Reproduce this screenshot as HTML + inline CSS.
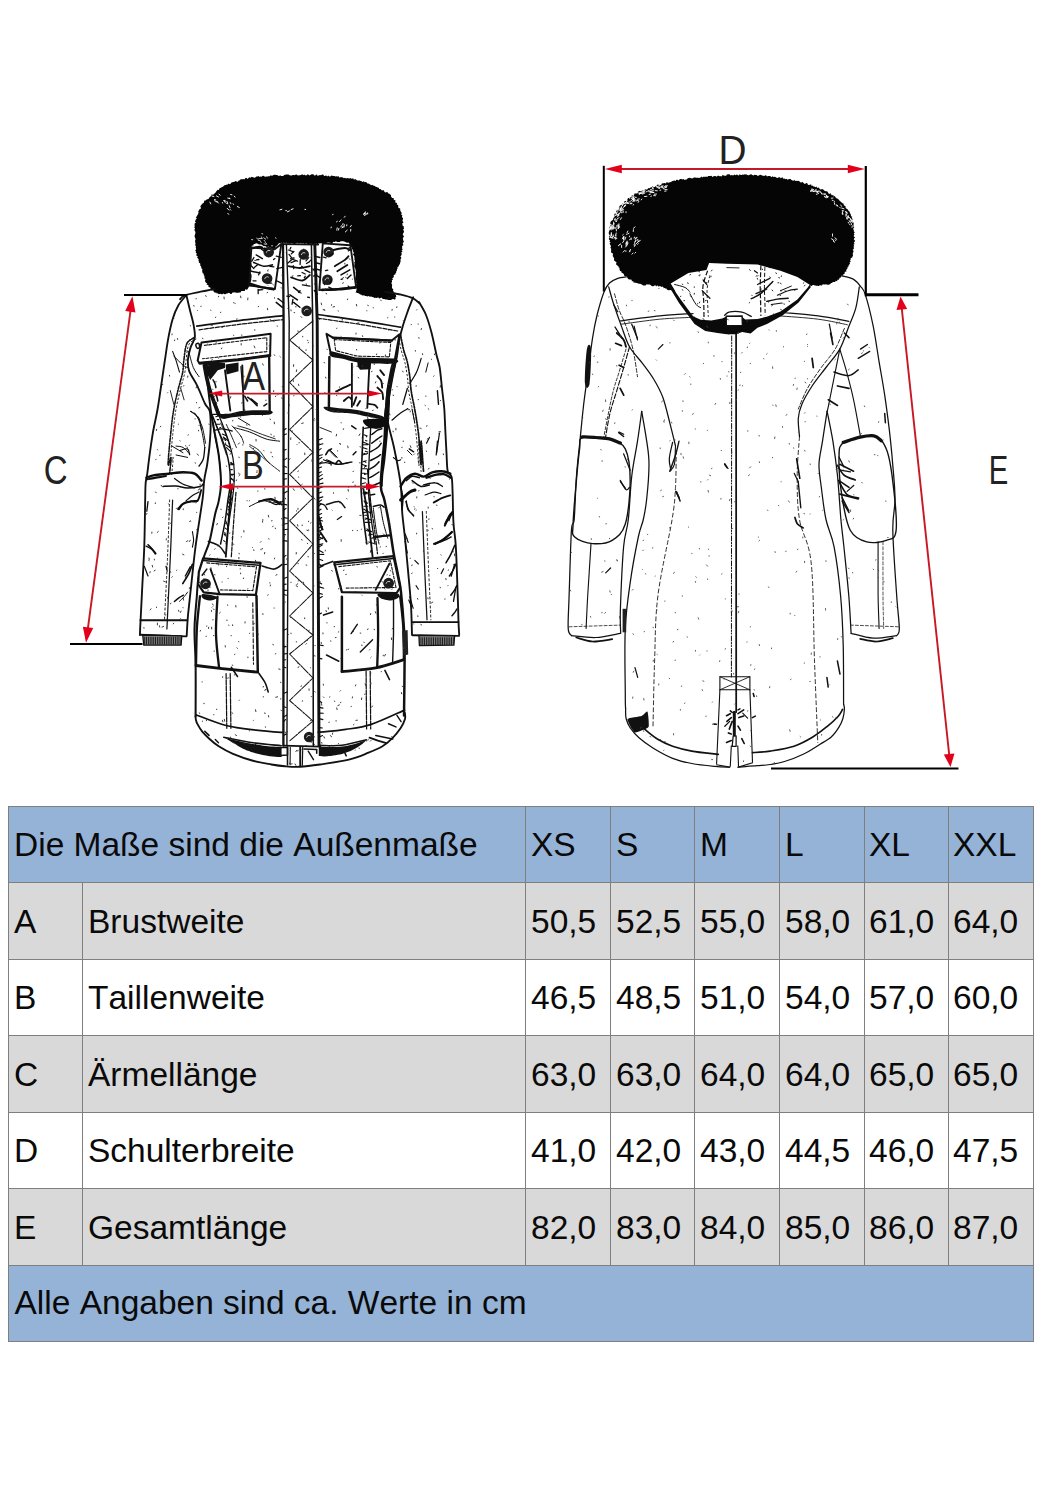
<!DOCTYPE html>
<html lang="de">
<head>
<meta charset="utf-8">
<title>Größentabelle</title>
<style>
html,body{margin:0;padding:0;background:#fff;}
body{width:1042px;height:1500px;position:relative;overflow:hidden;font-family:"Liberation Sans",Arial,sans-serif;color:#0a0a0a;}
#art{position:absolute;left:0;top:0;width:1042px;height:800px;display:block;}
#art text{font-family:"Liberation Sans",Arial,sans-serif;fill:#222;}
table{position:absolute;left:8px;top:806px;border-collapse:collapse;table-layout:fixed;width:1025px;font-size:33.5px;font-kerning:none;}
td{border:1px solid #7f7f7f;height:74px;padding:1px 0 0 5px;vertical-align:middle;white-space:nowrap;overflow:hidden;line-height:40px;}
tr.h td{background:#95b3d7;}
tr.g td{background:#d9d9d9;}
tr.w td{background:#fff;}
td.t{letter-spacing:0;}
td.l{padding-left:5px;}
td:nth-child(n+7),tr.h td:nth-child(n+6){padding-left:4px;}
tr.x td{height:75px;}
tr.f td{padding:0 0 1.4px 5.5px;height:73.6px;}
</style>
</head>
<body>
<svg id="art" viewBox="0 0 1042 800" width="1042" height="800">
<g id="front">
<path d="M226.1 293.9L224.6 294.3 223.2 293.6 222 294.6 220.9 293.8 219.8 293.9 218.7 294.2 218 293.2 216.8 293.6 216.2 292.6 215.1 292.8 214.3 292.3 213.6 291.4 213.1 290.3 211.6 290.6 210.9 289.8 210.6 288.7 210.3 287.6 209.2 287.2 208.3 286.4 208.4 285 206.5 284.7 207.3 283.3 206.1 282.9 205.5 282.1 205.1 281.2 205.1 280.1 205.6 278.9 204.3 278.2 204.6 276.9 204.4 275.9 203.7 274.9 203.7 273.8 202.6 272.9 202.3 271.8 202.1 270.7 202.5 269.6 201.8 268.8 201.3 268 201.3 267 200.7 266.1 200.1 265.3 200.4 264.1 199.9 263.2 198.8 262.6 198.9 261.4 198.5 260.5 198.6 259.3 198.1 258.4 197.1 257.7 197.8 256.3 196.2 255.6 196.5 254.5 196.8 253.4 195.7 252.6 196 251.5 195.2 250.6 196 249.4 196.1 248.3 195.6 247.3 196 246.2 195 245.1 195.6 244 195.3 242.9 195.2 241.8 195 240.8 195.5 239.7 195.6 238.7 194.8 237.7 195.1 236.8 194.1 235.9 195.1 235 195 234.2 195.5 232.8 195.2 231.5 194.4 230.3 194.6 229.2 195.1 228.2 194.1 227.2 194.9 226.3 194.5 225.3 194.6 224.4 194.6 223.5 195.9 222.7 195 221.4 195.4 220.4 195.8 219.4 196.8 218.5 195.8 217.2 196.7 216.4 197.1 215.5 197.9 214.6 198.2 213.6 198.6 212.7 198.2 211.4 198.8 210.5 199.2 209.5 200.4 208.9 201 208 200.3 206.5 200.9 205.6 201.5 204.8 202 204 203 203.3 203.8 202.7 204 201.6 204.5 200.6 205.6 200.5 206.3 199.7 207.3 199.3 208.6 199 209 198 209.6 197.2 210.4 196.6 211.3 195.9 211.4 194.5 213.2 194.8 213.9 193.9 214.8 193.3 215.6 192.6 216.1 191.4 216.9 190.8 217.5 189.8 218.9 189.9 219.3 188.5 220.2 187.9 221.2 187.6 222.1 186.9 223.2 186.6 224 185.7 225 185.1 226 184.9 226.8 184.4 227.9 184.4 228.5 183.5 230 184.3 230.7 183.6 231.4 182.5 232.4 182.3 233.5 182.1 234.5 181.7 235.5 181 237.1 181.7 238 181.7 238.6 180.6 239.5 180.4 240.3 179.5 241.2 179.2 242.3 179.3 243.2 179 244.4 179.6 245.2 178.3 246.2 177.8 247.6 179 248.5 178.1 249.5 177.3 250.7 177.7 251.7 176.7 253 177.3 254.3 177.8 255.1 177.5 256 177.1 256.8 176.3 257.7 176.4 258.6 176 259.7 176.9 260.6 176.4 261.6 176.7 262.5 175.9 263.5 175.7 264.5 176.6 265.6 176.8 266.6 176.5 267.6 176.4 268.6 176.3 269.7 176.2 270.7 175.3 271.8 175.7 272.8 175.4 273.9 174.8 275 174.8 276.1 175.1 277.2 175 278.2 175.7 279.2 176.1 280.1 175.2 281.1 176 282.2 176 283.2 175.9 284.2 174.9 285.3 174.7 286.3 174.6 287.4 174.6 288.5 174.5 289.6 175.2 290.7 175.6 291.7 175.5 292.8 174.9 293.9 175.1 295 175.3 296 174.2 297.1 175.1 298.1 175.4 299.2 175.2 300.2 175.2 301.2 174.7 302.2 174.2 303.2 175.2 304.1 174.5 305.1 175.2 306.2 175.5 307.3 174.6 308.4 174.6 309.4 175.5 310.4 175.1 311.4 174.3 312.4 174.2 313.4 174.3 314.3 175.5 315.3 175.4 316.3 174.3 317.2 175.5 318.1 175.8 319.1 175.3 320.1 174.9 321.1 175.2 322.1 174.6 323.2 174.5 324.1 176.1 325.2 175.7 326.3 175.6 327.3 176.4 328.4 175.6 329.2 176.4 330.2 176.5 331.3 175.6 332.3 175.8 333.4 175.9 334.4 176 335.4 176.6 336.5 176.3 337.6 176.6 338.7 176.3 339.6 177.7 340.8 176.9 341.9 177.3 342.9 177.6 343.9 178.3 345.1 177.7 346 178.6 347.2 178.1 348.2 178.3 349.3 178.5 350.4 177.9 351.3 178.7 352.3 178.5 353.4 178.4 354 179.8 355.2 179.1 356.2 179.8 357.2 180.5 358.4 180.5 359.6 180.4 360.6 181 361.6 181.3 362.5 182 363.8 181.2 364.6 182.2 365.8 182.1 366.7 182.5 367.4 183.5 368.5 183.5 369.4 183.9 370.2 184.6 371.1 185.2 372.3 184.8 373 185.5 374 185.7 374.9 186.1 375.6 186.8 376.8 186.9 377.7 187.5 378.7 187.8 379.3 189 380.4 189.1 381.2 189.8 382 190.4 383.4 190 384.1 190.9 384.6 192 385.5 192.4 387 192 387.8 192.5 388.3 193.6 389.5 193.7 390.1 194.5 391 195 391 196.4 391.6 197.2 392.1 198 393.7 198 393.6 199.3 394.3 200.1 395.6 200.4 395.2 201.9 395.7 202.8 397.2 203 396.7 204.5 398 204.9 398.4 205.9 398.1 207.2 398.8 208 400.2 208.6 400.2 209.8 400.4 210.9 401 211.8 401.6 212.8 401.6 213.8 401.2 214.8 402.5 215.5 401.9 216.6 402.3 217.5 403.1 218.3 402.8 219.4 402.5 220.4 402.8 221.4 403.6 222.3 402.2 223.5 402.6 224.5 402.4 225.5 403.9 226.5 403.7 227.5 404.1 228.6 403 229.7 403.8 230.7 404 231.8 403.6 232.8 402.8 233.9 402.9 234.9 403.8 236 403.9 237 402.7 237.9 403.2 239 402.9 240 403.8 241 403.8 242.1 402.7 243 403 244.1 403.5 245.2 402 246.1 402.3 247.2 401.9 248.2 402.9 249.4 401.5 250.3 402.6 251.5 401.2 252.4 401.7 253.5 401.7 254.6 401.2 255.5 400.4 256.4 401.2 257.6 401.2 258.6 400.4 259.5 400.6 260.5 400.6 261.5 400.2 262.5 400 263.6 399.5 264.6 398.9 265.6 398.5 266.6 397.4 267.3 397.6 268.6 396.9 269.4 396.9 270.6 396.2 271.4 396.2 272.6 395.4 273.4 395.3 274.5 393.8 274.9 393.7 275.9 393.9 277.1 393.1 277.8 392.1 278.4 393.1 279.7 391.7 280.3 392.1 281.3 391.9 282.1 391.3 283.2 392.1 284.4 392.1 285.6 392 286.9 391.9 288.2 393.3 289.1 393 290.5 393.6 291.5 394.1 292.6 394.9 293.4 395.3 294.4 396 295.2 396.1 296.1 396.3 297 395.2 297.5 395.7 298.4 395.3 299.2 394.7 299.8 393.5 299 392.7 299.1 391.9 299.5 390.8 300.1 389.6 300.1 388.4 299.9 387.1 299.4 385.6 299.6 384.2 299 382.6 299 382 297.8 381.1 297.7 380.1 298.2 379 298.5 378.2 297.2 376.9 298 375.8 297.8 374.5 298.1 373.5 297.3 372.3 296.9 371.1 296.6 369.8 296.8 368.7 296.1 367.3 296.6 366.3 296 365.1 296 364.1 295.2 362.9 295.5 361.8 295.3 361 294.6 360.1 294.5 359.4 293.7 358.6 293.5 358.1 293 357.4 292.9 355.7 292.3 355.5 293.4 355.7 292.5 356.1 291.3 357 287.8 355.6 287.3 356.4 286.5 356.2 285.8 355.2 285.1 356.4 284.2 356.4 283.3 356 282.4 356.1 281.4 356.2 280.4 355 279.4 355.6 278.3 355.5 277.2 356 276 355.9 274.9 355.9 273.7 355.5 272.5 355.9 271.2 355.5 270 355.4 268.8 354.6 267.6 354.2 266.4 354.3 265.1 354.6 263.8 354.1 262.6 355.1 261.3 354.5 260.1 354.5 258.9 354.4 257.8 354.3 256.6 353.8 255.5 352.8 254.6 353.9 253.3 353.6 252.2 353 251.3 352.8 250.4 352.7 249.4 351.5 248.9 352.2 247.7 351.2 247.3 350.6 246.7 350.5 246 350.7 245 349.4 244.8 349.3 243.5 348.6 242.6 347.3 242.7 346.3 242.5 345.3 242.1 344.3 241.5 343.2 241.2 342 241.3 340.8 241.2 339.6 242.1 338.4 242 337.2 241.9 335.9 241.3 334.7 242.1 333.5 241.8 332.4 242.9 331.2 243 330 242.8 328.8 242.4 327.8 242.5 326.8 242.7 325.9 243.5 325 243.2 324.2 243.4 323.4 243.4 322.8 244 320.7 242.8 321.5 243.4 321 243.2 318.2 243.4 317.6 244.8 316.9 244.1 316.2 243.5 315.4 243.3 314.5 244.1 313.6 244.3 312.6 244.4 311.6 243.2 310.5 244.3 309.5 243.7 308.3 244.3 307.2 243.7 306 242.9 304.8 244.2 303.6 243.1 302.4 243.5 301.2 242.9 299.9 243.1 298.7 243.8 297.5 242.7 296.2 243.3 295 244 293.8 244 292.6 243.2 291.4 243.3 290.3 243.5 289.2 243.7 288.1 243.4 287.1 243.4 286.1 242.6 285.2 244 284.3 242.8 283.4 242.7 282.7 243.9 281.9 242.6 281.3 243 278.9 243.2 277.8 244.8 276.9 245.4 276.5 246.2 275.3 246.8 275.7 247.7 275.4 248.6 274.5 248.8 273.5 249.1 272.5 249.3 271.5 248.9 270.8 247.5 269.4 247.9 268.7 246.5 267.2 247.1 266.1 246.7 265.1 246 263.9 246.3 262.9 245.9 262 244.8 260.9 244.6 259.7 244.4 258.4 244.2 257.3 243.5 256.1 243.2 254.9 243.9 253.7 243.9 253.4 245.4 251.8 245.8 251.5 247.6 250.8 248 250.9 248.7 251.3 249.5 251.6 250.3 250.1 251 251.3 251.9 250.7 252.8 250.9 253.8 251 254.8 250.3 255.9 249.9 257 251.1 258.1 250.5 259.2 251.1 260.4 250.7 261.6 251 262.8 251.4 264 251.5 265.3 251.4 266.5 250.4 267.8 251 269 251.5 270.2 250.4 271.5 250.3 272.7 251.1 273.9 251.6 275.1 251.5 276.2 251.6 277.4 251.1 278.4 251.4 279.5 251.1 280.6 250.9 281.5 250.3 282.4 249.6 283.1 249.6 284 249.8 284.9 249.5 285.6 249.1 286.2 248.7 287.2 248.1 288.1 247.6 289.2 246.5 289.7 245.1 289.3 244.8 291 243.5 290.9 242.5 291.1 241.3 291.1 240.5 292.4 239.4 292.6 238.2 292.8 237 292.8 235.9 292.8 234.7 292.2 233.6 292.4 232.5 292.5 231.5 293.9 230.5 293.9 229.5 292.9 228.5 292.7 227.7 293.4 226.8 293.3Z" fill="#050505"/>
<path d="M186.4 295C185.1 296.7 180.7 301.3 178.4 305.3C176.1 309.4 174.3 313.4 172.6 319.2C170.9 324.9 169.3 332.6 168 339.9C166.7 347.2 165.7 355.2 164.5 362.9C163.4 370.6 162.2 378.3 161.1 386C159.9 393.6 159 401.3 157.6 409C156.3 416.7 154.4 424.3 153 432C151.7 439.7 150.5 448.1 149.6 455C148.6 462 147.9 468.9 147.3 473.5C146.6 478.1 146 478.5 145.7 482.7C145.3 486.9 145.4 488.2 145.2 498.8C145 509.4 144.8 530.5 144.3 546.1C143.7 561.6 142.6 579.8 142 592.1C141.4 604.4 140.9 612.7 140.6 619.8C140.2 626.9 140 632.2 139.9 634.7" fill="none" stroke="#111" stroke-width="1.86" stroke-linecap="round" stroke-linejoin="round"/>
<path d="M186.4 295.3C187 297.8 188.7 305.1 189.9 310C191.1 314.9 192.8 320.3 193.6 324.9C194.4 329.5 195.3 333.6 194.8 337.4C194.3 341.1 191.8 343.6 190.6 347.4C189.4 351.1 188.1 355.9 187.9 359.9C187.7 363.8 187.6 366.7 189.2 371.1C190.8 375.5 194.8 380.7 197.4 386.1C200 391.5 202.9 399.4 204.9 403.5C206.9 407.6 208.7 407 209.7 411C210.7 415 210.7 421.6 210.6 427.4C210.6 433.2 210 439.7 209.5 445.8C208.9 452 208 458.5 207.2 464.3C206.3 470 204.9 474.6 204.2 480.4C203.4 486.1 204 487.9 202.6 498.8C201.1 509.8 197.4 532.4 195.6 546.1C193.8 559.7 193 569.1 191.7 580.6C190.5 592.1 188.9 606 188 615.2C187.2 624.4 186.9 632.4 186.7 635.9" fill="none" stroke="#111" stroke-width="1.86" stroke-linecap="round" stroke-linejoin="round"/>
<path d="M418.9 301.9C420.1 304 423.7 309.4 425.8 314.5C427.9 319.7 429.9 326.4 431.6 333C433.3 339.5 434.9 347.9 436.2 353.7C437.5 359.5 438.7 361.8 439.7 367.5C440.6 373.3 441.2 381.3 442 388.3C442.7 395.2 443.7 401.7 444.3 409C444.8 416.3 445 424.3 445.4 432C445.8 439.7 446.2 448.5 446.6 455C446.9 461.6 446.9 467.5 447.7 471.2C448.6 474.8 450.8 473.5 451.6 476.9C452.4 480.4 452.2 484.2 452.6 491.9C452.9 499.6 452.9 514 453.5 523C454 532.1 455.1 534.5 455.8 546.1C456.5 557.6 457.2 579.5 457.6 592.1C458.1 604.8 458.3 615 458.5 622.1C458.8 629.2 459.1 632.6 459.2 634.7" fill="none" stroke="#111" stroke-width="1.86" stroke-linecap="round" stroke-linejoin="round"/>
<path d="M413.2 297.3C412.2 299.8 409.1 307.4 407.4 312.2C405.7 317 404.1 321.5 402.8 326.1C401.5 330.7 400.3 334.9 399.3 339.9C398.4 344.9 398 350.6 397 356C396.1 361.4 394.9 365.6 393.6 372.1C392.3 378.7 390.5 387.9 389.4 395.2C388.4 402.5 387.2 410.5 387.1 415.9C387.1 421.3 387.9 422.4 389 427.4C390.1 432.4 392.1 438.9 393.6 445.8C395.1 452.7 397 462 398.2 468.9C399.4 475.8 400.3 479.8 401 487.3C401.7 494.8 401.7 505.9 402.3 513.8C403 521.7 403.7 525.3 404.6 534.5C405.6 543.8 406.8 557.6 407.9 569.1C408.9 580.6 410.2 592.7 410.9 603.6C411.6 614.6 411.8 629.6 412 634.7" fill="none" stroke="#111" stroke-width="1.86" stroke-linecap="round" stroke-linejoin="round"/>
<path d="M206 369.8C206.8 376.4 209.3 399 210.6 409C212 419 212.7 422 214.1 429.7C215.4 437.4 217.5 446.2 218.7 455C219.8 463.9 221 475 221 482.7C221 490.4 219.6 495.9 218.7 501.1C217.7 506.3 216.8 507.1 215.2 513.8C213.7 520.5 211.4 534.2 209.5 541.5C207.5 548.8 205.5 551.4 203.7 557.6C201.9 563.7 199.6 571.8 198.4 578.3C197.3 584.8 197.4 588.3 196.8 596.7C196.1 605.2 194.7 617.5 194.5 629C194.3 640.5 195.5 651.2 195.6 665.8C195.8 680.4 195.6 708.1 195.6 716.5" fill="none" stroke="#111" stroke-width="2.02" stroke-linecap="round" stroke-linejoin="round"/>
<path d="M393.6 367.5C392.6 371.4 389.2 382.1 387.8 390.6C386.5 399 386.1 409.8 385.5 418.2C385 426.6 385 433.6 384.4 441.2C383.8 448.9 382.6 456.6 382.1 464.3C381.5 471.9 380.5 481.3 380.9 487.3C381.3 493.3 383 494 384.4 500C385.7 506 387.4 514.2 389 523C390.5 531.9 392.1 544.1 393.6 553C395.1 561.8 397 569.5 398.2 576C399.4 582.5 400 583.3 401 592.1C401.9 601 403.3 617.9 404 629C404.6 640.1 404.6 644.5 404.6 658.9C404.6 673.3 404.1 706 404 715.4" fill="none" stroke="#111" stroke-width="2.48" stroke-linecap="round" stroke-linejoin="round"/>
<path d="M195.5 716.3C195.6 716.9 195.6 718.5 195.9 719.8C196.2 721.1 196.4 722.1 197.5 724.1C198.6 726.1 200.4 729.3 202.3 731.7C204.3 734.1 206.3 736.1 209 738.5C211.7 741 214.7 743.7 218.7 746.3C222.7 748.8 227.4 751.5 233 753.9C238.5 756.2 245.7 758.8 252.1 760.5C258.5 762.3 266 763.5 271.4 764.5C276.9 765.4 280.3 765.9 285 766.3C289.8 766.7 293.9 767.1 299.8 766.8C305.6 766.4 311.9 765.6 320 764.5C328.2 763.3 340.8 761.5 348.8 759.6C356.8 757.7 362.3 755.2 367.9 752.9C373.6 750.7 378.3 748.8 382.5 746.3C386.6 743.7 389.9 740.7 392.9 737.6C396 734.6 398.7 731.1 400.7 728.1C402.7 725 404.2 721.8 404.9 719.3C405.7 716.8 404.9 713.9 404.9 712.9" fill="none" stroke="#111" stroke-width="1.86" stroke-linecap="round" stroke-linejoin="round"/>
<path d="M195.7 714.7C200.7 716.5 216 723 226.1 725.5C236.1 728.1 246.6 729 256 730.1C265.4 731.3 278.1 732.1 282.5 732.4" fill="none" stroke="#111" stroke-width="1.71" stroke-linecap="round" stroke-linejoin="round"/>
<path d="M318.2 732.4C322.8 731.9 337 730.8 345.8 729.4C354.7 728.1 361.4 727.6 371.2 724.4C381 721.2 399 712.5 404.6 710.1" fill="none" stroke="#111" stroke-width="1.71" stroke-linecap="round" stroke-linejoin="round"/>
<path d="M224.8 737.7L226.1 738 227.7 738.4 229.7 738.9 231.9 739.5 234.2 740.1 236.4 740.6 238.6 741.1 240.6 741.5 242.7 742 244.8 742.4 247 742.9 249.1 743.3 251.2 743.7 253.3 744 255.5 744.4 257.6 744.8 259.7 745.1 261.9 745.4 264 745.7 266.1 745.9 268.1 746.2 270.6 746.4 273.2 746.6 275.8 746.7 278.2 746.8 280.2 746.9 281.6 747 281.6 757.1 280.1 757.1 278 756.9 275.4 756.8 272.8 756.6 270.2 756.3 268.2 756 266.1 755.6 264 755.2 261.8 754.8 259.7 754.3 257.6 753.8 255.4 753.2 253.3 752.5 251.1 751.9 249 751.1 246.9 750.4 244.9 749.5 243 748.7 241.2 747.7 239.4 746.7 237.7 745.7 236 744.6 234.3 743.6 232.2 742.4 230 741 227.9 739.7 226.1 738.5 224.8 737.7Z" fill="#111"/>
<path d="M318.8 746.6L320.1 746.6 321.8 746.7 323.9 746.8 326.2 746.9 328.6 747 331.1 747.1 333.5 747.1 335.8 747.1 337.8 747 340.1 746.8 342.3 746.6 344.4 746.2 346.5 745.9 348.5 745.4 350.5 745 352.6 744.5 354.8 743.9 357.1 743.2 359.5 742.4 361.8 741.6 363.9 740.9 365.6 740.3 366.9 739.8 366.9 739.8 365.8 740.8 364.2 742.2 362.3 743.9 360.1 745.5 357.9 747 356.2 748 354.4 749 352.5 750 350.5 750.9 348.4 751.8 346.3 752.6 344.1 753.3 342.1 753.9 339.9 754.4 337.7 754.8 335.4 755.2 333.1 755.6 330.9 755.9 329 756.1 327.2 756.3 324.3 756.4 322 756.3 320.1 756 318.8 755.9Z" fill="#111"/>
<path d="M287.5 747L287.5 765" fill="none" stroke="#111" stroke-width="1.55" stroke-linecap="round" stroke-linejoin="round"/>
<path d="M300.2 747L300.2 765.4" fill="none" stroke="#111" stroke-width="1.86" stroke-linecap="round" stroke-linejoin="round"/>
<path d="M302.7 747.4L302.3 765.4" fill="none" stroke="#111" stroke-width="1.24" stroke-linecap="round" stroke-linejoin="round"/>
<path d="M290.3 747.4L290.1 764.7" fill="none" stroke="#111" stroke-width="1.08" stroke-linecap="round" stroke-linejoin="round"/>
<path d="M279.7 747.4L287.5 747.4 287.5 755 280.4 755.5" fill="none" stroke="#111" stroke-width="1.55" stroke-linecap="round" stroke-linejoin="round"/>
<path d="M304 749.1L316.7 749.5 316.7 753.3" fill="none" stroke="#111" stroke-width="1.55" stroke-linecap="round" stroke-linejoin="round"/>
<path d="M308.2 751.2L313.5 759.7" fill="none" stroke="#111" stroke-width="1.4" stroke-linecap="round" stroke-linejoin="round"/>
<path d="M369.5 737.7L377.9 740.7 386.4 743.2" fill="none" stroke="#111" stroke-width="1.86" stroke-linecap="round" stroke-linejoin="round"/>
<path d="M375.8 735.6L384.2 737.3 392.7 739" fill="none" stroke="#111" stroke-width="1.55" stroke-linecap="round" stroke-linejoin="round"/>
<path d="M344.1 751.2L346.2 755.9" fill="none" stroke="#111" stroke-width="1.55" stroke-linecap="round" stroke-linejoin="round"/>
<path d="M204.8 731.2L209 735.4" fill="none" stroke="#111" stroke-width="1.55" stroke-linecap="round" stroke-linejoin="round"/>
<path d="M215.3 739.6L218.5 742.8" fill="none" stroke="#111" stroke-width="1.4" stroke-linecap="round" stroke-linejoin="round"/>
<path d="M388.5 723.8L395.9 726.9" fill="none" stroke="#111" stroke-width="1.55" stroke-linecap="round" stroke-linejoin="round"/>
<path d="M396.9 715.3L401.1 721.7" fill="none" stroke="#111" stroke-width="1.4" stroke-linecap="round" stroke-linejoin="round"/>
<path d="M255.5 744.5L257.1 747" fill="none" stroke="#111" stroke-width="1.24" stroke-linecap="round" stroke-linejoin="round"/>
<path d="M223.8 737.3C228.7 738.2 243.8 741.4 253.3 742.8C262.9 744.2 276.6 745.2 281.2 745.7" fill="none" stroke="#111" stroke-width="1.55" stroke-linecap="round" stroke-linejoin="round"/>
<path d="M319.2 745.3C323 745.3 334.2 746.2 342 745.3C349.9 744.4 362.2 740.7 366.3 739.8" fill="none" stroke="#111" stroke-width="1.55" stroke-linecap="round" stroke-linejoin="round"/>
<path d="M226.1 673.7L226.8 729" fill="none" stroke="#111" stroke-width="1.24" stroke-linecap="round" stroke-linejoin="round" stroke-dasharray="5 1.2"/>
<path d="M230.2 673.7L230.9 729" fill="none" stroke="#111" stroke-width="1.24" stroke-linecap="round" stroke-linejoin="round" stroke-dasharray="5 1.2"/>
<path d="M366.1 671.4L366.6 729" fill="none" stroke="#111" stroke-width="1.24" stroke-linecap="round" stroke-linejoin="round" stroke-dasharray="5 1.2"/>
<path d="M370.2 671.4L370.7 729" fill="none" stroke="#111" stroke-width="1.24" stroke-linecap="round" stroke-linejoin="round" stroke-dasharray="5 1.2"/>
<path d="M214.5 289C212.2 289.4 205.7 290.7 200.7 291.7C195.7 292.8 188.1 294.2 184.6 295.4C181.2 296.7 180.8 298.7 180 299.3" fill="none" stroke="#111" stroke-width="1.86" stroke-linecap="round" stroke-linejoin="round"/>
<path d="M385 291.7C387.7 292.2 396.5 293.7 401.1 294.7C405.7 295.8 409.6 296.8 412.6 298.2C415.7 299.6 418.4 302.4 419.5 303.3" fill="none" stroke="#111" stroke-width="1.86" stroke-linecap="round" stroke-linejoin="round"/>
<path d="M196.8 326.1C204.1 325.1 226.2 322 240.6 320.3C255 318.6 276.1 316.5 283.2 315.7" fill="none" stroke="#111" stroke-width="1.71" stroke-linecap="round" stroke-linejoin="round"/>
<path d="M199.1 329.8C206 328.8 226.5 325.9 240.6 324.2C254.6 322.5 276.1 320.4 283.2 319.6" fill="none" stroke="#111" stroke-width="1.24" stroke-linecap="round" stroke-linejoin="round" stroke-dasharray="4 1.5"/>
<path d="M317.6 314.5C324.5 315.5 345.2 318.2 359 320.3C372.9 322.4 393.6 326.1 400.5 327.2" fill="none" stroke="#111" stroke-width="1.71" stroke-linecap="round" stroke-linejoin="round"/>
<path d="M317.6 318.2C324.5 319.2 345.6 322.1 359 324.2C372.5 326.4 391.7 330 398.2 331.1" fill="none" stroke="#111" stroke-width="1.24" stroke-linecap="round" stroke-linejoin="round" stroke-dasharray="4 1.5"/>
<path d="M283 244.1L283.6 322 283.4 745.6" fill="none" stroke="#111" stroke-width="2.33" stroke-linecap="round" stroke-linejoin="round"/>
<path d="M286.4 244.1L289.2 322 286.9 745.6" fill="none" stroke="#111" stroke-width="1.4" stroke-linecap="round" stroke-linejoin="round"/>
<path d="M311.4 244.1L312.7 322 313.3 745.6" fill="none" stroke="#111" stroke-width="1.55" stroke-linecap="round" stroke-linejoin="round"/>
<path d="M314.8 244.1L317.2 322 319 745.6" fill="none" stroke="#111" stroke-width="2.94" stroke-linecap="round" stroke-linejoin="round"/>
<path d="M283.2 745.6L320.4 746.6" fill="none" stroke="#111" stroke-width="1.86" stroke-linecap="round" stroke-linejoin="round"/>
<path d="M281.3 244.1L318.2 244.5" fill="none" stroke="#111" stroke-width="1.86" stroke-linecap="round" stroke-linejoin="round"/>
<path d="M313 321L289.6 340 313 360 289.6 382.4 313 406.7 289.6 429.6 313 452.3 289.6 474.4 313 498 289.6 520.8 313 544 289.6 571 313 593 289.6 616 313 635 289.6 654 313 678 289.6 700.5 313 721 289.6 741" fill="none" stroke="#111" stroke-width="1.01" stroke-linecap="round" stroke-linejoin="round" stroke-dasharray="7 1.2 2 1"/>
<path d="M251.4 247.5L274.4 249.4 281.3 244.1 274.9 289 249.1 285.5Z" fill="none" stroke="#111" stroke-width="1.86" stroke-linecap="round" stroke-linejoin="round"/>
<path d="M322.8 243.4L350.4 245.2 356.2 287.8 319.3 290.1Z" fill="none" stroke="#111" stroke-width="1.86" stroke-linecap="round" stroke-linejoin="round"/>
<circle cx="268.7" cy="252.1" r="5.3" fill="#1c1c1c"/>
<path d="M266.3 252.7a2.6 2.6 0 0 1 4 -1.9" fill="none" stroke="#ddd" stroke-width="0.9"/>
<circle cx="267.1" cy="278.6" r="5.3" fill="#1c1c1c"/>
<path d="M264.7 279.1a2.6 2.6 0 0 1 4 -1.9" fill="none" stroke="#ddd" stroke-width="0.9"/>
<circle cx="303.7" cy="254.4" r="5.3" fill="#1c1c1c"/>
<path d="M301.3 255a2.6 2.6 0 0 1 4 -1.9" fill="none" stroke="#ddd" stroke-width="0.9"/>
<circle cx="328.6" cy="252.1" r="5.3" fill="#1c1c1c"/>
<path d="M326.2 252.7a2.6 2.6 0 0 1 4 -1.9" fill="none" stroke="#ddd" stroke-width="0.9"/>
<circle cx="327.4" cy="279.8" r="5.3" fill="#1c1c1c"/>
<path d="M325 280.3a2.6 2.6 0 0 1 4 -1.9" fill="none" stroke="#ddd" stroke-width="0.9"/>
<circle cx="306.7" cy="310.9" r="5.3" fill="#1c1c1c"/>
<path d="M304.3 311.4a2.6 2.6 0 0 1 4 -1.9" fill="none" stroke="#ddd" stroke-width="0.9"/>
<circle cx="309" cy="737" r="5.2" fill="#1c1c1c"/>
<path d="M306.6 737.6a2.6 2.6 0 0 1 3.9 -1.8" fill="none" stroke="#ddd" stroke-width="0.9"/>
<path d="M204.4 363.1L225 363.1 225 367.9 217.8 370.3 210.2 379.9 206.3 372.2Z" fill="#111"/>
<path d="M225.5 364.5L238.5 362.6 238.5 371.3 226.5 374.6Z" fill="#111"/>
<path d="M218.8 414.5C220.1 413.6 226.1 414.1 230.3 413.5C234.5 412.9 237.2 411.3 243.7 410.8C250.3 410.3 265.3 409.8 269.7 410.4C274 411 273.5 413.6 269.8 414.5C266.2 415.3 253.9 414.9 247.6 415.4C241.3 415.9 236.4 416.8 232.2 417.3C228.1 417.9 224.9 419.3 222.6 418.8C220.4 418.3 217.5 415.3 218.8 414.5Z" fill="#111"/>
<path d="M204.4 365.5C204.8 367.6 205.8 373.7 206.8 378C207.8 382.3 208.2 385.3 210.2 391.4C212.2 397.6 217.4 411 218.8 414.9" fill="none" stroke="#111" stroke-width="3.72" stroke-linecap="round" stroke-linejoin="round"/>
<path d="M207.8 379.9C208.6 382.8 210.4 391.1 212.6 397.2C214.7 403.3 219.4 413.2 220.7 416.4" fill="none" stroke="#111" stroke-width="1.55" stroke-linecap="round" stroke-linejoin="round"/>
<path d="M269.2 357.8L269.7 411.6" fill="none" stroke="#111" stroke-width="2.33" stroke-linecap="round" stroke-linejoin="round"/>
<path d="M225 370.3L230.3 410.6" fill="none" stroke="#111" stroke-width="1.86" stroke-linecap="round" stroke-linejoin="round"/>
<path d="M242.3 365.5L243.7 410.1" fill="none" stroke="#111" stroke-width="1.86" stroke-linecap="round" stroke-linejoin="round"/>
<path d="M240.9 366.5L242.6 387.6" fill="none" stroke="#111" stroke-width="1.24" stroke-linecap="round" stroke-linejoin="round"/>
<path d="M201.5 342.5L270.6 333.8 270.1 355.1 238 359.3 199.1 362.8 197.7 360.5Z" fill="#fff" stroke="#111" stroke-width="2" stroke-linejoin="round"/>
<path d="M270.1 355.7L238 359.9 199.6 363.4" fill="none" stroke="#111" stroke-width="2.48" stroke-linecap="round" stroke-linejoin="round"/>
<path d="M204.4 345.4L266.8 337.7 266.8 351.6 202.5 358.8" fill="none" stroke="#111" stroke-width="1.08" stroke-linecap="round" stroke-linejoin="round" stroke-dasharray="3 1.5"/>
<path d="M195.8 344.4C195.5 345.2 196.6 347.8 197.2 348.2C197.8 348.7 199.4 348.1 199.6 347.3C199.8 346.5 199.3 343.9 198.6 343.4C198 343 196 343.6 195.8 344.4Z" fill="none" stroke="#111" stroke-width="1.55" stroke-linecap="round" stroke-linejoin="round"/>
<path d="M213 379.9C213.4 380.5 214.5 382.5 215 383.7C215.4 385 215.8 386.9 215.9 387.6" fill="none" stroke="#111" stroke-width="1.55" stroke-linecap="round" stroke-linejoin="round"/>
<path d="M247.6 397.2C248.4 397.8 250.8 399.6 252.4 401C254 402.5 256.4 405 257.2 405.8" fill="none" stroke="#111" stroke-width="1.55" stroke-linecap="round" stroke-linejoin="round"/>
<path d="M251.4 399.1L257.2 403.9" fill="none" stroke="#111" stroke-width="1.55" stroke-linecap="round" stroke-linejoin="round"/>
<path d="M244.7 396.2L247.6 401" fill="none" stroke="#111" stroke-width="1.55" stroke-linecap="round" stroke-linejoin="round"/>
<path d="M263.9 405.8L266.8 403.9" fill="none" stroke="#111" stroke-width="1.55" stroke-linecap="round" stroke-linejoin="round"/>
<path d="M215.9 392.4L217.8 401" fill="none" stroke="#111" stroke-width="1.55" stroke-linecap="round" stroke-linejoin="round"/>
<path d="M330.4 351.9C332.4 351.7 339.5 354 343.8 355.1C348.1 356.3 347.8 358.1 356.3 358.8C364.7 359.5 388.3 358.8 394.7 359.6C401 360.4 397.9 362.9 394.2 363.6C390.5 364.3 379.1 363.8 372.6 363.6C366.1 363.3 360.3 362.9 355.3 362.1C350.3 361.3 346.8 359.8 342.8 358.8C338.8 357.8 333.4 357.5 331.3 356.4C329.2 355.2 328.3 352.1 330.4 351.9Z" fill="#111"/>
<path d="M357.2 360.7L371.1 361.7 370.7 369.3 360.1 369.8 357.7 366.5Z" fill="#111"/>
<path d="M324.6 406.8C326.8 406.5 334.2 407.8 339 408.2C343.8 408.7 348.4 408.7 353.4 409.5C358.3 410.2 363.8 411.4 368.7 412.5C373.7 413.7 380.9 415.3 383.1 416.4C385.4 417.4 384.9 418.8 382.2 418.8C379.5 418.8 371.9 417.3 366.8 416.4C361.7 415.5 356.9 414.1 351.5 413.5C346 412.9 338.5 413.2 334.2 412.5C329.9 411.9 327.2 410.6 325.6 409.7C324 408.7 322.4 407 324.6 406.8Z" fill="#111"/>
<path d="M391.8 363.6C390.7 365.5 389.8 371.7 388.9 376.1C388 380.4 387.1 385 386.5 389.5C385.9 394 385.9 398.4 385.5 402.9C385.1 407.5 383.7 414.5 384.1 416.9C384.5 419.3 387.1 419.7 387.9 417.3C388.8 415 388.9 407.6 389.4 402.9C389.9 398.3 390.2 394 390.8 389.5C391.5 385 392.4 380.2 393.2 376.1C394 371.9 395.9 366.6 395.6 364.5C395.4 362.5 392.9 361.7 391.8 363.6Z" fill="#111"/>
<path d="M329.4 356.9L328.9 406.8" fill="none" stroke="#111" stroke-width="2.48" stroke-linecap="round" stroke-linejoin="round"/>
<path d="M351.9 363.6L351.9 406.8" fill="none" stroke="#111" stroke-width="1.86" stroke-linecap="round" stroke-linejoin="round"/>
<path d="M369.2 368.4L367.3 407.7" fill="none" stroke="#111" stroke-width="1.86" stroke-linecap="round" stroke-linejoin="round"/>
<path d="M326.5 333.8L332.8 337.7 391.8 340.6 399.5 334.3 394.8 359.6 356.3 358.6 330.4 351.9Z" fill="#fff" stroke="#111" stroke-width="2" stroke-linejoin="round"/>
<path d="M334.2 339.6L390.8 342.5 389.4 356.9 357.2 356.1 335.6 350.6Z" fill="none" stroke="#111" stroke-width="1.08" stroke-linecap="round" stroke-linejoin="round" stroke-dasharray="3 1.5"/>
<path d="M332.8 337.7L391.8 340.6" fill="none" stroke="#111" stroke-width="2.17" stroke-linecap="round" stroke-linejoin="round"/>
<path d="M336.1 391.4C337.4 390.8 341.4 388.7 343.8 387.6C346.2 386.5 349.4 385.2 350.5 384.7" fill="none" stroke="#111" stroke-width="1.86" stroke-linecap="round" stroke-linejoin="round"/>
<path d="M343.8 401C344.6 400.4 347.3 397.5 348.6 397.2C349.9 396.9 351 398.8 351.5 399.1" fill="none" stroke="#111" stroke-width="1.86" stroke-linecap="round" stroke-linejoin="round"/>
<path d="M368.7 403.9C369.7 404.1 373.1 404.2 374.5 404.9C375.9 405.5 376.9 407.3 377.4 407.7" fill="none" stroke="#111" stroke-width="1.86" stroke-linecap="round" stroke-linejoin="round"/>
<path d="M377.4 376.1C378 376.9 380.4 378.9 381.2 380.9C382 382.8 382 386.5 382.2 387.6" fill="none" stroke="#111" stroke-width="1.86" stroke-linecap="round" stroke-linejoin="round"/>
<path d="M380.3 370.3L384.1 375.1" fill="none" stroke="#111" stroke-width="1.86" stroke-linecap="round" stroke-linejoin="round"/>
<path d="M377.4 387.6C378.2 388.4 381.2 390.5 382.2 392.4C383.1 394.3 383 398 383.1 399.1" fill="none" stroke="#111" stroke-width="1.86" stroke-linecap="round" stroke-linejoin="round"/>
<path d="M353.4 404.9L356.3 397.2" fill="none" stroke="#111" stroke-width="1.86" stroke-linecap="round" stroke-linejoin="round"/>
<path d="M357.2 405.8L360.1 401" fill="none" stroke="#111" stroke-width="1.86" stroke-linecap="round" stroke-linejoin="round"/>
<path d="M200 596.1C199.5 601.3 197.6 615.9 196.9 627.4C196.3 638.9 196.2 658.6 196 664.9" fill="none" stroke="#111" stroke-width="2.33" stroke-linecap="round" stroke-linejoin="round"/>
<path d="M196 665.5L222.1 668.6 257.8 672.2" fill="none" stroke="#111" stroke-width="2.79" stroke-linecap="round" stroke-linejoin="round"/>
<path d="M256.5 596.1L257.8 671.6" fill="none" stroke="#111" stroke-width="2.48" stroke-linecap="round" stroke-linejoin="round"/>
<path d="M217.5 596.7C217.3 602.8 215.7 621.7 216 633.6C216.2 645.4 218.5 662.2 219.1 667.9" fill="none" stroke="#111" stroke-width="2.33" stroke-linecap="round" stroke-linejoin="round"/>
<path d="M252.8 602.8L253.5 664.3" fill="none" stroke="#111" stroke-width="1.08" stroke-linecap="round" stroke-linejoin="round" stroke-dasharray="4 2"/>
<path d="M203.1 558.3L260.5 562.9 255.9 594.9 219.7 594.2 203.7 592.4 198.2 584.4 198.8 572.1Z" fill="#fff" stroke="#111" stroke-width="2.2" stroke-linejoin="round"/>
<path d="M206.8 562.9L256.5 566.9 252.8 590.6 220.6 589.9" fill="none" stroke="#111" stroke-width="1.08" stroke-linecap="round" stroke-linejoin="round" stroke-dasharray="3 1.5"/>
<path d="M210.5 569.1L219.7 594.2" fill="none" stroke="#111" stroke-width="1.86" stroke-linecap="round" stroke-linejoin="round"/>
<path d="M203.1 560.5L260.5 565.4" fill="none" stroke="#111" stroke-width="1.55" stroke-linecap="round" stroke-linejoin="round"/>
<path d="M202.2 594.2C203.8 593.7 210.4 594.9 212.9 595.5C215.5 596.1 218 597.1 217.5 597.9C217 598.7 212.3 600.3 209.8 600.4C207.4 600.5 204.4 599.6 203.1 598.5C201.8 597.5 200.5 594.8 202.2 594.2Z" fill="#111"/>
<circle cx="205.5" cy="583.8" r="5.4" fill="#1c1c1c"/>
<path d="M203.1 584.3a2.7 2.7 0 0 1 4.1 -1.9" fill="none" stroke="#ddd" stroke-width="0.9"/>
<path d="M341.9 596.7L341.9 671" fill="none" stroke="#111" stroke-width="2.48" stroke-linecap="round" stroke-linejoin="round"/>
<path d="M341.9 671.6C347.5 671 365.3 669.9 375.7 667.9C386 666 399.2 661 403.9 659.7" fill="none" stroke="#111" stroke-width="2.79" stroke-linecap="round" stroke-linejoin="round"/>
<path d="M400.2 596.7C400.8 601.8 402.7 616.9 403.3 627.4C403.9 637.9 403.8 654.3 403.9 659.7" fill="none" stroke="#111" stroke-width="2.33" stroke-linecap="round" stroke-linejoin="round"/>
<path d="M377.5 598.2C377.6 604.1 378.2 622.1 378.1 633.6C378.1 645 377.4 661.2 377.2 666.7" fill="none" stroke="#111" stroke-width="2.33" stroke-linecap="round" stroke-linejoin="round"/>
<path d="M393.5 598.2C393.5 604.1 393.6 622.8 393.5 633.6C393.3 644.3 392.7 657.9 392.6 662.7" fill="none" stroke="#111" stroke-width="1.4" stroke-linecap="round" stroke-linejoin="round"/>
<path d="M334.2 562.3L393.5 556.2 400.2 587.5 396.6 593 341.9 592.1Z" fill="#fff" stroke="#111" stroke-width="2.2" stroke-linejoin="round"/>
<path d="M338.8 566.6L390.4 560.8 396 587.5 345 588.1" fill="none" stroke="#111" stroke-width="1.08" stroke-linecap="round" stroke-linejoin="round" stroke-dasharray="3 1.5"/>
<path d="M389.5 563.5L375.7 589.9" fill="none" stroke="#111" stroke-width="1.86" stroke-linecap="round" stroke-linejoin="round"/>
<path d="M334.2 564.8L393.5 558.6" fill="none" stroke="#111" stroke-width="1.55" stroke-linecap="round" stroke-linejoin="round"/>
<path d="M378.8 593.6C381.6 592.9 393.9 593 397.2 593.6C400.5 594.2 399.7 596.2 398.7 597.3C397.7 598.4 394.1 600.3 391 600.4C388 600.5 382.3 599.1 380.3 597.9C378.2 596.8 375.9 594.3 378.8 593.6Z" fill="#111"/>
<circle cx="388.6" cy="583.2" r="5.4" fill="#1c1c1c"/>
<path d="M386.1 583.7a2.7 2.7 0 0 1 4.1 -1.9" fill="none" stroke="#ddd" stroke-width="0.9"/>
<path d="M402.1 631.1L407.6 629.9 408.2 654.4 403.3 655.7Z" fill="#222"/>
<path d="M231.3 489.2C230.9 493.8 229.8 505.6 228.9 516.9C228 528.1 226.3 550.1 225.8 556.8" fill="none" stroke="#111" stroke-width="1.86" stroke-linecap="round" stroke-linejoin="round"/>
<path d="M236 492.3C235.6 496.9 234.6 509.2 233.8 519.9C233 530.7 231.8 550.6 231.3 556.8" fill="none" stroke="#111" stroke-width="1.24" stroke-linecap="round" stroke-linejoin="round" stroke-dasharray="4 1.5"/>
<path d="M363.4 489.2C364.2 493.8 366.5 505.6 368 516.9C369.5 528.1 371.8 550.1 372.6 556.8" fill="none" stroke="#111" stroke-width="1.86" stroke-linecap="round" stroke-linejoin="round"/>
<path d="M368 492.3C368.9 496.9 371.6 509.7 373.2 519.9C374.8 530.2 376.8 548.1 377.5 553.7" fill="none" stroke="#111" stroke-width="1.24" stroke-linecap="round" stroke-linejoin="round" stroke-dasharray="4 1.5"/>
<path d="M374.1 536.8L391 535.3" fill="none" stroke="#111" stroke-width="2.02" stroke-linecap="round" stroke-linejoin="round"/>
<path d="M208.3 541.4C210.1 542.2 216.2 544 219.1 546C221.9 548.1 224.2 552.4 225.2 553.7" fill="none" stroke="#111" stroke-width="1.55" stroke-linecap="round" stroke-linejoin="round"/>
<path d="M259 501.5C261 501.1 267.4 498.5 271.3 499C275.1 499.6 280.2 503.6 282 504.6" fill="none" stroke="#111" stroke-width="1.86" stroke-linecap="round" stroke-linejoin="round"/>
<path d="M262.1 566C264.1 566.5 271 569.3 274.3 569.1C277.7 568.8 280.7 565.2 282 564.5" fill="none" stroke="#111" stroke-width="1.55" stroke-linecap="round" stroke-linejoin="round"/>
<path d="M259 673.5C260 675 263.6 679.6 265.1 682.7C266.7 685.8 267.7 690.4 268.2 691.9" fill="none" stroke="#111" stroke-width="1.55" stroke-linecap="round" stroke-linejoin="round"/>
<path d="M326.5 504.6C328.6 504.1 335.8 501 338.8 501.5C341.9 502 343.9 506.6 345 507.6" fill="none" stroke="#111" stroke-width="1.55" stroke-linecap="round" stroke-linejoin="round"/>
<path d="M320.4 566L332.7 561.4" fill="none" stroke="#111" stroke-width="1.55" stroke-linecap="round" stroke-linejoin="round"/>
<path d="M323.5 615.1L332.7 612.1" fill="none" stroke="#111" stroke-width="1.55" stroke-linecap="round" stroke-linejoin="round"/>
<path d="M326.5 655L338.8 661.2" fill="none" stroke="#111" stroke-width="1.55" stroke-linecap="round" stroke-linejoin="round"/>
<path d="M231.3 667.3L237.5 676.5" fill="none" stroke="#111" stroke-width="1.55" stroke-linecap="round" stroke-linejoin="round"/>
<path d="M384.9 670.4L389.5 679.6" fill="none" stroke="#111" stroke-width="1.55" stroke-linecap="round" stroke-linejoin="round"/>
<path d="M320.4 532.2L326.5 541.4" fill="none" stroke="#111" stroke-width="1.86" stroke-linecap="round" stroke-linejoin="round"/>
<path d="M318.9 516.9L321.9 529.1" fill="none" stroke="#111" stroke-width="1.86" stroke-linecap="round" stroke-linejoin="round"/>
<path d="M206.8 569.1L202.2 575.2" fill="none" stroke="#111" stroke-width="1.55" stroke-linecap="round" stroke-linejoin="round"/>
<path d="M351.1 633.6L357.3 624.3" fill="none" stroke="#111" stroke-width="1.4" stroke-linecap="round" stroke-linejoin="round"/>
<path d="M360.3 652L372.6 639.7" fill="none" stroke="#111" stroke-width="1.4" stroke-linecap="round" stroke-linejoin="round"/>
<path d="M140.4 620.2L186.7 620.2" fill="none" stroke="#111" stroke-width="1.86" stroke-linecap="round" stroke-linejoin="round"/>
<path d="M139.9 634.7L186.2 636.4" fill="none" stroke="#111" stroke-width="1.86" stroke-linecap="round" stroke-linejoin="round"/>
<path d="M412 622.1L458.5 622.1" fill="none" stroke="#111" stroke-width="1.86" stroke-linecap="round" stroke-linejoin="round"/>
<path d="M412.5 635.2L459 635.9" fill="none" stroke="#111" stroke-width="1.86" stroke-linecap="round" stroke-linejoin="round"/>
<path d="M142.7 635L181.8 635.9 181.1 645.1 143.8 645.1Z" fill="#8a8a8a" stroke="#111" stroke-width="1.3" stroke-linejoin="round"/>
<path d="M144.3 640.6H180.8" stroke="#111" stroke-width="7.6" stroke-dasharray="0.9 0.9" fill="none"/>
<path d="M418.9 635.4L454.6 635.9 453.9 645.1 419.4 645.6Z" fill="#8a8a8a" stroke="#111" stroke-width="1.3" stroke-linejoin="round"/>
<path d="M420.5 641.1H453.6" stroke="#111" stroke-width="7.6" stroke-dasharray="0.9 0.9" fill="none"/>
<path d="M194.6 337.4C193.3 338.4 188.6 339.9 186.8 343.6C185 347.4 184.6 355.1 183.9 359.9C183.2 364.6 183.5 367.8 182.7 372.3C181.8 376.9 180.2 381.1 178.7 387.3C177.2 393.5 175 401.9 173.7 409.8C172.3 417.7 171.5 425.6 170.6 434.7C169.6 443.9 168 460.8 168.1 464.7C168.1 468.5 170.7 455.9 171 457.6C171.2 459.3 169.8 472 169.5 474.9" fill="none" stroke="#111" stroke-width="1.55" stroke-linecap="round" stroke-linejoin="round" stroke-dasharray="3.5 1.3 1.5 1.3"/>
<path d="M196 339.1C194.8 340 190.4 341.1 188.8 344.6C187.1 348.1 186.7 355.5 186.1 360.2C185.4 364.9 185.7 368.1 184.8 372.7C183.9 377.4 182.3 381.6 180.8 387.8C179.3 394 177.2 402.3 175.8 410.1C174.5 418 173.7 425.9 172.7 434.9C171.8 444 170.2 460.9 170.3 464.6C170.3 468.3 172.9 455.5 173.1 457.3C173.4 459 171.9 472.1 171.7 475" fill="none" stroke="#111" stroke-width="0.93" stroke-linecap="round" stroke-linejoin="round" stroke-dasharray="1.5 2.5"/>
<path d="M172.6 500C172.2 509.6 171.3 536.1 170.3 557.6C169.3 579.1 167.4 617.1 166.9 629" fill="none" stroke="#111" stroke-width="1.24" stroke-linecap="round" stroke-linejoin="round"/>
<path d="M169.6 500C169.3 509.6 168.4 537.6 167.5 557.6C166.7 577.5 165 609.4 164.5 619.8" fill="none" stroke="#111" stroke-width="0.93" stroke-linecap="round" stroke-linejoin="round" stroke-dasharray="2 2.5"/>
<path d="M400.5 334.9C401 337.4 402.5 345.3 403.6 349.9C404.8 354.4 406.3 357.8 407.4 362.4C408.4 366.9 409.2 372.3 409.9 377.3C410.5 382.3 410.5 386.9 411.4 392.3C412.2 397.7 413.6 402.7 414.8 409.8C416.1 416.8 417.5 425.6 418.6 434.7C419.6 443.9 420.6 463.6 421.1 464.7C421.5 465.7 420.8 440.1 421.2 441.2C421.6 442.3 423.1 466.2 423.5 471.2" fill="none" stroke="#111" stroke-width="1.71" stroke-linecap="round" stroke-linejoin="round" stroke-dasharray="3.5 1.3 1.5 1.3"/>
<path d="M398.1 335.4C398.7 337.9 400.1 345.9 401.3 350.5C402.4 355 404 358.4 405 362.9C406.1 367.4 406.8 372.7 407.5 377.6C408.1 382.6 408.1 387.2 409 392.7C409.8 398.1 411.3 403.1 412.5 410.2C413.7 417.2 415.1 425.8 416.2 435C417.3 444.2 418.4 464.4 418.9 465.6C419.3 466.7 418.6 441.1 419 442.1C419.4 443 420.8 466.5 421.1 471.4" fill="none" stroke="#111" stroke-width="0.93" stroke-linecap="round" stroke-linejoin="round" stroke-dasharray="1.5 2.5"/>
<path d="M422.4 511.5C422.8 521.1 423.9 551.1 424.7 569.1C425.5 587.1 426.6 611.3 427 619.8" fill="none" stroke="#111" stroke-width="1.24" stroke-linecap="round" stroke-linejoin="round"/>
<path d="M426.3 511.5C426.7 521.1 427.8 551.1 428.6 569.1C429.4 587.1 430.5 611.3 430.9 619.8" fill="none" stroke="#111" stroke-width="0.93" stroke-linecap="round" stroke-linejoin="round" stroke-dasharray="2 2.5"/>
<path d="M250 248.7C251.6 248.4 257.2 246.6 260 246.8C262.7 247 265.2 249.4 266.2 250" fill="none" stroke="#0d0d0d" stroke-width="2.2" stroke-linecap="round" stroke-linejoin="round"/>
<path d="M253.7 262.4C255.4 263.1 260.6 265.8 263.7 266.2C266.8 266.6 271 265.1 272.4 264.9" fill="none" stroke="#0d0d0d" stroke-width="1.6" stroke-linecap="round" stroke-linejoin="round"/>
<path d="M251.2 271.2L260 273" fill="none" stroke="#0d0d0d" stroke-width="1.4" stroke-linecap="round" stroke-linejoin="round"/>
<path d="M256.2 254.9L262.4 258.7" fill="none" stroke="#0d0d0d" stroke-width="1.4" stroke-linecap="round" stroke-linejoin="round"/>
<path d="M250 283.6C252.1 284.3 258.5 286.4 262.4 287.4C266.4 288.3 271.8 288.9 273.7 289.3" fill="none" stroke="#0d0d0d" stroke-width="2.4" stroke-linecap="round" stroke-linejoin="round"/>
<path d="M288.6 266.2C290.5 266.5 296.3 268 299.9 268C303.4 268 308.2 266.5 309.9 266.2" fill="none" stroke="#0d0d0d" stroke-width="1.8" stroke-linecap="round" stroke-linejoin="round"/>
<path d="M291.1 277.4C293 277.9 299.3 280.9 302.4 280.5C305.5 280.1 308.6 275.8 309.9 274.9" fill="none" stroke="#0d0d0d" stroke-width="1.8" stroke-linecap="round" stroke-linejoin="round"/>
<path d="M293.6 287.4L299.9 292.4" fill="none" stroke="#0d0d0d" stroke-width="1.6" stroke-linecap="round" stroke-linejoin="round"/>
<path d="M289.9 294.9L297.4 299.9" fill="none" stroke="#0d0d0d" stroke-width="1.6" stroke-linecap="round" stroke-linejoin="round"/>
<path d="M293.6 302.4L299.9 307.3" fill="none" stroke="#0d0d0d" stroke-width="1.4" stroke-linecap="round" stroke-linejoin="round"/>
<path d="M276.2 302.4L282.4 307.3" fill="none" stroke="#0d0d0d" stroke-width="1.5" stroke-linecap="round" stroke-linejoin="round"/>
<path d="M278 298.6L283.7 303" fill="none" stroke="#0d0d0d" stroke-width="1.3" stroke-linecap="round" stroke-linejoin="round"/>
<path d="M304.9 269.9L309.9 272.4" fill="none" stroke="#0d0d0d" stroke-width="1.4" stroke-linecap="round" stroke-linejoin="round"/>
<path d="M302.4 284.9L309.9 286.1" fill="none" stroke="#0d0d0d" stroke-width="1.4" stroke-linecap="round" stroke-linejoin="round"/>
<path d="M333.6 250C335.4 249.6 342.1 248.1 344.8 248.1C347.5 248.1 348.9 249.6 349.8 250" fill="none" stroke="#0d0d0d" stroke-width="2.0" stroke-linecap="round" stroke-linejoin="round"/>
<path d="M334.8 266.2C336.5 265.1 342.5 261.6 344.8 259.9C347.1 258.3 347.9 256.8 348.5 256.2" fill="none" stroke="#0d0d0d" stroke-width="1.8" stroke-linecap="round" stroke-linejoin="round"/>
<path d="M337.3 271.2L347.3 264.9" fill="none" stroke="#0d0d0d" stroke-width="1.8" stroke-linecap="round" stroke-linejoin="round"/>
<path d="M341 274.9L349.8 269.9" fill="none" stroke="#0d0d0d" stroke-width="1.6" stroke-linecap="round" stroke-linejoin="round"/>
<path d="M322.3 289.9C325 289.8 333.1 289.7 338.6 289.3C344 288.8 352.1 287.7 354.8 287.4" fill="none" stroke="#0d0d0d" stroke-width="2.6" stroke-linecap="round" stroke-linejoin="round"/>
<path d="M347.3 278.6L351 274.9" fill="none" stroke="#0d0d0d" stroke-width="1.4" stroke-linecap="round" stroke-linejoin="round"/>
<path d="M314.8 256.2L319.8 257.4" fill="none" stroke="#0d0d0d" stroke-width="1.5" stroke-linecap="round" stroke-linejoin="round"/>
<path d="M314.8 262.4L319.8 263.7" fill="none" stroke="#0d0d0d" stroke-width="1.5" stroke-linecap="round" stroke-linejoin="round"/>
<path d="M314.8 268.7L319.8 269.9" fill="none" stroke="#0d0d0d" stroke-width="1.5" stroke-linecap="round" stroke-linejoin="round"/>
<path d="M315.5 274.9L319.8 277.4" fill="none" stroke="#0d0d0d" stroke-width="1.5" stroke-linecap="round" stroke-linejoin="round"/>
<path d="M276.2 256.2L281.2 257.4" fill="none" stroke="#0d0d0d" stroke-width="1.3" stroke-linecap="round" stroke-linejoin="round"/>
<path d="M276.8 268.7L282.4 267.4" fill="none" stroke="#0d0d0d" stroke-width="1.3" stroke-linecap="round" stroke-linejoin="round"/>
<path d="M277.4 281.1L282.4 283.6" fill="none" stroke="#0d0d0d" stroke-width="1.3" stroke-linecap="round" stroke-linejoin="round"/>
<path d="M288.6 250L293.6 251.8" fill="none" stroke="#0d0d0d" stroke-width="1.3" stroke-linecap="round" stroke-linejoin="round"/>
<path d="M290.5 258.7L297.4 261.2" fill="none" stroke="#0d0d0d" stroke-width="1.3" stroke-linecap="round" stroke-linejoin="round"/>
<path d="M268 283.2l3.7 -0.1M332.6 289.6l3.3 0M251.3 266l2.5 2.5M274.9 258.6l-1.3 1M341.1 279.3l1.5 -0.5M289 254.4l2.7 3.4M297.7 275.8l2.7 -0.1M275.2 288.1l-1.7 1.5M328.7 287.2l3.2 1.4M300.1 290.7l-1.5 1.6M293.2 265.7l0.6 3M290.8 247.4l-0.7 1.7M302.1 272.5l3.1 1.5M313.7 276.1l3.1 -2M286.9 296.1l2.7 0.5M261.6 249.5l3.8 2.1M292.9 299.4l-0.8 4.8M301.6 266.3l1.8 1.5M258.1 289.5l0.1 4.2M256.4 259.9l2.5 -0.4M258.2 264.3l-3.6 3M300.3 259.6l-0.2 4.9M253.9 257.5l-2.2 3.8M312.9 269l2.9 2.1M306 260.9l2.7 -3.2M349.3 247.3l-0.9 3.5M311.2 259.9l-2.1 2M264.8 251.1l1.2 -1.4M306.5 263.5l2.8 -1.6M269.9 266.4l4 0.4M330.7 288.7l1.5 -0.1M329.7 255.5l3.6 -1.7M291.1 262.7l4.3 -1.7M307.6 297.2l1.8 0.3M305.2 276.3l-0.9 1.5M287.6 263.2l3.8 -3.2M258.6 290l4.1 -0.4M253 280.8l3 0.1M292.4 258.2l1.7 -0.2M325.5 270.6l2.3 -0.5M259.8 271.9l-1.2 3M331.3 279.8l-1.2 4M323 282.9l1.7 1.6M314.3 290.5l3.1 3.8M291.3 253.9l2.5 -2.4M348.2 286.1l2 2.4M323.5 257.1l2.6 0.7" fill="none" stroke="#0d0d0d" stroke-width="1.3" stroke-linecap="round" stroke-linejoin="round"/>
<path d="M318.5 440l3.7 -1.4M318.5 445.1l4.4 -1.4M318.5 450.4l2.6 -1.8M318.5 455.8l3.8 -1.1M318.5 459.5l3.4 -2.1M318.5 464.1l3.6 -2.5M318.5 468.1l3.1 -1.1M318.5 473.1l2.8 -1.3M318.5 476.9l3.7 -2.3M318.5 480.4l4.2 -2.2M318.5 484.3l4.5 -1.2M318.5 488.4l4.4 -1.7M318.5 493.2l2.9 -1.1M318.5 498.1l4.4 -1.2M318.5 502.2l3.2 -2.3M318.5 506l2.6 -2M318.5 510.7l2.5 -1.5M318.5 514.9l3.1 -1.3M318.5 519.4l3.1 -1.8M318.5 524.3l2.6 -1M318.5 527.8l4 -1.2M318.5 531.4l4.1 -2M318.5 536l2.5 -2.4M318.5 539.9l4.4 -2.2M318.5 544.9l4.4 -1.1M319.3 520l3.3 1M319.3 537.1l3.5 1.6M319.3 546.8l2.8 -1.7M319.3 550.5l3.7 2M319.3 554.5l4.5 -0.1M319.3 559.2l3.5 1.2M319.3 564.1l2.1 1.6M319.3 567.7l4.1 -1.9M319.3 582.6l2.4 1.3M319.3 586.9l4.5 1.3M319.3 593.4l3.2 0.8M319.3 598.3l3 -1.8M319.3 614.3l2.2 -1.3M319.3 645l3.9 0.6M319.3 658.4l2.6 0.5M319.3 701.1l2.4 1.3M319.3 707.4l3.7 0.7M319.3 713.1l4 0.1M319.3 718.6l3.6 1M319.3 727.6l3.1 0.4M319.3 737.1l3.2 -1.5M284 430l2.1 -1.5M284 434.8l2.4 -0.9M284 450.2l2.1 -0.8M284 460.1l2.7 -1.7M284 466.3l2.7 0.9M284 473.6l3.1 -0.1M284 479.1l2.7 -0.3M284 493.3l3.3 -2M284 504.2l2.8 0.7M284 509.7l2 -1.1M284 517.6l3.4 0.7M284 524l3.5 -0.5M284 529.7l3.5 -0.5M284 534.8l1.7 -0.1M284 540.6l3.1 0.5M284 556.9l2 -1.5M284 564.8l2.7 -0.6M284 578.4l3 -1.1M284 584.5l2.1 -0.4M284 590.4l3 -0.2M284 594.5l2.4 0.7M284 630.1l3.2 -1.4M284 646.3l2.1 0.3M284 654l2.5 -0.4M284 660l1.8 -0.2M284 667.2l2 0.5M284 693.2l3.2 -1.3M284 706.7l2.1 0.8M284 716.9l2.7 -1.9M284 721.3l1.6 -1.8M284 735.2l2.4 -1.1" fill="none" stroke="#0d0d0d" stroke-width="1.1" stroke-linecap="round" stroke-linejoin="round"/>
<path d="M146.5 477.7C147.8 477.3 150.7 475.8 154.4 475.1C158.1 474.5 164 474.2 168.8 473.7C173.6 473.2 178.9 472.3 183.2 472.3C187.5 472.3 191.6 472.3 194.7 473.7C197.8 475.1 200.5 479.5 201.6 480.6" fill="none" stroke="#0d0d0d" stroke-width="2.4" stroke-linecap="round" stroke-linejoin="round"/>
<path d="M147.2 479.2C148.6 478.9 152.7 478.3 155.8 477.7C159 477.2 164.2 476.3 165.9 476" fill="none" stroke="#0d0d0d" stroke-width="2.2" stroke-linecap="round" stroke-linejoin="round"/>
<path d="M163 486.4C165.2 486.3 171.9 485.8 176 486.1C180.1 486.4 183.4 488.1 187.5 488.1C191.6 488.1 197.9 487 200.5 486.4C203 485.7 202.3 484.6 202.6 484.2" fill="none" stroke="#0d0d0d" stroke-width="1.5" stroke-linecap="round" stroke-linejoin="round"/>
<path d="M174.5 478.5C176 479.4 179.8 482.7 183.2 484.2C186.5 485.8 192.8 487.2 194.7 487.8" fill="none" stroke="#0d0d0d" stroke-width="1.2" stroke-linecap="round" stroke-linejoin="round"/>
<path d="M178.9 509.4C179.6 508.5 181.3 505.3 183.2 503.9C185.1 502.6 188 502 190.4 501.5C192.8 501 195.8 502.7 197.6 500.8C199.4 498.8 200.6 491.8 201.2 490" fill="none" stroke="#0d0d0d" stroke-width="1.8" stroke-linecap="round" stroke-linejoin="round"/>
<path d="M186.1 500.8C187.3 499.8 191.1 496.4 193.3 495C195.4 493.6 198.1 492.6 199 492.1" fill="none" stroke="#0d0d0d" stroke-width="1.2" stroke-linecap="round" stroke-linejoin="round"/>
<path d="M180.3 450.4C181.5 450.1 185.9 448.2 187.5 448.9C189.1 449.7 189.3 453.7 189.7 454.7" fill="none" stroke="#0d0d0d" stroke-width="1.2" stroke-linecap="round" stroke-linejoin="round"/>
<path d="M190.4 411.5C191.6 412.5 195.7 413.9 197.6 417.3C199.5 420.6 200.7 426.6 201.9 431.7C203.1 436.7 204.3 444.9 204.8 447.5" fill="none" stroke="#0d0d0d" stroke-width="1.0" stroke-linecap="round" stroke-linejoin="round"/>
<path d="M194.7 413C195.9 415.1 200.1 420.9 201.9 425.9C203.7 431 204.9 440.3 205.5 443.2" fill="none" stroke="#0d0d0d" stroke-width="1.0" stroke-linecap="round" stroke-linejoin="round"/>
<path d="M199 466.2C199.7 465 202.4 462.1 203.3 459C204.3 455.9 204.5 449.4 204.8 447.5" fill="none" stroke="#0d0d0d" stroke-width="1.3" stroke-linecap="round" stroke-linejoin="round"/>
<path d="M176 446.1C177.2 446.3 181 446.3 183.2 447.5C185.3 448.7 188 452.3 188.9 453.3" fill="none" stroke="#0d0d0d" stroke-width="1.0" stroke-linecap="round" stroke-linejoin="round"/>
<path d="M400.6 486.4C401.6 485 404 480.1 406.4 478C408.8 475.9 412.1 473.9 415 473.7C417.9 473.5 420.8 476.8 423.6 476.6C426.5 476.3 429.2 473.2 432.3 472.3C435.4 471.4 439.4 471 442.4 471.3C445.4 471.5 449 473.3 450.3 473.7" fill="none" stroke="#0d0d0d" stroke-width="2.4" stroke-linecap="round" stroke-linejoin="round"/>
<path d="M426.5 477.7C428 477.3 432.3 475.5 435.2 474.9C438 474.3 441.2 473.7 443.8 474.1C446.4 474.6 449.8 477.1 451 477.7" fill="none" stroke="#0d0d0d" stroke-width="2.4" stroke-linecap="round" stroke-linejoin="round"/>
<path d="M400.6 500C402.1 498.8 406.9 494.1 409.3 492.4C411.7 490.7 414 490.4 415 490" fill="none" stroke="#0d0d0d" stroke-width="3.0" stroke-linecap="round" stroke-linejoin="round"/>
<path d="M423.6 484.9C425.6 484.6 432 482.5 435.2 482.8C438.3 483 441.2 485.8 442.4 486.4" fill="none" stroke="#0d0d0d" stroke-width="1.4" stroke-linecap="round" stroke-linejoin="round"/>
<path d="M433.7 502.5C435.2 501.7 439.6 499.1 442.4 497.9C445.1 496.7 449 495.7 450.3 495.3" fill="none" stroke="#0d0d0d" stroke-width="1.8" stroke-linecap="round" stroke-linejoin="round"/>
<path d="M425.1 495C426.5 494.5 431.1 492.4 433.7 492.1C436.4 491.9 439.7 493.3 440.9 493.6" fill="none" stroke="#0d0d0d" stroke-width="1.2" stroke-linecap="round" stroke-linejoin="round"/>
<path d="M406.4 500.8C406.6 502.2 406.6 507 407.8 509.4C409 511.8 412.6 514.2 413.6 515.2" fill="none" stroke="#0d0d0d" stroke-width="1.2" stroke-linecap="round" stroke-linejoin="round"/>
<path d="M445.2 523.8C446 522.4 448.4 517.1 449.6 515.2C450.8 513.2 452 512.8 452.4 512.3" fill="none" stroke="#0d0d0d" stroke-width="2.0" stroke-linecap="round" stroke-linejoin="round"/>
<path d="M435.2 544C436.8 543 442.5 540.1 445.2 538.2C448 536.3 450.6 533.4 451.7 532.4" fill="none" stroke="#0d0d0d" stroke-width="1.8" stroke-linecap="round" stroke-linejoin="round"/>
<path d="M436.6 453.3C436.8 451.6 437.6 446.5 438 443.2C438.5 439.8 439.2 434.8 439.5 433.1" fill="none" stroke="#0d0d0d" stroke-width="1.2" stroke-linecap="round" stroke-linejoin="round"/>
<path d="M426.5 443.2L429.4 437.4" fill="none" stroke="#0d0d0d" stroke-width="1.2" stroke-linecap="round" stroke-linejoin="round"/>
<path d="M409.3 448.9L413.6 451.8" fill="none" stroke="#0d0d0d" stroke-width="1.4" stroke-linecap="round" stroke-linejoin="round"/>
<path d="M393.4 457.6C394.1 458.1 396.5 460.1 397.7 460.5C398.9 460.8 400.1 459.9 400.6 459.7" fill="none" stroke="#0d0d0d" stroke-width="1.2" stroke-linecap="round" stroke-linejoin="round"/>
<path d="M392 420.2C393.4 419 398 414.9 400.6 413C403.3 411 406.6 409.4 407.8 408.6" fill="none" stroke="#0d0d0d" stroke-width="1.2" stroke-linecap="round" stroke-linejoin="round"/>
<path d="M212 414.4C212.9 416.8 215.8 424 217.7 428.8C219.7 433.6 221.8 438.4 223.5 443.2C225.2 448 226.7 452.8 227.8 457.6C228.9 462.4 229.6 467.2 230 472C230.3 476.8 230.3 481.6 230 486.4C229.6 491.2 228.7 494.8 227.8 500.8C227 506.8 226.1 515.2 224.9 522.4C223.7 529.6 221.3 540.4 220.6 544" fill="none" stroke="#0d0d0d" stroke-width="1.5" stroke-linecap="round" stroke-linejoin="round"/>
<path d="M218.5 414.4C219.4 416.8 222.4 424 224.2 428.8C226 433.6 227.8 438.4 229.3 443.2C230.7 448 232 452.8 232.9 457.6C233.7 462.4 234.1 467.2 234.3 472C234.5 476.8 234.2 481.6 233.9 486.4C233.5 491.2 232.9 494.8 232.1 500.8C231.3 506.8 230 515.2 229 522.4C228 529.6 226.6 540.4 226.1 544" fill="none" stroke="#0d0d0d" stroke-width="1.2" stroke-linecap="round" stroke-linejoin="round"/>
<path d="M213.2 414.4L217.2 414.4M215.8 416.7L217.4 416.2M217.3 419.6L218.8 419.6M216.7 424.3L219.7 424.3M219.6 428.1L220.7 427.6M222.3 434.1L226.2 435.7M223.2 437L228.2 440.6M225 440L225.7 440.5M222.3 439L225.5 438.7M225 444.2L230 447.6M226.5 447.7L231.5 452.4M231 462.3L233.6 464.6M230.4 463.1L233.8 464.8M229.3 464.8L233.5 464.8M230.7 469.6L232.3 469.6M231.8 475.1L232.2 475.7M230.9 474.4L233.5 474.4M231.2 478L234.2 481.6M230.5 479.2L233.3 479.2M230.2 486.7L231.8 488.7M231.1 491.9L232 492.4M230.1 495.6L231.5 499.2M229.4 496.6L231.6 500M229 499L230.5 501M227.8 500.8L230.4 503.8M228.3 502.9L231 502.9M228.1 506.2L230.2 509.1M228.2 509.3L228.7 510M228.7 509.9L229.3 509.9M226.6 512.8L228.3 515.4M225.5 520.3L228 526.9M225.3 528.1L226.5 529.1M224.7 532.4L225.4 534.4M224.4 534.2L225.4 535.9M223.7 540.6L225 541.6" fill="none" stroke="#0d0d0d" stroke-width="1.1" stroke-linecap="round" stroke-linejoin="round"/>
<path d="M212 417.3C212.5 420.4 213.7 429.3 214.9 436C216.1 442.7 218.2 451.1 219.2 457.6C220.1 464.1 220.4 472 220.6 474.9" fill="none" stroke="#0d0d0d" stroke-width="1.1" stroke-linecap="round" stroke-linejoin="round"/>
<path d="M214.9 421.6C215.8 424.2 218.7 431.9 220.6 437.4C222.5 442.9 225.4 451.8 226.4 454.7" fill="none" stroke="#0d0d0d" stroke-width="0.9" stroke-linecap="round" stroke-linejoin="round"/>
<path d="M220.6 423C221.6 425.2 224.8 431.9 226.4 436C227.9 440.1 229.4 445.6 230 447.5" fill="none" stroke="#0d0d0d" stroke-width="0.9" stroke-linecap="round" stroke-linejoin="round"/>
<path d="M226.4 424.5C227.3 426.6 230.5 433.6 232.1 437.4C233.8 441.3 235.7 445.8 236.4 447.5" fill="none" stroke="#0d0d0d" stroke-width="0.9" stroke-linecap="round" stroke-linejoin="round"/>
<path d="M232.1 425.9C233.6 427.6 238.8 433.1 240.8 436C242.7 438.9 243.2 442 243.6 443.2" fill="none" stroke="#0d0d0d" stroke-width="0.9" stroke-linecap="round" stroke-linejoin="round"/>
<path d="M214.9 430.2C216.1 430 219.2 428.7 222.1 428.8C224.9 428.9 230.5 430.6 232.1 431" fill="none" stroke="#0d0d0d" stroke-width="1.3" stroke-linecap="round" stroke-linejoin="round"/>
<path d="M386.5 400L386.4 402.4 386.3 405.8 386.2 410 385.9 414.4 385.8 417.1 385.6 420 385.3 423.1 385.1 426.4 384.9 429.6 384.6 432.8 384.3 436 384.1 439.1 383.8 442.3 383.5 445.5 383.3 448.6 383 451.7 382.7 454.7 382.5 457.6 382.1 461.4 381.8 465.1 381.5 468.6 381.2 471.8 381 474.9 380.9 479.5 381 483.6 381 486.4 382.8 486.4 382.8 483.6 383 479.5 383.3 474.9 383.7 471.8 384.2 468.6 384.7 465.1 385.2 461.4 385.6 457.6 385.9 454.7 386.2 451.7 386.5 448.6 386.8 445.5 387.1 442.3 387.4 439.1 387.7 436 387.9 432.8 388.2 429.6 388.5 426.4 388.7 423.1 389 420 389.2 417.1 389.4 414.4 389.6 410 389.8 405.8 389.9 402.4 390 400Z" fill="#0d0d0d"/>
<path d="M400.6 486.4C401 488.3 402.5 494 402.8 497.9C403 501.7 402.2 507.5 402.1 509.4" fill="none" stroke="#0d0d0d" stroke-width="1.6" stroke-linecap="round" stroke-linejoin="round"/>
<path d="M412.1 480.6C413.6 481.6 417.9 485.7 420.8 486.4C423.6 487.1 428 485.2 429.4 484.9" fill="none" stroke="#0d0d0d" stroke-width="1.5" stroke-linecap="round" stroke-linejoin="round"/>
<path d="M406.4 480.6C407.3 479.9 410 476.8 412.1 476.3C414.3 475.8 418.1 477.5 419.3 477.7" fill="none" stroke="#0d0d0d" stroke-width="1.6" stroke-linecap="round" stroke-linejoin="round"/>
<path d="M363.2 427.4C363 432.4 362.4 447.7 362 457.6C361.7 467.4 360.8 476.8 361 486.4C361.2 496 362.2 505.6 363.2 515.2C364.1 524.8 366.2 539.2 366.8 544" fill="none" stroke="#0d0d0d" stroke-width="1.6" stroke-linecap="round" stroke-linejoin="round"/>
<path d="M370.7 427.4C370.4 432.4 369.6 447.7 369.2 457.6C368.8 467.4 368.1 476.8 368.4 486.4C368.6 496 369.6 505.6 370.7 515.2C371.8 524.8 374.3 539.2 375 544" fill="none" stroke="#0d0d0d" stroke-width="1.3" stroke-linecap="round" stroke-linejoin="round"/>
<path d="M367.4 469.4L371.9 513.6M364.6 428.4L370.4 427.4M363.9 434.8L367.2 435.9M366.3 436.8L366.6 436.8M365.6 440.4L367 440.9M362.9 442.1L368.4 444.2M363.2 444.7L367.9 444.7M362.4 447.4L367 449.1M365.3 451.2L367.7 452.1M363.7 453.2L366.3 454.2M362.4 455.1L367.5 453.4M364.4 461.4L365.9 462.4M363.3 461.6L366.2 460.7M362.4 464.5L366.8 465.9M364.9 466.5L365.6 466.5M362.5 468.8L367.2 468.8M362.3 473.2L365 473.2M364.5 474.4L368.4 473.2M361.2 477.6L365.8 479M362.1 483.8L365.4 482.8M361.9 486.4L366.9 486.4M362.4 488.2L366.4 487M364.9 491.9L367 492.5M362.8 493L365.7 493M364.1 494.4L367.2 493.5M364 501L366.9 502.6M364.8 502.7L367.3 503.4M363.9 506.3L367.8 506.3M363.5 509.1L370 512.7M363.1 512.9L367.5 511.6M364.7 515.2L367.9 515.2M365.6 518.1L371.2 519.9M365.5 519.3L367.7 518.6M365.3 522.4L370.3 522.4M366.9 528.9L371.7 531.7M366.3 530.5L370.7 531.8M369.3 533.7L372.2 534.6M368.6 535L370.6 535M368.9 541.9L373.9 543.6" fill="none" stroke="#0d0d0d" stroke-width="1.1" stroke-linecap="round" stroke-linejoin="round"/>
<path d="M363.2 420.2C364.4 418.8 370.9 419.1 374.7 418.7C378.5 418.4 384.2 417 386.2 418C388.3 419 388.4 422.7 386.9 424.5C385.5 426.3 380.8 428.4 377.6 428.8C374.3 429.2 369.9 428.1 367.5 426.6C365.1 425.2 362 421.5 363.2 420.2Z" fill="#0d0d0d"/>
<path d="M371.8 434.5C372.8 433.8 375.9 431.2 377.6 430.2C379.3 429.3 381.2 429 381.9 428.8" fill="none" stroke="#0d0d0d" stroke-width="1.5" stroke-linecap="round" stroke-linejoin="round"/>
<path d="M371.8 443.2C372.8 442.5 375.9 440.1 377.6 438.9C379.3 437.7 381.2 436.5 381.9 436" fill="none" stroke="#0d0d0d" stroke-width="1.5" stroke-linecap="round" stroke-linejoin="round"/>
<path d="M370.4 451.8C371.6 451.1 375.8 448.9 377.6 447.5C379.4 446.1 380.6 443.9 381.2 443.2" fill="none" stroke="#0d0d0d" stroke-width="1.5" stroke-linecap="round" stroke-linejoin="round"/>
<path d="M370.4 460.5C371.3 460 374.5 458.5 376.1 457.6C377.8 456.6 379.7 455.2 380.5 454.7" fill="none" stroke="#0d0d0d" stroke-width="1.5" stroke-linecap="round" stroke-linejoin="round"/>
<path d="M369.7 469.1C370.5 468.6 373.1 467.4 374.7 466.2C376.3 465 378.3 462.6 379 461.9" fill="none" stroke="#0d0d0d" stroke-width="1.5" stroke-linecap="round" stroke-linejoin="round"/>
<path d="M369.7 477.7C370.5 477.3 373.1 475.8 374.7 474.9C376.3 473.9 378.3 472.5 379 472" fill="none" stroke="#0d0d0d" stroke-width="1.5" stroke-linecap="round" stroke-linejoin="round"/>
<path d="M370.4 486.4C371.1 486.1 373.1 485.5 374.7 484.9C376.3 484.3 378.9 483.1 379.7 482.8" fill="none" stroke="#0d0d0d" stroke-width="1.5" stroke-linecap="round" stroke-linejoin="round"/>
<path d="M370.4 495L374.7 494.3" fill="none" stroke="#0d0d0d" stroke-width="1.5" stroke-linecap="round" stroke-linejoin="round"/>
<path d="M373.3 506.5C374.5 506.3 378.7 505 380.5 505.1C382.3 505.2 383.5 506.9 384.1 507.2" fill="none" stroke="#0d0d0d" stroke-width="1.5" stroke-linecap="round" stroke-linejoin="round"/>
<path d="M373.3 508C373.7 511.6 375.2 523.6 376.1 529.6C377.1 535.6 378.5 541.6 379 544" fill="none" stroke="#0d0d0d" stroke-width="1.0" stroke-linecap="round" stroke-linejoin="round"/>
<path d="M380.5 506.5C380.9 509.2 382.1 517.1 383.3 522.4C384.5 527.6 386.9 535.6 387.7 538.2" fill="none" stroke="#0d0d0d" stroke-width="1.0" stroke-linecap="round" stroke-linejoin="round"/>
<path d="M371.8 538.2L389.1 535.3" fill="none" stroke="#0d0d0d" stroke-width="1.2" stroke-linecap="round" stroke-linejoin="round"/>
<path d="M233.6 427.4C236.3 428.2 244.4 430.1 249.8 432C255.1 433.9 260.9 437.4 265.9 438.9C270.9 440.5 277.4 440.8 279.7 441.2" fill="none" stroke="#0d0d0d" stroke-width="1.0" stroke-linecap="round" stroke-linejoin="round"/>
<path d="M249.8 444.7C251.3 445.6 255.9 447.6 259 450.4C262.1 453.3 264.7 458.5 268.2 462C271.7 465.4 277.8 469.6 279.7 471.2" fill="none" stroke="#0d0d0d" stroke-width="0.9" stroke-linecap="round" stroke-linejoin="round"/>
<path d="M259 501.1C260.9 500.9 267 499.4 270.5 500C274 500.5 278.2 503.8 279.7 504.6" fill="none" stroke="#0d0d0d" stroke-width="1.1" stroke-linecap="round" stroke-linejoin="round"/>
<path d="M238.3 418.2L249.8 425.1" fill="none" stroke="#0d0d0d" stroke-width="1.0" stroke-linecap="round" stroke-linejoin="round"/>
<path d="M323.5 459.7C325.8 460.4 332.7 463.9 337.3 464.3C341.9 464.6 348.8 462.3 351.1 462" fill="none" stroke="#0d0d0d" stroke-width="1.2" stroke-linecap="round" stroke-linejoin="round"/>
<path d="M330.4 450.4L337.3 457.4" fill="none" stroke="#0d0d0d" stroke-width="1.0" stroke-linecap="round" stroke-linejoin="round"/>
<path d="M326.8 459.7C328.7 460.4 334.1 463.9 338.3 464.3C342.5 464.6 349.8 462.3 352.1 462" fill="none" stroke="#0d0d0d" stroke-width="1.2" stroke-linecap="round" stroke-linejoin="round"/>
<path d="M329.1 450.4L336 457.4" fill="none" stroke="#0d0d0d" stroke-width="1.0" stroke-linecap="round" stroke-linejoin="round"/>
<path d="M319.9 427.4L331.4 432" fill="none" stroke="#0d0d0d" stroke-width="0.9" stroke-linecap="round" stroke-linejoin="round"/>
<path d="M269.2 501.1C270.4 501.7 273.8 504.6 276.1 504.6C278.4 504.6 281.9 501.7 283 501.1" fill="none" stroke="#0d0d0d" stroke-width="1.1" stroke-linecap="round" stroke-linejoin="round"/>
<path d="M249.4 506.5C251.6 505.6 258.5 501.4 262.4 500.8C266.2 500.2 269.3 502.8 272.4 502.9C275.6 503 279.6 501.7 281.1 501.5" fill="none" stroke="#0d0d0d" stroke-width="1.0" stroke-linecap="round" stroke-linejoin="round"/>
<path d="M237.9 425.9C239.6 426.4 243.9 427.4 248 428.8C252 430.2 257.8 432.9 262.4 434.5C266.9 436.2 273.2 438.1 275.3 438.9" fill="none" stroke="#0d0d0d" stroke-width="0.9" stroke-linecap="round" stroke-linejoin="round"/>
<path d="M249.4 446.1C251.1 447.5 256.1 451.8 259.5 454.7C262.8 457.6 267.9 461.9 269.6 463.3" fill="none" stroke="#0d0d0d" stroke-width="0.8" stroke-linecap="round" stroke-linejoin="round"/>
<path d="M325.8 454.7C326.2 454 327.7 451.3 328.6 450.4C329.6 449.4 331 449.2 331.5 448.9" fill="none" stroke="#0d0d0d" stroke-width="1.6" stroke-linecap="round" stroke-linejoin="round"/>
<path d="M335.8 463.3C336.3 462.9 337.8 460.5 338.7 460.5C339.7 460.5 341.1 462.9 341.6 463.3" fill="none" stroke="#0d0d0d" stroke-width="1.6" stroke-linecap="round" stroke-linejoin="round"/>
<path d="M320 463.3C321 463.2 323.8 462.5 325.8 462.6C327.7 462.7 330.6 463.8 331.5 464.1" fill="none" stroke="#0d0d0d" stroke-width="1.4" stroke-linecap="round" stroke-linejoin="round"/>
<path d="M351.7 425.9L356 428.8" fill="none" stroke="#0d0d0d" stroke-width="1.5" stroke-linecap="round" stroke-linejoin="round"/>
<path d="M353.1 454.7L356 451.8" fill="none" stroke="#0d0d0d" stroke-width="1.5" stroke-linecap="round" stroke-linejoin="round"/>
<path d="M320 503.6C320.7 503.9 323.1 504.1 324.3 505.1C325.5 506 326.7 508.7 327.2 509.4" fill="none" stroke="#0d0d0d" stroke-width="1.3" stroke-linecap="round" stroke-linejoin="round"/>
<path d="M320 523.8L322.9 529.6" fill="none" stroke="#0d0d0d" stroke-width="1.4" stroke-linecap="round" stroke-linejoin="round"/>
<path d="M337.3 519.5L341.6 516.6" fill="none" stroke="#0d0d0d" stroke-width="1.2" stroke-linecap="round" stroke-linejoin="round"/>
<path d="M172.6 351.4C173.2 352.9 174.9 357.2 176.1 360.6C177.2 364.1 178.9 370.2 179.5 372.1" fill="none" stroke="#0d0d0d" stroke-width="1.1" stroke-linecap="round" stroke-linejoin="round"/>
<path d="M173.8 356C175.3 357.5 180.7 363.3 183 365.2C185.3 367.1 186.8 367.1 187.6 367.5" fill="none" stroke="#0d0d0d" stroke-width="1.0" stroke-linecap="round" stroke-linejoin="round"/>
<path d="M188.7 351.4C189.5 354.1 191.6 363.3 193.3 367.5C195.1 371.7 198.1 375.2 199.1 376.7" fill="none" stroke="#0d0d0d" stroke-width="1.0" stroke-linecap="round" stroke-linejoin="round"/>
<path d="M191 411.3C192.4 412.4 197.4 415.1 199.1 418.2C200.8 421.3 201 427.8 201.4 429.7" fill="none" stroke="#0d0d0d" stroke-width="1.0" stroke-linecap="round" stroke-linejoin="round"/>
<path d="M171.5 445.8L183 452.7" fill="none" stroke="#0d0d0d" stroke-width="1.0" stroke-linecap="round" stroke-linejoin="round"/>
<path d="M176.1 455L187.6 457.4" fill="none" stroke="#0d0d0d" stroke-width="1.0" stroke-linecap="round" stroke-linejoin="round"/>
<path d="M180.7 388.3L184.1 399.8" fill="none" stroke="#0d0d0d" stroke-width="0.9" stroke-linecap="round" stroke-linejoin="round"/>
<path d="M170.3 390.6L173.8 404.4" fill="none" stroke="#0d0d0d" stroke-width="0.9" stroke-linecap="round" stroke-linejoin="round"/>
<path d="M421.2 358.3C420.5 360.6 418.5 367.9 416.6 372.1C414.7 376.4 410.9 381.7 409.7 383.6" fill="none" stroke="#0d0d0d" stroke-width="1.2" stroke-linecap="round" stroke-linejoin="round"/>
<path d="M428.1 362.9L425.8 372.1" fill="none" stroke="#0d0d0d" stroke-width="1.0" stroke-linecap="round" stroke-linejoin="round"/>
<path d="M407.4 388.3L402.8 404.4" fill="none" stroke="#0d0d0d" stroke-width="1.3" stroke-linecap="round" stroke-linejoin="round"/>
<path d="M437.4 390.6L438.5 404.4" fill="none" stroke="#0d0d0d" stroke-width="1.4" stroke-linecap="round" stroke-linejoin="round"/>
<path d="M412 409L414.8 422.8" fill="none" stroke="#0d0d0d" stroke-width="1.0" stroke-linecap="round" stroke-linejoin="round"/>
<path d="M437.4 441.2L436.2 455" fill="none" stroke="#0d0d0d" stroke-width="1.2" stroke-linecap="round" stroke-linejoin="round"/>
<path d="M407.4 450.4L412 455" fill="none" stroke="#0d0d0d" stroke-width="1.0" stroke-linecap="round" stroke-linejoin="round"/>
<path d="M146.1 546.1C147.1 546.6 150.3 548.2 151.9 549.5C153.4 550.9 154.8 553.4 155.3 554.1" fill="none" stroke="#0d0d0d" stroke-width="1.2" stroke-linecap="round" stroke-linejoin="round"/>
<path d="M179.5 601.3C180.3 600.6 182.8 598.3 184.1 596.7C185.5 595.2 187 592.9 187.6 592.1" fill="none" stroke="#0d0d0d" stroke-width="1.0" stroke-linecap="round" stroke-linejoin="round"/>
<path d="M185.3 576L190.3 566.8" fill="none" stroke="#0d0d0d" stroke-width="1.4" stroke-linecap="round" stroke-linejoin="round"/>
<path d="M435 543.8C436.6 543.2 441.6 541.5 444.3 540.3C446.9 539.2 450 537.4 451.2 536.9" fill="none" stroke="#0d0d0d" stroke-width="1.4" stroke-linecap="round" stroke-linejoin="round"/>
<path d="M448.9 520.7L452.3 511.5" fill="none" stroke="#0d0d0d" stroke-width="1.4" stroke-linecap="round" stroke-linejoin="round"/>
<path d="M451.2 576L454.6 564.5" fill="none" stroke="#0d0d0d" stroke-width="1.4" stroke-linecap="round" stroke-linejoin="round"/>
<path d="M453.5 601.3L455.8 587.5" fill="none" stroke="#0d0d0d" stroke-width="1.3" stroke-linecap="round" stroke-linejoin="round"/>
<path d="M405.1 541.5L407.4 553" fill="none" stroke="#0d0d0d" stroke-width="1.1" stroke-linecap="round" stroke-linejoin="round"/>
<path d="M409.7 596.7L413.2 608.3" fill="none" stroke="#0d0d0d" stroke-width="1.1" stroke-linecap="round" stroke-linejoin="round"/>
<path d="M444.8 525.6C445.4 524.4 447.1 520.5 448.4 518.4C449.7 516.3 451.9 513.9 452.6 513" fill="none" stroke="#0d0d0d" stroke-width="2.0" stroke-linecap="round" stroke-linejoin="round"/>
<path d="M434 543.9C435.4 543.2 439.4 542 442.4 540C445.4 538 450.4 533.2 452 531.9" fill="none" stroke="#0d0d0d" stroke-width="2.0" stroke-linecap="round" stroke-linejoin="round"/>
<path d="M446 562.8C446.8 561.4 449.4 557.3 450.8 554.4C452.3 551.5 454 546.9 454.7 545.4" fill="none" stroke="#0d0d0d" stroke-width="1.5" stroke-linecap="round" stroke-linejoin="round"/>
<path d="M449.4 576C450 575 452.1 572 453.2 570C454.3 568 455.4 565 455.9 564" fill="none" stroke="#0d0d0d" stroke-width="1.5" stroke-linecap="round" stroke-linejoin="round"/>
<path d="M450.8 595.2C451.4 594.4 453.4 592 454.4 590.4C455.4 588.8 456.4 586.4 456.8 585.6" fill="none" stroke="#0d0d0d" stroke-width="1.5" stroke-linecap="round" stroke-linejoin="round"/>
<path d="M452 615.7C452.5 615.1 454.2 613.2 455 612.1C455.8 611 456.5 609.6 456.8 609.1" fill="none" stroke="#0d0d0d" stroke-width="1.4" stroke-linecap="round" stroke-linejoin="round"/>
<path d="M441.2 573.6L443.6 568.8" fill="none" stroke="#0d0d0d" stroke-width="1.2" stroke-linecap="round" stroke-linejoin="round"/>
<path d="M414.8 560.4L418.4 564" fill="none" stroke="#0d0d0d" stroke-width="1.1" stroke-linecap="round" stroke-linejoin="round"/>
<path d="M416 585.6L418.4 589.2" fill="none" stroke="#0d0d0d" stroke-width="1.1" stroke-linecap="round" stroke-linejoin="round"/>
<path d="M405.2 534L408.2 542.4" fill="none" stroke="#0d0d0d" stroke-width="1.2" stroke-linecap="round" stroke-linejoin="round"/>
<path d="M405.8 501.6C406.3 503 407.5 507.6 408.8 510C410.1 512.4 412.8 515 413.6 516" fill="none" stroke="#0d0d0d" stroke-width="1.3" stroke-linecap="round" stroke-linejoin="round"/>
<path d="M408.8 600L411.2 606.1" fill="none" stroke="#0d0d0d" stroke-width="1.2" stroke-linecap="round" stroke-linejoin="round"/>
<path d="M148 544.8C148.7 545.5 150.9 547.6 152.2 549C153.5 550.5 155.2 552.7 155.8 553.5" fill="none" stroke="#0d0d0d" stroke-width="1.6" stroke-linecap="round" stroke-linejoin="round"/>
<path d="M178 509.1C179 508.1 180.8 504.4 184 503C187.2 501.6 195 501 197.2 500.6" fill="none" stroke="#0d0d0d" stroke-width="1.8" stroke-linecap="round" stroke-linejoin="round"/>
<path d="M182.8 583.5C183.8 581.8 187.2 576.8 188.8 573.6C190.4 570.4 191.8 565.8 192.4 564.3" fill="none" stroke="#0d0d0d" stroke-width="1.7" stroke-linecap="round" stroke-linejoin="round"/>
<path d="M174.4 601.5C175.2 600.8 177.7 598.7 179.2 597.6C180.7 596.6 182.7 595.6 183.4 595.2" fill="none" stroke="#0d0d0d" stroke-width="1.5" stroke-linecap="round" stroke-linejoin="round"/>
<path d="M144.4 566.4C144.7 567.2 145.6 569.6 146.2 571.2C146.8 572.8 147.7 575.2 148 576" fill="none" stroke="#0d0d0d" stroke-width="1.2" stroke-linecap="round" stroke-linejoin="round"/>
<path d="M192.4 531.6C192.6 533 193.6 537.4 193.6 540C193.6 542.6 192.6 546 192.4 547.2" fill="none" stroke="#0d0d0d" stroke-width="1.1" stroke-linecap="round" stroke-linejoin="round"/>
<path d="M148 501.6L146.8 511.2" fill="none" stroke="#0d0d0d" stroke-width="1.3" stroke-linecap="round" stroke-linejoin="round"/>
<path d="M166 566.4L167.2 571.2" fill="none" stroke="#0d0d0d" stroke-width="1.2" stroke-linecap="round" stroke-linejoin="round"/>
<path d="M284.4 536.4l-0.1 0.5M341 658.4l-0.2 0.2M448 585.6l-0.1 0.2M288.1 473.9l0.2 0.6M365.9 408.4l0.1 0.2M410.2 445.7l0.8 1.8M206.9 719.8l-0.6 1M388.5 384.6l0.8 0.3M218.6 296.3l-0.1 0.5M318.5 477.6l0.1 0.7M274.3 354.8l0.5 0.7M422.5 353.7l0.2 1M208 378.6l-0.2 0.4M217.5 558.1l-0.3 0.8M323.4 696.9l0.6 0.6M200.5 630.4l-0.3 0.8M274.5 297.7l0 0.5M233.6 335.2l0.1 0.3M412.1 564.9l-0.3 0.8M282.2 275l0 0.6M255.5 709.7l0.4 1.9M430.6 610.3l0.1 0.6M373.2 410.3l-0.6 0.2M375.3 611.7l0.6 1.5M418.1 461.7l1.3 1.1M339.5 443.5l1.1 0.8M420.8 624.5l0.9 0.5M280.6 682.2l0.2 0.5M213.4 608.9l0.8 0.9M356.5 349.4l0.2 0.6M281 710.1l0.6 0.7M262.7 548.6l-0.5 0.3M367 740.6l-0.2 0.5M339.7 501.9l0.1 0.9M366.2 542l-0.3 0.8M215.7 317.1l-0.2 0.4M341.1 586.2l-0.3 1.7M290.7 617.2l-0.2 0.4M306.1 565l0.7 0.2M437.7 621.5l0.2 0.6M321.5 703.6l0.3 1.6M370.4 671.7l0.4 1.4M452 524.4l0.4 0.7M166.3 474.1l-0.9 0.9M195.1 418.7l0 0.3M371 683l-0.3 1.5M232.6 624.8l0 0.8M239.4 442.9l-1.1 1.3M307.3 543.3l0.5 0.3M304.7 453l0.1 1.7M311.9 459.9l0.3 1.9M291 309.8l0.1 1.1M241.2 343.6l0 1.4M359.3 411.9l0.1 1M373.3 307.6l0.1 0.3M271.9 520.4l-0.1 0.6M309 688.9l0.1 1.4M428.2 408.7l0.7 0.6M182.7 368.6l0.1 0.3M392.2 309.3l-0.2 1M176.8 508l-0.4 0.5M151.9 532.1l-0.1 1.2M287.5 643.6l-0.2 0.5M331.8 250.3l1 1.2M269.3 345.5l-0.2 0.1M364.9 693.9l-0.1 0.6M222.4 720.3l0.5 1.5M361.8 645l0.2 0.7M343.9 570l-0.3 0.7M247.8 588.7l-0.2 0.4M363.8 642.1l0.4 0.5M268.1 269.8l-0.1 0.2M302.1 749.6l0.4 1.2M330.7 640.8l0.1 0.5M298.1 563.3l0 0.5M308.1 556.3l0.1 0.7M264.4 713.1l0.9 0.2M429.1 468.2l-0.7 0.9M307 733.9l-0.3 0.8M176.7 570.1l-0.1 0.2M353.2 481.8l-0.3 0.8M388.3 521.2l1.5 1.4M390.4 570.5l0.3 0.6M380.5 342.7l-0.7 0.3M226.4 465.9l0.2 0.5M167.5 597.3l0.4 1.2M249.7 633.2l-0.1 0.3M385.4 354.9l0 0.8M243.8 530.5l0.2 1.6M166.4 538.7l-0.2 1.2M208 589.9l0 0.7M254.2 623.3l-0.2 0.7M431.6 472.6l-0.3 0.3M219.2 432.7l0.2 0.4M407 537.9l0.4 0.5M147 513.3l-0.6 1.1M314.5 655.8l0.7 0.2M342.4 318.7l-0.2 1.6M306.5 643.6l-0.6 0.6M297.5 524.6l0.4 1.5M445.8 578.5l0.3 1.2M274.2 319.9l-0.2 1.6M275.6 396.2l-0.1 0.4M346.8 649.5l-0.1 0.5M174.6 340l0 0.7M211.4 340.2l0.5 0.5M293 379.7l0.4 1.8M314.7 744.3l-0.2 0.1M262.8 519.5l0 0.9M290.8 437.8l-0.1 1.7M190.1 325.5l0.6 0.5M225 523.2l0.6 0.3M402.2 686.3l0.4 0.1M293.2 488.7l1.1 1.6M403.8 352.5l0.2 0.3M237.5 487.9l0.3 0.6M348.7 249.8l-0.3 1M320 483.1l0.3 0.3M336.6 395.4l0.2 0.4M221.8 348l-0.3 0.8M371 417l0.1 0.3M197.3 453.9l1 1.4M212.3 325.6l0.1 0.2M303.3 582.1l0.4 1.6M392.1 588.9l-0.2 0.4M347.7 299l-0.3 0.7M428.3 530.3l-0.3 0M304.7 617.8l-0.1 0.9M218 545.1l-0.2 0.8M287.8 308.3l0.4 0.7M224.3 719.3l0.4 1.9M232.1 712.9l0.7 0.4M314.9 283.3l-0.4 0.8M238.1 594.7l0.6 0M185.6 445.6l0.2 0.5M344.8 263.2l0.1 0.9M290 458.7l-1 1M295 763.9l0.9 1.5M429 518.7l-0.2 0.8M157.4 623.1l0 1.8M329.4 279.9l0.2 0.5M156.5 607.1l0 0.4M352.5 696.9l-0.2 1.1M378.3 540l0.7 0.4M235.5 413.4l0.2 0.5M253.7 549.8l0.2 0.8M299.1 732.2l-0.3 0.2M202.3 681.9l-0.3 0M204.4 574.4l0.3 0.6M173.8 623.2l-0.6 0.7M183 607.6l0.1 0.2M202.6 338.1l0.3 0.7M351.3 706.3l-0.2 0.4M228.3 578.3l-0.3 0.4M308.6 521.2l0 0.5M167.7 392.6l-0.3 0.3M199.4 712.9l0.2 0.5M436.6 505l0.3 0.6M301.4 685.8l-0.4 0.8M388.9 329.8l-0.4 0.3M392.5 366.9l-0.3 0.5M368.1 543.1l0 0.3M298.3 470.9l-0.4 0.7M313.4 657.7l0.1 0.4M240.3 568.5l-0.1 0.6M221.3 327l1.5 0.3M271 434.1l0.2 0.7M296.2 641.8l0.5 0.1M216.7 709.2l0 0.4M374.3 363.7l0 0.8M287.3 731.4l-0.4 0.8M347.4 274l-0.3 0.9M422.9 485.5l-0.1 1M389.4 356.1l-0.1 0.6M289.3 404.9l-0.3 1.1M415.4 350.5l0 0.7M265.4 726.8l0 0.5M439 431.7l1.6 0.1M242.8 444.6l0 0.5M157.4 449.6l0.2 0.3M275.3 528.1l0.1 0.6M186.9 350.6l0.5 0.7M263.3 696.6l0 0.4M341.2 539.6l0 1.7M354 724.4l-0.6 0.5M214.8 574.4l0.1 0.5M262.3 415.1l0.1 0.3M352.3 368.9l0 0.5M326 610.5l0.4 1.2M160 455l-0.2 0.6M243.9 376l0 0.8M199.3 489l-0.9 1.1M323.9 736.6l0.6 1.5M228.1 677.6l-0.2 0.8M183.3 508.8l-0.1 0.9M357.1 366.1l-0.1 0.5M297.5 583.7l-0.7 1.1M246.4 424.8l0.6 0.4M359.1 747.9l0.2 0.6M231.1 635.4l0.1 0.4M196.7 512.3l0 0.2M284.1 647.5l0.8 0.1M221 509l0.1 0.7M368.5 414.5l-0.8 0.5M321.1 463.5l-1.2 0.9M179.9 440.7l0.3 0.2M359.5 462.8l0.8 0.1M367.7 305.3l0.7 0.3M313.2 496.2l0.5 0.6M265 566.7l0.8 1.4M361.5 529.1l-0.1 0.3M295.8 306.4l0.1 0.6M339.6 386.8l-0.1 0.5M425 405.3l0.4 0.3M416.8 496.8l-0.1 1.1M158.3 531.5l-1.1 1M193.8 305.5l0.2 0.7M304.1 248.9l0.5 0.5M392.9 628.3l-0.8 0.7M443.4 453.9l0.1 0.8M324.1 362.3l0.3 0.6M343.6 428.7l-0.3 0.8M376.7 354l-0.2 0.7M173.7 318.2l0.1 0.2M311.4 741.8l-0.2 0.7M380.7 300.1l0.5 0.7M196.7 386.5l-0.6 1.4M198.5 430.3l0.1 0.6M336.7 707.9l0.4 1.7M321.2 303.1l0.4 1.7M262.7 363.8l0.5 1.3M150.2 571.7l-0.3 1.1M289.6 763l0.2 0.7M416.9 309.7l-0.2 0.3M417.8 615.8l0.1 0.8M311.2 696.4l0.4 0.5M296.6 369.9l-0.3 1.7M188.4 434.9l-0.4 0.2M177.4 338.5l0.3 1M340.8 702.2l-0.3 0.6M240.6 573l0 0.8M197.6 310.4l-0.2 0.2M254.1 346l0.8 1.8M239 457.1l0.1 0.6M401.8 457.4l0.1 0.9M324.9 392.5l0.2 0.8M285.2 732l0.2 1M273.7 390.6l-0.1 1.1M361.8 595.1l0.2 0.2M274.2 422.1l0.3 1.7M256 439.4l0.1 1.6M147.3 574.7l0.2 0.5M161.2 485.3l0.5 0.9M258 318.2l-0.3 1M338.8 631.7l-0.6 0.5M178.1 488.7l-0.4 0.1M311 522.7l-0.3 0.5M301.9 308.6l0.1 0.3M284.1 535.5l-0.8 0.8M411.4 324.4l-0.3 0.4M271.9 249l-0.4 0.5M189.9 521.3l-0.2 0.4M272.8 284.4l0.6 0.5M296.1 585.7l1.5 1M265.9 400.1l0 0.5M292.2 431l0.2 0M308.5 529.9l0.1 0.3M213.5 635.6l0.5 0M329.4 746.2l-0.5 0.9M236.1 562.2l0 0.5M169.5 375.3l0.1 0.8M414.5 453.9l-0.6 0.6M244.7 409.5l0.1 1.7M155.2 570.3l-1.1 0.6M380.3 546.8l-0.1 0.4M379.9 441.1l0 0.3M352.7 530.3l-0.1 0.4M434.4 353.9l0.1 0.8M418.9 490.6l-0.2 0.4M360.1 446.4l0.2 0.7M327 349.2l0.2 0.4M323.3 684.2l0.1 1M362.6 365.6l0 0.8M403.3 441l-0.1 0.6M285.4 498.2l0.2 0.7M151.1 608.9l-1 0.9M384.1 665.1l-0.1 0.5M334.6 306.6l-1.6 0.4M360 433.9l-1 1.7M413.8 623.8l0 0.2M220.7 312.2l-0.1 0.4M302.5 700.7l-0.2 0.6M313.6 627.5l-1 0.8M439 433.2l0.1 0.5M301.4 539.6l0.8 0.4M440.2 587.3l0.1 0.5M352.7 278.9l-0.2 0.4M306.3 283.8l0.1 0.6M299.2 346.8l0.3 0.5M450.5 537.2l-0.4 0.1M296.3 552.5l-0.1 1.5M305.7 745.5l0.8 0.1M359.8 515.4l1.3 0M270.1 419l0.3 0.7M247 596.6l0.2 0.8M187.8 376l-0.1 1.2M223 517l-0.5 0.6M214.1 401.2l-0.1 0.9M218 357.4l0.5 0.9M253.7 720.2l-0.2 0.2M247.9 657.1l0 0.6M299.2 442.5l-0.1 0.5M249.1 730.5l0.5 0.4M183.2 598.3l0.3 1.8M258.8 306.3l-0.6 0.5M198.9 425.3l0.2 0.3M321.2 642.3l0.1 1.2M238.7 641.5l0.1 0.3M286.7 559l-0.3 0M267.8 270.5l0.1 0.7M348.4 486.8l0 0.4M257.9 490.9l-0.1 0.4M273.1 526.1l-0.5 0.7M421.5 328.5l-0.4 1.1M215 548.8l-0.4 0.5M170.9 603.1l-0.4 0.8M298.5 384.2l0.3 1.3M168.6 503.8l0.7 0.9M281.3 287.7l0.5 0.6M428.2 507.1l0 1.1M293.9 395.5l-0.1 0.4M432.8 602l-1.4 1M196.2 669.8l-0.6 0.6M303.3 423l-1.6 0.4M345.6 277.1l0.5 0.7M199.3 606.7l-0.8 1.4M385.4 654.4l-0.8 1.6M297 444.6l0.2 0.2M348.6 649.1l-0.2 0.4M199.7 582.4l-1.2 0.9M232.7 741.7l0.7 1.2M229.1 516.9l0.3 0.7M291 633.1l0 0.6M156.6 429.3l-0.2 1.2M272.2 456.3l0.5 0.7M383.4 533.9l1 1M308.4 342.5l-0.1 0.3M226.9 620l0.1 0.7M278 299.2l1.1 0.2M162.6 384.4l0.1 0.3M322.9 632.9l0.1 1M366.8 310.7l0 0.2M264.8 488.6l0 0.6M327.6 408.6l-0.1 0.4M271 452.1l0.1 0.7M256.7 472l0.2 0.6M236.9 647.8l0.5 0.6M268.1 594.7l-0.3 0.6M353.5 471.1l-0.5 0.6M272.8 644.5l0.7 0.3M202.7 721.1l-0.4 0.2M264.8 552.4l-0.4 1.5M220.2 612.5l-0.7 0.6M389.2 413.4l0.8 1.4M298 330.8l0.3 1.4M232.2 665.2l0.6 0.1M321.7 742.4l0.2 0.9M235.8 605.5l0.1 1.5M311.5 256l-0.4 0.9M239.3 700.1l-0.2 0.3M375.9 381.8l-0.5 1.1M401.4 693.2l0.3 0.7M240.1 474.6l-1.2 1.2M211 567.7l0.3 0.6M356.1 333.1l-0.2 1M213 619.5l-0.1 0.5M326.1 293.2l0.4 0.8M362.5 335.7l0.2 0.8M232.2 537.2l-0.2 0.3M239 553.2l0.3 0.7M338.7 588.5l0 0.5M300.9 488.6l0.6 0.5M338 392.8l-0.4 0.6M360.8 633.1l-0.6 0M163.7 372.6l-0.2 0.5M187.2 447.2l0.1 0.6M383.3 553.2l-0.3 0.4M313.5 419.6l0.5 1.2M210.2 587.1l-0.4 0.6M172.3 576.7l-0.6 0.6M394.7 316.9l0 0.3M222.7 676.7l-0.1 0.7M319.7 443.8l0 0.7M298 750.2l-0.2 0.8M215.6 395.1l-0.9 1.5M340.4 443.9l0 0.2M262.5 521.3l0.1 0.9M329.1 722.1l-0.1 0.5M216.2 342.6l-0.2 0.8M200.4 488.2l-1.3 1.2M403.4 320.7l0.1 0.2M410.2 558.2l0 0.3M203.9 578.5l-0.1 0.6M187.7 540.7l0.1 0.5M423.4 550.9l0.2 0.8M262.3 614l1 0.1M230.8 396.6l-0.4 1.5M265.5 689.8l-0.8 0.4M255.5 560.3l0.3 1.9M268.8 538.6l0.2 0.6M243 561l0.5 0.6M256.7 606.5l0.2 0.7M317.7 421l0 0.2M343.5 277.5l-0.5 0.2M438.6 463.7l0 0.4M358.8 322.9l-1.6 0.3M336.8 328.2l-0.1 0.3M355.3 750l-0.1 0.2M314.8 691.5l0.4 0.5M309.6 310.4l-0.6 1.2M372.5 706l-0.7 1.1M387.2 574.6l-0.2 0.5M332 510l0.2 0.2M393 395.2l0.7 0.2M433.9 496.7l0.4 0.1M267.5 285l0.2 0.2M281.8 397.8l0.4 0.9M294.1 312.6l0.6 0.1M355.5 355.3l-0.4 1M348.1 489.4l0.3 1.8M154.3 559.2l0.1 0.8M337.3 411l1.5 0.2M300.9 316.6l0.9 0.9M316.1 409.5l0.3 0.6M274.1 607.9l0 0.3M298.4 580.7l-0.1 0.3M181 611.1l-0.5 1.3M269.8 582.7l0.1 0.4M355.8 684.9l-0.3 1M240.6 296.1l0.3 1.7M185.3 577.4l0.3 0.2M420.2 428l-0.1 0.4M228.7 625l0.2 0.4M201.1 306.1l-0.2 0.5M331.1 410.5l0.2 0.4M323.3 309.3l0 0.6M169.5 458.3l-0.5 0.4M381.9 581.4l0.7 0.9M190.4 520.8l0.5 0.5M238.8 473.1l0.4 1.1M388.6 417l0.3 1.7M225.2 645.7l0.1 1.3M306.1 349.8l-0.1 0.7M310.1 547.8l0.1 0.4M381.3 671.5l-0.1 0.3M213.8 714.5l0 0.3M369.8 649.6l-0.3 0.4M285.2 602l-0.2 0.5M254.6 260.4l0.9 0.1M241 436.3l0.2 0.6M196.2 298.5l-0.1 0.4M371.1 657.2l-0.3 0.3M236.6 479.9l-0.3 0.7M331.8 745.4l0.7 0.5M396.9 306.8l-0.2 0.8M416.3 510.2l-0.3 0.2M440.9 554.8l0.2 0.3M156.1 459.2l-0.4 0.5M247.1 500.6l0 0.2M235.1 303.5l0.1 0.2M281.6 518.5l0.3 0.7M379.8 506.7l-1.1 1.3M355.1 485l0 1.3M401.5 692.5l0.3 0.3M155.7 492l0.5 0.8M319.7 318.9l0 0.7M211.6 627.2l0.1 1.8M165.8 614.6l-0.4 0.7M247.9 298l-0.2 1.8M282.2 386.5l0.2 0.4M330.2 735.5l1.4 1.2M345.3 560.7l-0.1 1M206.8 625.9l-0.1 0.4M224 297l0.2 1.9M378.4 645l0.5 0.3M243.5 578l-0.1 0.6M163.6 626.4l-1.6 0.7M159.5 625.8l0.2 1.2M355.6 591.5l-0.4 0.5M357.2 530.3l0.2 0.4M212.3 359.3l-0.6 0.9M334.3 626.4l0 0.4M357.4 720.2l-1.5 0.2M286.7 251l-0.5 1.3M454.5 554l0.2 1.8M426.4 451l0.1 0.4M227.6 604.9l0.1 0.5M330.9 464.7l0.3 0.8M425.9 396l0 0.4M160.8 426.2l-0.5 0.7M329.9 696.9l-0.3 0.1M190.3 540.2l-0.7 1.2M262.8 280l0 0.4M333.8 410.8l-1.4 0.5M434.1 375.9l-0.5 0.4M180.4 618.7l-0.5 0.6M298.4 477l0.4 0.2M356.4 304.4l0.3 1.5M386.3 546.3l-0.1 0.4M453.4 551.7l0.1 0.2M338.5 743.5l-0.2 0.3M274 436l-0.1 0.8M334.5 701l0.2 0.5M372.1 371.4l-0.6 0.2M312.7 270.2l0.7 0.7M421 428.5l0.2 0.3M170.7 523.1l0.3 0.7M402.6 371.1l0.5 0.9M368.2 739.5l0.1 0.3M229.8 532.9l-0.1 0.5M421.3 447.4l0.6 0.4M333.5 492.7l0 0.6M182.6 554.2l1.3 0.6M237 318.7l-0.2 0.8M208.9 424.1l0.2 0.4M277.6 696.8l-1.9 0.5M226.6 566.2l0 0.5M186.5 541.3l-0.1 0.2M412.5 482.8l0.5 0.6M270.2 319.4l0.1 0.3M416.7 533.1l-0.1 0.8M346.3 574.4l-0.5 0.1M328.7 379.2l-0.1 0.5M418.1 323.9l0.1 0.4M336.1 720.6l0 0.6M417.5 598.4l0.3 0.8M222.1 581.9l0 0.2M387.9 317.7l-0.4 0.2M332.7 732.9l-0.3 1.4M261 541.6l-0.5 0.6M257.1 470.6l0.3 0.5M318 532.6l-0.5 0.1M233.5 544.2l0.3 0.1M212.7 389.2l0.1 0.2M331.6 570.3l0.7 0.9M208.7 627.2l-0.2 1.3M315.2 645.4l-0.3 0.4M262.7 288.9l-0.2 0.4M376.9 559.5l-0.4 0.6M364.6 467.3l-0.1 0.3M254.3 330l0.7 0M430 478.1l0.1 0.3M280.8 698.6l-0.1 0.5M243.2 743l0.6 0.1M346.8 498.6l0.2 0.3M274.6 558.1l-0.2 0.8M314.4 418.7l0.6 0.6M358.2 377.3l0.4 0.7M306.9 530.2l1.2 0.4M196.1 502.6l-0.1 0.3M296.7 750.4l-0.8 1.2M216.5 438.2l0.3 0.8M397 386.5l0.2 0.3M212.5 603.9l0.7 1.2M302.7 336.3l0 0.5M313.1 345.9l-0.3 0.8M282 525.1l1.1 1.1M389 297.6l-0.2 0.3M230.6 737.1l0.2 1.1M267.4 308.4l0.3 1.4M253.7 448.2l-0.3 0.5M186.9 626.6l0.2 0.3M275.7 653.5l-0.2 0.5M235 739.6l0.2 1.2M210.7 310.1l0.2 0.4M143.9 627.5l0.1 0.7M214.3 650.9l-0.2 0.5M307.6 340.2l0.3 0.5M320 581.3l-0.2 1M404.2 647.5l-0.8 1.3M219.2 563.9l-0.5 1.2M216.4 402.3l0.3 1.5M277 574.3l-1 1.2M450.2 478.2l-0.5 1M404.7 462.1l0 0.5M392.5 389.7l-0.2 0.4M235.2 734.7l1.3 0.8M301 292.8l0.1 0.8M325.4 550.2l-0.2 0.8M418.8 337.5l0.2 0.8M445 598.8l-0.1 0.5M340.5 690.7l-0.4 0.4M252.3 547.3l0.2 0.2M268.5 715.6l0.2 1.4M427 425.5l-0.3 0.8M189.6 445.1l-0.3 0.4M267.7 292.3l-0.6 0.4M365.2 683.5l0.3 1.8M329.2 279.5l0 0.6M274.9 497.2l0.3 1.7M352.7 366.4l0 0.9M217.4 523.4l-0.6 1.4M245.1 621.8l-0.1 1.2M196.5 402.5l0 0.3M307.4 640l-0.2 0.7M234.8 654.2l-0.2 0.4M402 447.2l-0.1 0.5M373.9 558.1l-0.1 0.6M233.8 302.4l0 0.4M232.7 448.8l-0.2 0.1M313.7 735.9l0.7 1.1M270.5 585l-0.2 0.9M296.2 467.4l0.3 0.2M292.1 763.9l-1.4 0.1M263.7 450.5l0.3 0.4M414.9 508.7l-0.2 0.6M296.5 510.8l0 0.3M152.2 565.3l0.4 1.7M302.2 484.1l-0.2 0.3M352.7 375.1l-0.2 0.5M288.7 634.3l-0.2 0.2M331.6 304.6l-0.1 0.7M343.2 282.6l-0.4 0.9M412.2 573l-0.5 0.6M206 636.3l0.4 0M383.3 383.6l-0.5 0.1M320.7 287.9l-1.2 1.1M300.4 754.5l-0.2 0.6M440.4 385.5l-0.2 1.8M149 558.1l0.2 1.4M279.9 356.5l0.5 0.5M391.4 637.9l0.2 1.7M234.7 674.6l-0.2 0.5M149 560.6l0.1 0.2M211.2 324.9l0 0.6M228.1 561.2l0.5 0.7M393 431.1l0.3 0.8M347.7 446l0.4 1.8M418.3 399.4l-0.1 0.4M291 582.2l0 0.4M391.8 736.5l0 0.3M389.8 575.3l0 0.3M277.9 394.6l-0.5 0.5M210 554.8l-0.3 0.4M362.1 438l0.5 1.3M437.6 568.4l0 0.2M302.2 525l0 0.7M408.6 478.3l0.1 0.6M431.2 359.1l0.4 0.3M196.8 529.6l0 0.4M361.7 697.9l-0.2 1.7M238.9 557.4l0 1.4M325.5 288.6l-0.6 1.7M448.4 569.9l-0.1 0.4M293.7 364.6l-0.3 1.9M395.9 428.3l0 1.6M195.2 462.7l0.2 0.5M298.8 666.6l-0.8 1.1M376.5 604.8l0.9 1.6M440.5 400.4l-0.2 0.4M337.6 450.7l0 0.3M336.6 564.4l-0.5 0.2M278.7 669l1.4 0.3M207.7 364.9l1.4 1M370.6 550.5l-0.2 1.8M336.1 637.5l-0.8 0.1M169.8 571.2l1 1.2M172.1 334l-0.1 0.8M358.8 669.8l-0.1 0.9M310.6 667.7l-0.3 0.3M249.4 500.7l-0.1 0.2M200.1 484.1l0.1 1.7M326.9 622.6l0.1 0.4M163.6 581.1l1.8 0.7M336.6 434.3l-0.4 1.7M183.7 472.4l0.1 0.5M180.3 383.9l0.7 0.3M338.1 310.7l0.2 0.4M313.8 585.6l0 0.4M207.6 344l0.4 1M325.6 377.1l0.3 1M232.8 420.3l-0.1 0.7M216 381.4l-0.1 0.7M199.9 407.4l-1.1 0.5M247.4 467.7l0.2 0.2M241.7 334.9l0.1 0.5M368 628.8l-0.4 0.9M313.8 498l1.3 1.2M454.3 564l-0.6 0.6M351.3 255.5l0.4 0.6M265.9 689.5l0 0.4M292.9 275.6l-0.3 0.8M324.5 309.6l0.3 1M432.1 528.6l0.6 0.3M253.5 657.1l-0.4 1.5M239.8 670.4l1 1.3M367.6 417.5l0.3 1.1M370.7 613.5l-0.2 1.1M270.2 396.3l-1.2 0.3M374.2 629.2l0.1 0.5M427.8 438.5l-0.3 0.5M277.2 325.8l0.1 0.5M298 508.3l-0.1 1.1M240.6 417l-0.5 0.5M317.3 617.3l0.1 0.9M241.3 536.8l0 0.2M416.2 385.6l-0.1 0.7M339.4 704.9l-1.5 0.7M225.6 442.8l-0.2 1.9M341.1 422.6l0.1 0.3M205.7 295.6l0.5 0.9M395.1 339.2l0.1 1M349.2 258.6l0.6 0.8M328.3 607.8l0.1 1.2M212.5 606.8l-0.4 0.4M353.5 631.5l-0.1 0.2M178.5 424.2l-0.2 0.1M204.3 703.4l-0.6 0.2M409.6 409.6l-1.6 0.1M383.3 655.2l-0.1 0.6M148 477.5l0.7 1.7M211.5 610.5l0 0.9M242.1 402.4l-0.3 0.7M231.5 453.4l-1.5 0.7M309.2 630.4l-0.6 0.3M365.7 670.4l0.6 0.3M189.4 587.7l0 0.8M178.5 610.2l0.4 1.2M410.3 411l-0.1 0.8M370.9 740.5l-0.6 0.6M297.5 663l0.4 0M263.4 686.4l-0.2 0.7M384.6 588.6l0.3 0.4M268.3 515.3l0.4 1.7M183.9 385.5l-0.5 0.7M257.7 633.3l0.5 1.1M341 336.6l0.5 0.4M258 377.5l-0.4 0.3M414.2 506.7l0.1 0.2M283.9 494.4l0.1 0.3M270.7 501.7l0.5 0.9M155.4 502.8l-0.1 0.8M376.8 566.7l0.7 0.3M261.1 549l-0.1 0.8M288.2 412.3l0 1.3M440 474.1l0.1 1M311.7 719.9l-1.5 0.9M303.1 395.5l-0.6 0.5M313.5 552.8l0.9 0.6M427.9 597.8l0.1 1" fill="none" stroke="#333" stroke-width="0.95" stroke-linecap="round"/>
</g>
<g id="back">
<path d="M651.7 286L650.8 285.3 649.8 284.4 648.8 284.5 647.7 284.4 646.6 284.2 645.5 285.4 644.4 285.5 643.2 285.4 642.2 284.7 641.1 284.3 640.1 283.7 639 283.8 637.9 283.6 637.1 283.1 635.9 283.1 635.1 282.5 633.7 282.7 633.3 281.2 631.9 281.3 631.6 279.8 630.5 279.6 629.2 279.4 628.2 278.9 627.5 278.1 627 276.9 626.3 276.2 624.9 276.2 624.1 275.6 623.9 274.3 623.2 273.6 622.3 273 621.5 272.5 621.3 271.3 620 271.1 619.8 270.1 619.4 269.1 619.5 267.8 618.5 267.2 618.3 266.1 617.2 265.5 616.4 264.8 616 263.9 616.6 262.5 615.8 261.8 614.7 261.1 613.9 260.3 614.2 259 614 257.9 613.3 257 612.7 256 612.9 254.8 613 253.6 611.6 252.9 611 252 611.2 250.8 611.1 249.8 611.2 248.7 610.3 247.8 611 246.6 610.7 245.6 610.1 244.6 609.5 243.7 610.6 242.4 609.4 241.5 610.1 240.4 609 239.5 608.9 238.5 609.7 237.4 608.9 236.5 609.9 235.5 609.2 234.6 608.7 233.4 608.8 232.2 609.2 231.1 609.7 230.1 610.3 229.1 609.3 227.8 609.9 226.8 609.8 225.7 611.2 225 610.2 223.6 610.4 222.6 610.8 221.6 611.6 220.7 612.8 220 613.1 219 613.4 218 614.2 217.2 614.6 216.2 614.3 214.8 614.6 213.7 616.2 213.4 616.5 212.3 616.1 210.8 617.5 210.5 617.7 209.4 618.3 208.6 618.8 207.7 619.3 206.8 619.7 205.8 620.7 205.3 621.5 204.7 622.9 204.6 622.6 202.9 624.3 203.2 624.2 201.6 625.2 201 626.4 200.9 627.2 200.3 627.6 199.1 628 198 629.3 197.9 630.1 197.1 631.4 197.2 631.7 195.6 632.8 195.2 634.1 195.3 634.4 193.6 635.7 193.5 637 193.6 637.8 193.1 638.1 191.6 639 191.2 639.9 190.8 641.4 191.7 641.9 190.4 643.1 190.7 644.1 190.6 644.8 189.4 645.7 189 647 189.7 647.8 188.8 648.7 187.9 649.9 188.3 650.7 187.3 651.7 186.9 652.4 186.2 653.7 187 654.7 187 655.4 186.2 656.5 186.4 656.9 184.7 657.9 184.7 659 184.8 660.1 185.2 661.1 184.9 661.7 183.7 662.7 183.2 663.7 183.2 664.8 183 666 183.4 666.7 182 668 182.7 669.1 182.4 670 182.3 670.9 182 671.8 181.6 672.6 180.9 673.5 180.7 674.5 180.6 675.6 181.1 676.3 179.8 677.3 179.8 678.5 180.5 679.4 179.5 680.3 179.1 681.3 178.9 682.5 179.5 683.5 179 684.7 179.9 685.7 179.6 686.8 179.6 687.7 178.3 688.8 177.9 689.9 177.7 691 178.2 692.2 178.4 693.1 177.9 694 177.4 695.1 177.6 696.2 177.8 697.2 177.8 698.3 177.8 699.4 177.9 700.5 177.5 701.5 176.5 702.7 177.6 703.8 176.6 704.9 177 706 176.6 707.2 177.1 708.2 176.1 709.3 176.1 710.4 176 711.4 175.8 712.6 176.9 713.6 176.3 714.6 175.9 715.5 175.9 716.6 176.8 717.4 176 718.3 175.5 719.2 176.3 720 176 721.5 176.4 722.5 174.9 723.7 175.4 724.7 175.8 725.5 175.7 726.3 175.8 726.9 174.3 727.8 174.6 728.6 174.3 729.5 174.3 730.6 175.5 731.8 174.9 733.1 175.4 734.7 174.5 735.5 175.3 736.3 174.7 737.1 174.4 737.9 175.2 738.8 175.5 739.7 174.2 740.7 175 741.6 175 742.6 174.4 743.7 174.7 744.7 174.3 745.7 174.5 746.8 174.6 747.9 175.2 748.9 175.3 750.1 174.6 751.2 174.3 752.3 174.9 753.4 175.5 754.5 174.7 755.6 175 756.7 174.9 757.8 175.9 758.9 175.5 760 174.8 761.1 174.9 762.1 175.5 763.2 175.8 764.2 176 765.3 175.2 766.3 175.4 767.1 176.4 768.1 176 769.2 175.9 770.3 176.1 771.3 177.2 772.5 176.3 773.5 176.9 774.6 176.7 775.6 176.9 776.6 177.8 777.6 178.1 778.7 177.3 779.8 177.2 780.7 178.2 781.8 177.5 782.9 177.4 783.6 179 784.7 178.4 785.6 179.2 786.7 178.7 787.5 179.7 788.6 179.2 789.6 178.9 790.6 178.9 791.4 179.9 792.3 180.3 793.1 180.9 794.3 179.8 795 180.9 796 180.7 797 181.1 798.2 180.8 799.2 181.3 800.2 181.9 801 182.8 802.4 181.8 803.2 182.7 804.1 183.4 805 184 806.3 183.1 807.3 183.2 807.9 184.8 808.8 185.1 810 184.7 811.1 184.3 811.6 186 812.8 185.5 813.4 186.6 814.5 186.5 815.3 187.2 816.6 186.6 817.1 187.9 818.4 187.4 819.2 188.1 819.9 189.2 820.8 189.6 822.2 189.1 823.2 189.6 824 190.3 824.8 190.9 825.9 191.2 827 191.3 827.8 192 828.4 193.2 829.2 193.9 830.7 193.3 831.2 194.5 831.9 195.3 833.4 194.9 833.5 196.5 835 196.1 835.3 197.3 836.1 197.8 836.8 198.5 837.9 198.7 838.6 199.6 839.3 200.5 840.2 201 840.8 202 841.8 202.6 842.5 203.3 843.7 203.7 843.7 205.1 844.6 205.8 845.6 206.3 845.6 207.7 846.2 208.5 847.2 209.1 848.1 209.7 848.3 210.8 849.3 211.3 849.8 212.2 849.9 213.3 850.8 214 850.8 215.2 851.1 216.2 852.2 216.8 851.6 218.1 852.8 218.9 852.1 220.1 852.3 221.2 852.9 222 853.9 222.9 853.4 224.1 853.8 225.1 853 226.2 854.4 227.1 853.4 228.3 853.3 229.3 853.9 230.3 853.8 231.4 854.9 232.3 853.7 233.4 854.5 234.4 853.8 235.4 853.9 236.4 855.1 237.5 854 238.5 853.8 239.5 855.1 240.7 854.6 241.7 853.8 242.7 854.7 243.9 853.4 244.8 854.3 245.9 853.3 246.9 854.2 248 853.5 248.9 852.7 249.8 853.6 251 853.4 251.9 852.8 253 852.8 254.1 853 255.4 852.5 256.4 852.2 257.6 850.7 258.3 850.7 259.5 850 260.4 850.8 261.8 849.5 262.5 850.1 263.9 849.1 264.6 848.6 265.4 848.6 266.5 847.5 267 847.6 267.9 847 269.2 846 270.1 846.6 271.6 844.8 271.8 844.7 272.9 844.4 273.9 843.3 274.2 843.2 275.5 841.6 275.5 841.4 276.6 840.9 277.6 839.7 277.8 839.3 278.8 838.8 279.8 837.4 279.7 837.2 281.3 835.6 280.8 835.2 282.1 833.9 282.1 832.7 282 832.1 282.9 831.1 283.1 830.3 283.9 829.4 284.6 828.3 284.8 827.2 284.8 826 284.2 824.9 284.6 823.9 284.6 822.7 284.2 821.9 285.5 820.9 285.5 819.9 284.9 819.1 286 818 286.1 817 285.6 816.2 285.9 815.5 285.5 814.8 285.6 813.9 285 812.9 285.1 811.6 285.9 809.8 285.6 809.2 286 808.7 286.7 807.6 285.7 807.3 287 806.7 287.4 806 287.8 805 287.3 804.1 287.3 803.4 287.7 802.8 288.6 802.1 289.2 801.4 289.9 800.2 289.3 799.3 289.8 798.5 290.5 797.3 290.4 796.4 291.1 795.1 290.7 794.1 291.3 793.1 292.4 791.6 291.7 790.7 293.3 789.2 292.8 787.8 293.3 786.4 293.8 784.9 294.3 784 293.2 783.4 294.6 782.5 293.8 781.6 293.3 781 294.6 780.1 294.6 779.2 294.1 778.3 294.3 777.4 294.2 776.5 294 775.7 295.1 774.7 295 773.8 295.1 772.9 295.6 771.8 294.3 770.8 294.6 769.8 294.8 768.9 296 767.8 294.7 766.8 294.9 765.8 295.4 764.7 295.1 763.7 295.6 762.7 296 761.6 296.3 760.5 296.2 759.5 296.5 758.4 296.1 757.3 295.5 756.2 295.6 755.1 295.5 754 295.7 752.9 296.5 751.8 296.1 750.7 296.3 749.6 295.8 748.5 296.2 747.4 296.7 746.3 296.1 745.1 295.6 744.1 296.8 743 295.8 741.9 297.2 740.8 296.8 739.7 296.9 738.6 296.1 737.5 295.7 736.5 296.1 735.4 296.7 734.3 295.8 733.3 296.7 732.2 296.8 731.2 295.8 730.2 296.2 729.2 296.1 728.1 296.1 727.1 295.5 726.1 296.3 725 295.7 723.9 295.9 722.9 295.5 721.8 296.2 720.7 295.6 719.6 295.8 718.4 296.2 717.3 296.2 716.2 295.5 715 296.3 714 294.9 712.7 296 711.6 296.1 710.4 295.8 709.4 294.4 708.2 295.2 707 295.5 705.8 295.5 704.7 295.4 703.6 294.2 702.5 294.2 701.4 294 700.3 293.8 699 294.8 698 293.8 696.9 294 695.8 293.2 694.8 293.1 693.7 292.8 692.5 294 691.6 292.6 690.5 292.4 689.5 292.2 688.3 293.4 687.4 293.1 686.4 293.2 685.4 293.2 684.6 291.8 683.6 291.7 682.7 291.9 681.8 291.4 680.9 291.6 680 292.1 679.1 292.2 678.3 292.1 677.7 291 676.8 291.7 676.1 291.5 675.4 291.2 674.7 291.7 674.1 291.3 673.4 291.1 670.9 290 668.7 290.2 667.1 289.8 666.4 288.5 665.4 288.8 665.2 288 664.6 288 663.7 288.3 663.7 287.6 663.1 287.3 662.5 286.5 661.2 286.9 660.3 286.1 659.3 286.2 658.2 286.5 657.3 285.3 656.1 286.4 655.2 285.1 654 286 652.9 286.2Z" fill="#050505"/>
<path d="M670.7 283.5L688.4 273 706.5 270.1 709.1 263 726.8 263.8 757.5 264.6 780.5 270.7 797.4 276.9 809.7 284.8 797.4 300.7 780.5 312.9 757.5 323.7 745.2 328.3 732.9 332.1 719.1 329.8 700.7 322.1 693 317.1 680.7 300.2Z" fill="#fff"/>
<path d="M669.7 283.5L680.7 299.6 693 316.2 700.7 319.8 711.4 320.5 722.2 318.6 726 316.8 742.1 316.8 745.2 319.5 757.5 318.9 766.7 316.8 780.5 311.6 797.4 299.6 809.7 285.3 810.9 287.1 798.6 302.6 782.4 315.5 767 324.1 757.5 327.8 750.6 333.4 742.1 332.1 736 334.3 726.8 334.3 717.6 333.1 705.3 330.9 694.5 324.1 679.2 303.3 668.1 285.1Z" fill="#0a0a0a"/>
<path d="M726.2 316.3L742.1 316 742.4 325.4 726.3 325.7Z" fill="#fff" stroke="#111" stroke-width="1.4"/>
<path d="M724.5 315.2C725.4 314.7 726.9 312.4 729.8 311.9C732.8 311.3 738.5 311.4 742.1 312.2C745.7 312.9 749.8 315.8 751.3 316.5" fill="none" stroke="#111" stroke-width="1.3" stroke-linecap="round"/>
<path d="M707.6 270.7C706.8 273.3 703.6 280.9 703 286.1C702.3 291.2 703.6 295.8 703.7 301.4C703.9 307.1 704 316.8 704 319.8" fill="none" stroke="#111" stroke-width="1.2" stroke-dasharray="5 2"/>
<path d="M709.9 275.3C709.4 277.6 707.5 284.3 707.1 289.1C706.8 294 707.5 299.9 707.7 304.5C707.9 309.1 708.2 314.7 708.3 316.8" fill="none" stroke="#111" stroke-width="0.9" stroke-dasharray="3 2"/>
<path d="M760.9 265.3C760.8 268.8 760.3 280.1 760.2 286.1C760.2 292.1 760.5 296.4 760.6 301.4C760.7 306.4 760.8 313.6 760.9 316" fill="none" stroke="#111" stroke-width="1.2" stroke-dasharray="5 2"/>
<path d="M764.9 266.9C764.8 270.1 764.4 280.3 764.4 286.1C764.4 291.8 764.7 296.6 764.9 301.4C765 306.3 765.1 312.9 765.2 315.2" fill="none" stroke="#111" stroke-width="1.0" stroke-dasharray="4 2"/>
<path d="M751.3 298.7C752.9 297.8 757 296.6 760.6 293.7C764.1 290.9 770.8 283.5 772.8 281.5" fill="none" stroke="#111" stroke-width="1.5" stroke-linecap="round"/>
<path d="M756 293.7L766.7 289.1" fill="none" stroke="#111" stroke-width="1.3" stroke-linecap="round"/>
<path d="M766.7 301.4C768.5 301 773.9 299.6 777.4 299.1C781 298.6 786.4 298.5 788.2 298.3" fill="none" stroke="#111" stroke-width="1.4" stroke-linecap="round"/>
<path d="M771.3 304.5L782.1 303" fill="none" stroke="#111" stroke-width="1.2" stroke-linecap="round"/>
<path d="M757.5 284.5L769.8 278.4" fill="none" stroke="#111" stroke-width="1.2" stroke-linecap="round"/>
<path d="M777.4 295.3C779.2 294.5 784.9 291.7 788.2 290.7C791.5 289.6 795.9 289.4 797.4 289.1" fill="none" stroke="#111" stroke-width="1.1" stroke-linecap="round"/>
<path d="M780.5 290.7L791.3 286.1" fill="none" stroke="#111" stroke-width="1.0" stroke-linecap="round"/>
<path d="M674.6 284.5C676.4 285 682.8 286.3 685.3 287.6C687.9 288.9 689.2 291.4 689.9 292.2" fill="none" stroke="#111" stroke-width="1.0" stroke-linecap="round"/>
<path d="M689.9 293.7C690.9 295.5 694.3 302.2 696.1 304.5C697.9 306.8 699.9 307.1 700.7 307.6" fill="none" stroke="#111" stroke-width="1.0" stroke-linecap="round"/>
<path d="M702.2 290.7L709.9 298.3" fill="none" stroke="#111" stroke-width="1.2" stroke-linecap="round"/>
<path d="M703 279.9L706.8 284.5" fill="none" stroke="#111" stroke-width="1.2" stroke-linecap="round"/>
<path d="M754.4 270.7L757.5 273" fill="none" stroke="#111" stroke-width="1.2" stroke-linecap="round"/>
<path d="M726.8 267.6L739.1 267.9" fill="none" stroke="#111" stroke-width="0.9" stroke-linecap="round"/>
<path d="M749.6 302.6l-0.4 0.3M697.4 303.8l0.2 0M772.1 290l0.7 0.9M710.7 277l0.5 -0.8M688.3 283.3l-0.9 -0.4M699.6 275.8l0.3 -0.1M778.8 282.8l-0.9 0M694.2 294.2l0.2 -0.9M683.9 300.7l0.5 -0.1M781.2 283.8l-0.8 -0.6M768.8 301.9l-0.4 0.2M785.1 290.5l0.6 0.9M751.8 295.2l0.3 0.4M699 275.5l0.9 -0.9M728.2 319.9l-0.7 -0.9M779.6 277.9l-0.8 -0.3M780.7 309.2l0.7 0.9M774.6 315l-1 -1M789.3 301.7l-0.3 -0.7M699.6 271.8l-0.8 -0.2M682.7 284.6l-0.3 -0.5M770.6 277.7l-0.9 -0.7M805.1 285.1l-0.8 0.9M759.7 322.3l-0.3 0.6M780.1 295.5l0.6 -0.2M756.8 275.5l-0.6 0.8M757.3 278.3l0.3 0.9M781 291.1l-0.2 -0.8M776.5 273.7l-0.6 -0.9M694.3 287.4l0 -0.6M690.4 295.9l0.8 0.8M749.4 269.6l1 0.8M706.5 282.6l-0.4 0.7M781.4 275.9l-0.1 0.6M705.4 300.7l0.9 -0.3M784 303.7l0.2 0.7M711.3 271l0.8 -0.9M769.5 267.8l-0.2 -0.4M794.8 290.4l0 -0.3M772.4 304.9l-0.5 1M682.7 290.3l-0.3 -0.6M689.9 274.8l0.6 -0.3M680.6 296.6l0.2 -0.4M761.4 289.1l-0.7 0.3M699.2 303l0.5 -1M758 275.7l-0.3 0.4M803.3 283.2l0.5 -0.3M762.4 269.1l0.1 0.5M760.2 301.3l0.4 0.5" fill="none" stroke="#111" stroke-width="0.9" stroke-linecap="round"/>
<path d="M626.2 276.9C624.8 277.1 620.6 277.3 617.8 278.3C615 279.3 611.8 280.7 609.5 283C607.2 285.3 606 286.9 603.9 292.2C601.9 297.5 599.1 307 597.2 314.5C595.3 322.1 594.1 328 592.6 337.6C591.1 347.2 589.5 360.6 588 372.1C586.5 383.6 584.7 395.2 583.4 406.7C582.1 418.2 581.1 429.7 579.9 441.2C578.8 452.7 577.4 462.7 576.5 475.8C575.5 488.8 575 510.4 574.2 519.5C573.3 528.7 572.3 517.8 571.4 530.5C570.6 543.2 569.7 579.5 569.1 595.8C568.6 612.1 567.8 621.8 568.2 628.4C568.5 635 570.9 634.4 571.4 635.6" fill="none" stroke="#111" stroke-width="1.25" stroke-linecap="round" stroke-linejoin="round"/>
<path d="M841.9 275.8C843.8 276.4 850.5 277.6 853.6 279.4C856.7 281.2 858.6 283.8 860.5 286.4C862.5 288.9 863.1 287.8 865.2 294.4C867.4 301 870.9 315 873.2 326.1C875.4 337.1 877 349.1 878.9 360.6C880.8 372.1 883 383.6 884.7 395.2C886.4 406.7 887.9 418.2 889.3 429.7C890.6 441.2 891.8 452.7 892.7 464.3C893.7 475.8 895 487.8 895 498.8C895.1 509.9 892.5 514.4 892.8 530.5C893.1 546.7 895.6 579.5 896.7 595.8C897.8 612.1 899.3 621.8 899.3 628.4C899.3 635 897.2 634.4 896.7 635.6" fill="none" stroke="#111" stroke-width="1.25" stroke-linecap="round" stroke-linejoin="round"/>
<path d="M571.4 635.6C575.5 635.9 587.7 637.9 595.9 637.5C604 637.2 616.3 634 620.4 633.3" fill="none" stroke="#111" stroke-width="1.25" stroke-linecap="round" stroke-linejoin="round"/>
<path d="M576.3 637.5C579 638.2 586.6 641.2 592.6 641.5C598.6 641.7 608.9 639.6 612.2 639.2" fill="none" stroke="#111" stroke-width="1.75" stroke-linecap="round" stroke-linejoin="round"/>
<path d="M569.1 626.8L620.7 625.1" fill="none" stroke="#111" stroke-width="0.75" stroke-linecap="round" stroke-linejoin="round" stroke-dasharray="3 2"/>
<path d="M851.1 633.3C854.8 634.1 865.6 637.8 873.2 638.2C880.9 638.6 892.8 636 896.7 635.6" fill="none" stroke="#111" stroke-width="1.25" stroke-linecap="round" stroke-linejoin="round"/>
<path d="M860.2 638.8C862.9 639.3 871.1 641.6 876.5 641.5C881.9 641.3 890.1 638.7 892.8 638.2" fill="none" stroke="#111" stroke-width="1.75" stroke-linecap="round" stroke-linejoin="round"/>
<path d="M850.4 625.1L899.3 626.8" fill="none" stroke="#111" stroke-width="0.75" stroke-linecap="round" stroke-linejoin="round" stroke-dasharray="3 2"/>
<path d="M641.7 411.3C641 416.3 639.2 430.5 637.5 441.2C635.9 452 633.3 462.7 631.8 475.8C630.2 488.8 629.7 507.7 628.3 519.5C627 531.4 625 532 623.6 546.8C622.3 561.7 620.9 594.4 620.4 608.8C619.9 623.2 620.6 629.2 620.7 633.3" fill="none" stroke="#111" stroke-width="1.25" stroke-linecap="round" stroke-linejoin="round"/>
<path d="M641.7 411.3C642.5 416.3 645.5 432.4 646.7 441.2C648 450.1 649 454.7 649 464.3C649 473.9 647.7 489.6 646.7 498.8C645.8 508 644.7 513.2 643.3 519.5C641.9 525.9 640.5 526.5 638.3 537C636.1 547.6 632.3 567.5 630.2 582.7C628 598 626.1 609.9 625.3 628.4C624.4 646.9 625.2 680.3 625.3 693.7C625.3 707 625.5 706.2 625.6 708.7" fill="none" stroke="#111" stroke-width="1.25" stroke-linecap="round" stroke-linejoin="round"/>
<path d="M827.1 411.3C828.1 416.3 831.1 430.5 832.9 441.2C834.6 452 836.1 462.7 837.5 475.8C838.8 488.8 839.9 507.7 840.9 519.5C842 531.4 842.6 534.1 843.9 546.8C845.2 559.5 847.6 581.4 848.8 595.8C850 610.2 850.7 627 851.1 633.3" fill="none" stroke="#111" stroke-width="1.25" stroke-linecap="round" stroke-linejoin="round"/>
<path d="M827.1 411.3C826.3 416.3 823.8 432.4 822.5 441.2C821.2 450.1 819.2 456.6 819 464.3C818.8 471.9 820.2 478.1 821.3 487.3C822.5 496.5 823.8 509.6 826 519.5C828.1 529.5 831.6 534.1 834.1 546.8C836.5 559.5 839.1 579.5 840.6 595.8C842.1 612.1 842.7 626.7 843.2 644.7C843.7 662.8 843.5 694.2 843.6 704.1" fill="none" stroke="#111" stroke-width="1.25" stroke-linecap="round" stroke-linejoin="round"/>
<path d="M625.6 708.7C625.7 710.3 625.3 715.3 626.1 718.5C626.9 721.7 628.2 724.7 630.3 727.9C632.5 731.1 635.1 734.3 639 737.7C642.8 741.1 647.7 744.7 653.3 748.2C658.9 751.6 666.2 755.7 672.6 758.3C679 760.8 684.8 762.1 691.8 763.5C698.9 764.9 708.7 765.8 715 766.4C721.3 767 727.2 767 729.7 767.1" fill="none" stroke="#111" stroke-width="1.25" stroke-linecap="round" stroke-linejoin="round"/>
<path d="M737.8 767.1C741 766.8 751.7 766.1 757.1 765.6C762.5 765.2 765.6 765.2 770.1 764.5C774.7 763.8 778.9 763.3 784.5 761.5C790.1 759.8 797.8 756.9 803.7 754C809.7 751.1 815.4 747.1 820.1 744.2C824.7 741.4 828.3 739.6 831.5 736.7C834.7 733.9 837.2 730 839.1 726.9C841 723.9 842 721.5 842.9 718.5C843.8 715.4 844.3 711.1 844.4 708.7C844.5 706.3 843.7 704.9 843.6 704.1" fill="none" stroke="#111" stroke-width="1.25" stroke-linecap="round" stroke-linejoin="round"/>
<path d="M638.3 723C639.7 724.3 643.3 728.1 646.7 730.9C650 733.6 653.9 737 658.2 739.5C662.5 742.1 667 744.3 672.6 746.2C678.2 748.1 684.2 749.7 691.8 751.1C699.4 752.5 713.8 753.8 718.3 754.4" fill="none" stroke="#111" stroke-width="1.62" stroke-linecap="round" stroke-linejoin="round"/>
<path d="M752.5 752.6C755.5 752.4 763.2 752.2 770.1 751.1C777 750 786.8 748.6 794 746.2C801.1 743.8 807.6 740.1 813.2 736.7C818.8 733.4 823.4 729.5 827.6 726.1C831.7 722.8 835.5 719.3 838 716.5C840.5 713.7 841.8 710.5 842.6 709.3" fill="none" stroke="#111" stroke-width="1.62" stroke-linecap="round" stroke-linejoin="round"/>
<path d="M627.5 719.1C628.3 717.5 639.6 716.6 641.6 715.9C643.6 715.1 646.7 710.6 647.4 711.6C648.2 712.7 649.1 724.5 648.8 726.3C648.4 728.1 645.6 729 644.2 729.6C642.7 730.1 636.1 733.2 634.4 732.2C632.7 731.1 626.8 720.7 627.5 719.1Z" fill="#111"/>
<path d="M719.9 676.7L749.9 676.7 749.9 689.8 719.9 689.8Z" fill="none" stroke="#111" stroke-width="1.12" stroke-linecap="round" stroke-linejoin="round"/>
<path d="M719.9 676.7L749.9 689.8" fill="none" stroke="#111" stroke-width="0.88" stroke-linecap="round" stroke-linejoin="round"/>
<path d="M749.9 676.7L719.9 689.8" fill="none" stroke="#111" stroke-width="0.88" stroke-linecap="round" stroke-linejoin="round"/>
<path d="M719.9 689.8L716.6 763.8" fill="none" stroke="#111" stroke-width="1.12" stroke-linecap="round" stroke-linejoin="round"/>
<path d="M749.9 689.8L752.5 762.2" fill="none" stroke="#111" stroke-width="1.12" stroke-linecap="round" stroke-linejoin="round"/>
<path d="M731.3 745.9L730.3 766.1" fill="none" stroke="#111" stroke-width="1.12" stroke-linecap="round" stroke-linejoin="round"/>
<path d="M737.8 745.9L738.5 766.1" fill="none" stroke="#111" stroke-width="1.12" stroke-linecap="round" stroke-linejoin="round"/>
<path d="M729.7 767.1L716.6 764.8" fill="none" stroke="#111" stroke-width="1.12" stroke-linecap="round" stroke-linejoin="round"/>
<path d="M738.5 767.1L752.5 762.8" fill="none" stroke="#111" stroke-width="1.12" stroke-linecap="round" stroke-linejoin="round"/>
<path d="M734.3 712.3L734.3 734.9" fill="none" stroke="#111" stroke-width="3.0" stroke-linecap="round" stroke-linejoin="round"/>
<path d="M733.2 735.8L736.1 735.8 736.1 746.4 732.2 746.4Z" fill="none" stroke="#111" stroke-width="1.25" stroke-linecap="round" stroke-linejoin="round"/>
<path d="M726.5 715.7L730.3 713.7" fill="none" stroke="#111" stroke-width="1.62" stroke-linecap="round" stroke-linejoin="round"/>
<path d="M726.9 721.4L731.3 717.6" fill="none" stroke="#111" stroke-width="1.62" stroke-linecap="round" stroke-linejoin="round"/>
<path d="M729.3 729.1L732.2 721.4" fill="none" stroke="#111" stroke-width="1.62" stroke-linecap="round" stroke-linejoin="round"/>
<path d="M738 713.7L743.7 709.9" fill="none" stroke="#111" stroke-width="1.62" stroke-linecap="round" stroke-linejoin="round"/>
<path d="M738.9 717.6L743.7 716.1" fill="none" stroke="#111" stroke-width="1.62" stroke-linecap="round" stroke-linejoin="round"/>
<path d="M738 726.2L740.4 730.1" fill="none" stroke="#111" stroke-width="1.62" stroke-linecap="round" stroke-linejoin="round"/>
<path d="M726.5 742.5L731.3 740.6" fill="none" stroke="#111" stroke-width="1.62" stroke-linecap="round" stroke-linejoin="round"/>
<path d="M741.8 738.7L744.2 743.5" fill="none" stroke="#111" stroke-width="1.62" stroke-linecap="round" stroke-linejoin="round"/>
<path d="M728.4 732.9L731.3 733.9" fill="none" stroke="#111" stroke-width="1.62" stroke-linecap="round" stroke-linejoin="round"/>
<path d="M739.9 708.9L738 709.9" fill="none" stroke="#111" stroke-width="1.62" stroke-linecap="round" stroke-linejoin="round"/>
<path d="M730.3 710.9L732.2 712.3" fill="none" stroke="#111" stroke-width="1.62" stroke-linecap="round" stroke-linejoin="round"/>
<path d="M714 724.1L716.4 724.3" fill="none" stroke="#111" stroke-width="1.62" stroke-linecap="round" stroke-linejoin="round"/>
<path d="M753.3 693.6L754.1 696.5" fill="none" stroke="#111" stroke-width="1.62" stroke-linecap="round" stroke-linejoin="round"/>
<path d="M752.4 717.6L755.3 716.1" fill="none" stroke="#111" stroke-width="1.62" stroke-linecap="round" stroke-linejoin="round"/>
<path d="M736.1 333.5L736.2 712" fill="none" stroke="#111" stroke-width="1.75" stroke-linecap="round" stroke-linejoin="round"/>
<path d="M731.7 336L731.4 677" fill="none" stroke="#111" stroke-width="1.0" stroke-linecap="round" stroke-linejoin="round" stroke-dasharray="5 1.5 1.5 1.5 1 2"/>
<path d="M620.6 320.9C627.1 320 647.5 317.1 659.6 315.9C671.6 314.6 687.4 314 693 313.6" fill="none" stroke="#111" stroke-width="1.25" stroke-linecap="round" stroke-linejoin="round"/>
<path d="M621.2 324.2C627.6 323.4 647.4 320.4 659.6 319.2C671.8 318 688.6 317.6 694.4 317.2" fill="none" stroke="#111" stroke-width="0.88" stroke-linecap="round" stroke-linejoin="round"/>
<path d="M782 312.5C788.1 313.1 807.1 314.4 818.2 315.9C829.3 317.3 843.7 320.5 848.8 321.4" fill="none" stroke="#111" stroke-width="1.25" stroke-linecap="round" stroke-linejoin="round"/>
<path d="M779.3 315.9C785.7 316.4 806.9 317.7 818.2 319.2C829.6 320.7 842.6 323.8 847.4 324.8" fill="none" stroke="#111" stroke-width="0.88" stroke-linecap="round" stroke-linejoin="round"/>
<path d="M608.7 286.9C609.5 289.6 611.2 296.5 613.3 303C615.5 309.6 618.7 318.8 621.4 326.1C624.1 333.4 626 340.7 629.5 346.8C632.9 352.9 638.1 357.5 642.1 362.9C646.2 368.3 650.2 373.3 653.6 379C657.1 384.8 660.2 390.2 662.9 397.5C665.5 404.8 667.7 414.7 669.8 422.8C671.9 430.9 674.6 442 675.5 445.8" fill="none" stroke="#111" stroke-width="1.25" stroke-linecap="round" stroke-linejoin="round"/>
<path d="M675.5 445.8C675.3 448.9 675.3 460 674.4 464.3C673.4 468.5 670.5 470 669.8 471.2" fill="none" stroke="#111" stroke-width="1.12" stroke-linecap="round" stroke-linejoin="round"/>
<path d="M676.2 450.4C676.1 456.6 676.2 475.8 675.5 487.3C674.8 498.8 675 501.5 672.1 519.5C669.1 537.6 660.8 572.2 657.9 595.8C655 619.4 655.4 639.3 654.6 661C653.8 682.8 653.3 715.4 653 726.3" fill="none" stroke="#111" stroke-width="0.88" stroke-linecap="round" stroke-linejoin="round" stroke-dasharray="4 3"/>
<path d="M629.5 346.8C628.5 350.2 625.8 360.2 623.7 367.5C621.6 374.8 619.1 382.9 616.8 390.6C614.5 398.2 611.8 405.5 609.9 413.6C608 421.7 606 434.7 605.3 438.9" fill="none" stroke="#111" stroke-width="1.12" stroke-linecap="round" stroke-linejoin="round" stroke-dasharray="5 2"/>
<path d="M626 349.1C624.9 352.9 621.4 364.5 619.1 372.1C616.8 379.8 614.8 384 612.2 395.2C609.6 406.3 604.9 431.6 603.4 438.9" fill="none" stroke="#111" stroke-width="0.88" stroke-linecap="round" stroke-linejoin="round" stroke-dasharray="3 2"/>
<path d="M614.5 293.8C615.3 296.5 617.2 304.6 619.1 309.9C621 315.3 623.7 319.5 626 326.1C628.3 332.6 631 340.7 632.9 349.1C634.8 357.5 636.8 372.1 637.5 376.7" fill="none" stroke="#111" stroke-width="0.88" stroke-linecap="round" stroke-linejoin="round" stroke-dasharray="4 2"/>
<path d="M859.3 286.9C858.8 290.4 857.6 301.1 855.9 307.6C854.2 314.2 851.7 319.2 849 326.1C846.3 333 843.6 342.2 839.8 349.1C835.9 356 830.6 361.4 826 367.5C821.3 373.7 816.2 379.8 812.1 386C808.1 392.1 804.1 399 801.8 404.4C799.5 409.8 798.7 412.8 798.3 418.2C797.9 423.6 799.3 433.6 799.5 436.6" fill="none" stroke="#111" stroke-width="1.25" stroke-linecap="round" stroke-linejoin="round"/>
<path d="M799.5 436.6C799.1 443.1 797.2 462 797.2 475.8C797.2 489.6 797.1 505 799.5 519.5C801.8 534.1 808.7 539.6 811.2 563.1C813.8 586.7 813.4 631.1 814.5 661C815.6 690.9 817.2 729 817.8 742.6" fill="none" stroke="#111" stroke-width="0.88" stroke-linecap="round" stroke-linejoin="round" stroke-dasharray="4 3"/>
<path d="M839.8 349.1C839 352.9 837.1 362.5 835.2 372.1C833.2 381.7 829.6 400.2 828.3 406.7C826.9 413.2 827.3 410.5 827.1 411.3" fill="none" stroke="#111" stroke-width="1.12" stroke-linecap="round" stroke-linejoin="round"/>
<path d="M839.8 349.1C840.9 352.9 844.4 363.7 846.7 372.1C849 380.6 851.3 389 853.6 399.8C855.9 410.5 859.3 430.5 860.5 436.6" fill="none" stroke="#111" stroke-width="1.12" stroke-linecap="round" stroke-linejoin="round"/>
<path d="M844.4 328.4C842.8 331.8 839 342.6 835.2 349.1C831.3 355.6 826 361 821.3 367.5C816.7 374 811.4 381.3 807.5 388.3C803.7 395.2 799.8 405.5 798.3 409" fill="none" stroke="#111" stroke-width="0.88" stroke-linecap="round" stroke-linejoin="round" stroke-dasharray="4 2"/>
<path d="M586.9 349.1C587.9 343.3 590.5 343.3 591 349.1C591.5 354.9 590.6 377.9 589.6 383.6C588.6 389.4 585.5 389.4 585 383.6C584.5 377.9 585.9 354.9 586.9 349.1Z" fill="#111"/>
<path d="M622.6 608.8L626.2 608.8 626.2 632.3 622.6 632.3Z" fill="#222"/>
<path d="M582.8 437.5C587.7 435.9 601.9 437.3 608.9 439.2C616 441.1 621.7 441.9 625.3 448.9C628.8 456 630.2 469.1 630.2 481.6C630.2 494.1 628.3 514.2 625.3 524C622.3 533.8 617.6 537 612.2 540.3C606.8 543.6 598.9 544.1 592.6 543.6C586.4 543 577.9 540.3 574.7 537C571.4 533.8 572.8 533.2 573.1 524C573.3 514.7 575.2 494.1 576.3 481.6C577.4 469.1 578.5 456.3 579.6 448.9C580.7 441.6 577.9 439.2 582.8 437.5Z" fill="none" stroke="#111" stroke-width="1.38" stroke-linecap="round" stroke-linejoin="round"/>
<path d="M582.2 436.9C584.5 437 591.3 437.2 595.9 437.5C600.5 437.9 605.5 437.9 609.6 438.8C613.7 439.8 618.6 442.4 620.4 443.1" fill="none" stroke="#111" stroke-width="3.25" stroke-linecap="round" stroke-linejoin="round"/>
<path d="M843.9 442.4C849.6 438.6 866.2 434.8 873.2 435.9C880.3 437 883 441.3 886.3 448.9C889.6 456.6 891.2 468 892.8 481.6C894.5 495.2 897.2 520.7 896.1 530.5C895 540.3 891.2 538.4 886.3 540.3C881.4 542.2 872.7 543.6 866.7 541.9C860.7 540.3 854.5 537.9 850.4 530.5C846.3 523.2 844.1 509.9 842.2 497.9C840.3 485.9 838.7 468 839 458.7C839.3 449.5 838.2 446.2 843.9 442.4Z" fill="none" stroke="#111" stroke-width="1.38" stroke-linecap="round" stroke-linejoin="round"/>
<path d="M843.2 442.4C846.1 441.5 855.1 438.3 860.2 437.2C865.3 436.1 870.4 435.3 873.9 435.9C877.4 436.5 880.2 440 881.4 440.8" fill="none" stroke="#111" stroke-width="3.25" stroke-linecap="round" stroke-linejoin="round"/>
<path d="M591 543.6C590.5 552.3 588.6 581.6 587.7 595.8C586.9 609.9 586.4 623 586.1 628.4" fill="none" stroke="#111" stroke-width="1.12" stroke-linecap="round" stroke-linejoin="round"/>
<path d="M878.1 541.9C878.1 550.9 878 581.4 878.1 595.8C878.3 610.2 879 623 879.1 628.4" fill="none" stroke="#111" stroke-width="1.12" stroke-linecap="round" stroke-linejoin="round"/>
<path d="M883 541.9C883 550.9 882.9 581.4 883 595.8C883.1 610.2 883.6 623 883.7 628.4" fill="none" stroke="#111" stroke-width="0.75" stroke-linecap="round" stroke-linejoin="round" stroke-dasharray="3 2"/>
<path d="M837.4 465.3C838.4 466.9 840.9 472.6 843.9 475C846.9 477.5 853.4 479.1 855.3 479.9" fill="none" stroke="#111" stroke-width="1.62" stroke-linecap="round" stroke-linejoin="round"/>
<path d="M839 481.6C840.3 483.7 843.9 491.9 847.1 494.6C850.4 497.3 856.7 497.3 858.6 497.9" fill="none" stroke="#111" stroke-width="1.62" stroke-linecap="round" stroke-linejoin="round"/>
<path d="M840.6 470.2L850.4 471.8" fill="none" stroke="#111" stroke-width="1.25" stroke-linecap="round" stroke-linejoin="round"/>
<path d="M842.2 497.9L848.8 510.9" fill="none" stroke="#111" stroke-width="1.5" stroke-linecap="round" stroke-linejoin="round"/>
<path d="M847.1 491.4L853.7 485.5" fill="none" stroke="#111" stroke-width="1.25" stroke-linecap="round" stroke-linejoin="round"/>
<path d="M839 457.1L843.9 466.9" fill="none" stroke="#111" stroke-width="1.25" stroke-linecap="round" stroke-linejoin="round"/>
<path d="M794.9 517.5C795.4 518.6 796.2 522.3 797.5 524C798.9 525.7 802.2 527.3 803.1 527.9" fill="none" stroke="#111" stroke-width="1.75" stroke-linecap="round" stroke-linejoin="round"/>
<path d="M796.6 458.7L799.8 478.3" fill="none" stroke="#111" stroke-width="1.62" stroke-linecap="round" stroke-linejoin="round"/>
<path d="M798.2 481.6L800.8 507.7" fill="none" stroke="#111" stroke-width="1.38" stroke-linecap="round" stroke-linejoin="round"/>
<path d="M794.3 473.4L798.2 481.6" fill="none" stroke="#111" stroke-width="1.25" stroke-linecap="round" stroke-linejoin="round"/>
<path d="M672.6 442.4C672 445.1 669.6 454.1 669.3 458.7C669 463.4 670.7 468.3 670.9 470.2" fill="none" stroke="#111" stroke-width="1.25" stroke-linecap="round" stroke-linejoin="round"/>
<path d="M675.8 491.4L679.1 497.9" fill="none" stroke="#111" stroke-width="1.62" stroke-linecap="round" stroke-linejoin="round"/>
<path d="M618.7 432.6L623.6 436.5" fill="none" stroke="#111" stroke-width="1.5" stroke-linecap="round" stroke-linejoin="round"/>
<path d="M623.6 453.8L630.2 470.2" fill="none" stroke="#111" stroke-width="1.25" stroke-linecap="round" stroke-linejoin="round"/>
<path d="M620.4 481.6L625.3 488.1" fill="none" stroke="#111" stroke-width="1.25" stroke-linecap="round" stroke-linejoin="round"/>
<path d="M605.7 572.9L610.6 568" fill="none" stroke="#111" stroke-width="1.25" stroke-linecap="round" stroke-linejoin="round"/>
<path d="M635 667.6L637.7 677.4" fill="none" stroke="#111" stroke-width="1.25" stroke-linecap="round" stroke-linejoin="round"/>
<path d="M826.9 677.4L828.2 687.1" fill="none" stroke="#111" stroke-width="1.5" stroke-linecap="round" stroke-linejoin="round"/>
<path d="M837.4 661L840 674.1" fill="none" stroke="#111" stroke-width="1.5" stroke-linecap="round" stroke-linejoin="round"/>
<path d="M724.8 463.6L728 468.5" fill="none" stroke="#111" stroke-width="1.25" stroke-linecap="round" stroke-linejoin="round"/>
<path d="M729.7 721.4L724.8 726.3" fill="none" stroke="#111" stroke-width="1.25" stroke-linecap="round" stroke-linejoin="round"/>
<path d="M742.7 713.2L747.6 718.1" fill="none" stroke="#111" stroke-width="1.12" stroke-linecap="round" stroke-linejoin="round"/>
<path d="M616.8 333C617.9 334.1 622.2 337.6 623.7 339.9C625.2 342.2 625.6 345.6 626 346.8" fill="none" stroke="#111" stroke-width="1.88" stroke-linecap="round" stroke-linejoin="round"/>
<path d="M615.6 343.3L621.4 345.6" fill="none" stroke="#111" stroke-width="1.75" stroke-linecap="round" stroke-linejoin="round"/>
<path d="M619.1 365.2L623.7 367.5" fill="none" stroke="#111" stroke-width="1.62" stroke-linecap="round" stroke-linejoin="round"/>
<path d="M620.2 388.3L623.7 395.2" fill="none" stroke="#111" stroke-width="1.75" stroke-linecap="round" stroke-linejoin="round"/>
<path d="M658.3 349.1L662.9 344.5" fill="none" stroke="#111" stroke-width="1.12" stroke-linecap="round" stroke-linejoin="round"/>
<path d="M634.1 326.1L637.5 339.9" fill="none" stroke="#111" stroke-width="1.25" stroke-linecap="round" stroke-linejoin="round"/>
<path d="M669.8 471.2C670.7 468.5 674 460 675.5 455C677.1 450.1 678.4 443.5 679 441.2" fill="none" stroke="#111" stroke-width="1.38" stroke-linecap="round" stroke-linejoin="round"/>
<path d="M620.2 480.4C621.2 481.9 624.5 488.4 626 489.6C627.5 490.7 628.9 487.7 629.5 487.3" fill="none" stroke="#111" stroke-width="1.25" stroke-linecap="round" stroke-linejoin="round"/>
<path d="M619.1 432L623.7 434.3" fill="none" stroke="#111" stroke-width="1.25" stroke-linecap="round" stroke-linejoin="round"/>
<path d="M676.7 491.9L680.1 501.1" fill="none" stroke="#111" stroke-width="1.5" stroke-linecap="round" stroke-linejoin="round"/>
<path d="M830.6 333L832.9 344.5" fill="none" stroke="#111" stroke-width="1.62" stroke-linecap="round" stroke-linejoin="round"/>
<path d="M812.1 358.3L813.3 367.5" fill="none" stroke="#111" stroke-width="1.75" stroke-linecap="round" stroke-linejoin="round"/>
<path d="M837.5 386L849 388.3" fill="none" stroke="#111" stroke-width="1.75" stroke-linecap="round" stroke-linejoin="round"/>
<path d="M834 372.1C836.5 372.7 845 376 849 375.6C853 375.2 856.7 370.8 858.2 369.8" fill="none" stroke="#111" stroke-width="1.5" stroke-linecap="round" stroke-linejoin="round"/>
<path d="M860.5 349.1L867.4 344.5" fill="none" stroke="#111" stroke-width="1.38" stroke-linecap="round" stroke-linejoin="round"/>
<path d="M858.2 358.3L869.7 351.4" fill="none" stroke="#111" stroke-width="1.38" stroke-linecap="round" stroke-linejoin="round"/>
<path d="M828.3 399.8L837.5 405.5" fill="none" stroke="#111" stroke-width="1.62" stroke-linecap="round" stroke-linejoin="round"/>
<path d="M839.8 464.3L853.6 471.2" fill="none" stroke="#111" stroke-width="1.62" stroke-linecap="round" stroke-linejoin="round"/>
<path d="M838.6 480.4L849 487.3" fill="none" stroke="#111" stroke-width="1.62" stroke-linecap="round" stroke-linejoin="round"/>
<path d="M839.8 494.2L858.2 498.8" fill="none" stroke="#111" stroke-width="1.88" stroke-linecap="round" stroke-linejoin="round"/>
<path d="M842.1 501.1L849 512.6" fill="none" stroke="#111" stroke-width="1.38" stroke-linecap="round" stroke-linejoin="round"/>
<path d="M844.4 333L849 337.6" fill="none" stroke="#111" stroke-width="1.5" stroke-linecap="round" stroke-linejoin="round"/>
<path d="M884.7 413.6L885.4 422.8" fill="none" stroke="#111" stroke-width="1.5" stroke-linecap="round" stroke-linejoin="round"/>
<path d="M724.6 464.3L726.9 467.7" fill="none" stroke="#111" stroke-width="1.38" stroke-linecap="round" stroke-linejoin="round"/>
<path d="M613.7 304.7L617.8 311.7" fill="none" stroke="#111" stroke-width="1.25" stroke-linecap="round" stroke-linejoin="round"/>
<path d="M615 327L622 338.1" fill="none" stroke="#111" stroke-width="1.38" stroke-linecap="round" stroke-linejoin="round"/>
<path d="M631.7 324.2L637.3 338.1" fill="none" stroke="#111" stroke-width="1.25" stroke-linecap="round" stroke-linejoin="round"/>
<path d="M829.3 324.2L832.1 338.1" fill="none" stroke="#111" stroke-width="1.25" stroke-linecap="round" stroke-linejoin="round"/>
<path d="M725.3 598.8l0 0.2M796.9 571.3l-0.9 0.8M713.9 355.5l0.1 0.8M702.2 689.7l0.3 0.8M708.3 342.1l0 0.8M700.8 481.6l0.1 0.5M891.5 601.8l-0.2 0.7M688.5 527l0 0.2M740 384.9l-0.2 0.7M750.3 363.3l0 0.4M720.3 378.4l0.1 0.9M874.3 454.7l0.7 0M657 654.4l0.2 0.1M828.9 684.5l0.4 0.4M775.8 404.8l0.4 1.7M660.3 739.5l0.9 0.7M662.6 401l-1 0.9M861.7 482.3l0.6 0.7M706.5 564.9l1.1 1.3M683.2 456.8l0.3 1.4M832.4 716.7l0.6 0.4M600.7 449.3l0.5 0.7M609.5 538.3l0.1 0.4M675.3 612.5l0 0.4M877.7 455.4l0.3 0.4M789.2 443.4l0.2 0.8M641.1 727.2l-0.3 1.1M722 573.8l-0.5 0.3M643.5 540.1l-0.4 0.6M793.6 447.8l0.1 0.5M669.9 342.6l0 0.4M878.2 570l0.5 0.8M609.8 590.7l0.4 1.5M772.8 405.1l0.2 0.4M835.5 359.2l-0.6 0.6M687 636.7l0.6 0.5M859.5 287.9l-0.1 0.3M805.2 421.5l-0.1 0.4M602 612.3l-0.1 0.6M778.6 505.4l0.2 0.4M805 412.6l-0.5 0.6M709.5 475.2l1.1 0.5M605.6 612.4l-0.9 0.9M643.6 730.8l0.1 0.7M748 431l-0.6 0M821.6 734.4l0 0.8M810.3 681.5l-0.5 0M728.8 371.5l0 0.5M695.8 576.7l0.6 0.6M706.8 326.1l0.8 1.2M759.3 461.7l0.2 0.9M734.6 501.7l0.1 0.3M878.8 421.6l-0.3 0.8M739 593.9l0 0.5M895.9 606.8l0.3 0.3M633.2 589.3l-0.9 0.9M885.8 501l0.1 0.5M647.4 534.2l0.4 0.5M804.7 450.3l0.3 0.8M707.5 430.2l-0.1 0.2M620.7 335.6l-0.1 0.5M643.7 698.5l0.3 1.6M750.9 664.6l-0.2 0.8M772.6 366.8l0.1 1.6M731.8 452.2l0 0.8M754.2 689.6l0.2 0.5M774.3 762.4l-0.1 0.8M825.5 608.5l0.1 1.6M609 296.7l-0.1 0.6M888.2 537.5l-0.6 0M787 414.6l-1 0.6M816.9 416l0.1 0.3M599.3 516.5l0.2 0.6M743.6 760.8l-0.1 0.8M673.5 733.6l0.1 1.3M590 362l-0.7 0.7M713 723.6l-0.4 0.8M727.1 375.9l0 0.3M738.5 606.7l-1.1 0.1M763.7 358.6l0.1 0.3M774.9 436.9l-0.3 1.8M711.9 468.2l-0.3 0.6M783.5 346.6l-0.1 0.4M810.1 513.9l-0.1 0.2M797.8 549.1l-0.2 0.6M869.3 347.6l0.3 0.3M594.3 355.9l-0.4 0.7M843.6 337.7l-0.6 0.5M614.8 422.7l-0.1 0.8M597.2 362.1l0.8 0.1M678.9 747.5l0.3 0.3M807 334.2l-0.6 0.2M712.6 759.6l-1 0M603.2 410.1l-0.5 1.3M822.6 510.1l-0.1 0.2M698.2 617.8l0.4 1.3M862.4 352.9l-0.9 0.5M671.6 422.2l0.2 0.8M804.5 361.2l-0.1 0.3M721.3 450.4l0 0.3M837.7 638.6l-0.1 0.9M807.6 346.3l-0.2 0.2M598.2 315.6l0.1 0.5M627.2 520.1l0 0.3M811.3 653l-0.1 1.4M707.9 479.6l-0.3 0.4M825.9 560.7l0.1 0.8M749.5 474.8l-1 0.8M677.4 629.6l0.6 0.1M616.7 365.5l0.1 0.6M642.2 569.2l0.2 0.2M732.6 611l-1.5 0.8M653.1 627.2l0.2 0.6M570 589.8l0.8 1.2M747.4 347l-0.1 0.7M695.4 581.5l0.1 0.8M626.4 305.1l0.1 0.7M795.4 378l-0.4 0.6M730 499.2l-0.6 1.4M747.2 320.8l-0.2 0.7M843.4 519.7l-0.1 0.3M728.6 334.2l0.1 0.2M837.9 318.3l0 1.8M782.5 426.5l0.1 0.9M767.5 510l0.4 0.6M849 577.8l0.2 0.6M754.7 669l-0.1 0.5M707 650.8l0.1 0.4M843.8 470.1l0.7 0.4M797.2 388l-0.4 1.5M604.8 560.8l0.1 0.5M706.1 716l-0.2 0.6M864.4 405.9l0.3 0.8M610.1 348.6l0 1.6M759.2 644.5l0.3 1.1M719.8 660.7l-0.2 0.9M669.2 678.2l0.4 0.5M759 435.3l0.3 0.8M721.9 361.4l0.2 0.4M611.4 594.3l-0.1 0.3M673.7 320.1l0.5 0.6M703 318.4l0.2 0.7M693.2 413.5l-0.5 0.9M786 551.1l-0.2 0.6M747.7 710.7l0 0.5M643.3 550.1l-0.5 0.6M702.8 680.9l1.1 0.4M820.3 719.9l0.2 0.1M738.8 611.2l-0.5 1.6M835.5 718l1.6 0.1M709.1 555.6l0 0.6M682.3 595.8l0 0.5M810.1 463.9l0.1 0.8M837.6 468.6l-1.6 0.5M688.8 442.1l0.1 1.6M742.5 385.6l-0.1 0.4M804.6 561.3l0 1.3M736.5 399.4l0 0.6M708.3 549.1l0.5 0.4M802.8 537l0 1M571.6 552.4l-0.7 0.3M664.9 600.9l-0.1 0.4M682.9 400.8l0.2 0.8M681.8 686.2l-0.5 0M673.5 641.4l-0.4 0.7M850.6 509.9l0 1.7M769 329.9l0.1 0.2M830 403.9l0.2 0.8M836.8 322.2l-0.1 1.8M790.2 613.2l0 0.8M804.4 662.9l-0.1 0.4M732.4 528.3l0.4 0.4M656 326.6l1.3 1.1M674.5 443.3l0.1 0.6M853.8 494.6l0 0.3M798.9 431.9l-0.2 0.2M775 551.6l0.2 0.9M841.4 636.6l0.5 0.7M883.7 581.2l0.4 0.7M616.5 559.9l0.9 0.4M625.2 466.8l0 0.3M750 343.1l-0.3 0.3M715.6 403.4l-0.5 1M738.3 332l0 1.5M669.5 527.7l0 0.3M853.6 518.2l-0.4 0.8M800.1 736.5l0.5 0.5M695.5 650.4l-0.1 0.8M721 498.4l-0.1 0.7M591.3 538.6l0 0.9M793.6 384.4l-0.3 1M660.2 447.9l0 0.7M751.3 729.9l-0.6 0.6M590.4 616.4l0.3 0.8M605.3 418.8l1.1 0.6M658.8 683.9l-0.1 1.1M805 382l0.8 1M655.2 576l-0.1 0.2M875.9 559.6l-0.2 0.6M653.4 660.2l-0.2 1.2M698.1 331.7l0.3 0.8M742.1 352.5l-0.5 0.6M807.5 344.5l-0.1 0.2M685 703l-0.6 0.4M628.1 374.5l0.1 0.7M756.6 695.8l0.1 0.8M648.9 311.1l-0.7 0.2M650 736.3l0.7 0.8M661.2 490l-0.4 0.8M699.4 548.5l0.1 0.5M652.8 547.6l-0.2 0.6M707.6 579l0 0.5M670.1 440.7l-0.3 0.1M680.9 453.4l0.2 1.3M690.5 384.2l0.5 0M685.2 373.6l-0.7 0.7M848.8 460.8l0.6 1.3M849.3 369.1l-0.9 0.8M627.9 458.7l-0.3 1.1M747 641.9l-0.1 0.3M632.3 409.8l-0.2 0.3M847.5 304.1l0.7 0.9M803.9 513.6l0.7 0.2M781.1 481.7l0 0.2M712.4 702l-0.1 0.2M645.3 573.7l0.5 0.3M839.4 322l0.2 0.6M820 656.7l0.1 0.4M606.2 523.4l-0.2 0.7M863.4 350.7l0.1 0.3M592.5 374l0.2 0.6M750.2 746l0.5 0.6M650.2 325.1l-0.3 0.7M883.1 440l-0.4 0.6M758.4 537l0 0.2M680.4 709.5l0 0.7M736.1 737.1l0.5 0.4M675.5 660.2l-0.5 0.1M848.5 568.1l0.5 0.7M663.9 750.2l-0.3 0.2M656.8 609.5l0 1.2M603.1 571.5l-1.5 0.7M789.7 729.7l0.4 1.7M663.5 496.4l-0.8 0.3M582.4 416.8l0.3 0.4M788.5 500.9l0.9 1.3M708.1 490.4l0.4 1.7M818.2 473.4l0 0.2M729.9 402.3l-0.1 1.3M807.4 378.6l0.1 0.4M644.3 631.4l0 0.4M750.4 626.6l-0.1 0.4M733.6 673.3l0 0.8M619.6 616.4l0 1.7M768.5 586.9l0.4 0.7M632 300.3l0 0.4M689.7 376.7l0.3 0.4M725.4 648.6l-0.2 0.6M691.8 553.4l0.1 0.3M656.2 359.9l0.3 0.3M750.6 466.8l-1 1.1M654.3 310.6l0.7 0.1M759.6 540.3l-0.7 0.6M674.8 439.4l0.3 0.6M602.1 460.6l0 0.8M699.8 654.9l-0.2 0.2M735.5 703.3l-0.8 0.8M664.4 419.8l-0.4 1.3M738.3 389.9l-0.1 0.3M659.1 288.2l-0.4 0.5M740.8 372.3l-0.4 0.1M769.8 686.6l-0.3 1.2M629.1 321.5l0.1 0.9M674.4 572.2l-0.8 1.2M703.7 363.4l-0.4 0.2M632.9 633.9l0.7 0.5M663.9 421.5l0.2 0.7M734.5 352.8l-0.1 0.6M617.1 560.2l0.2 0.8M852.6 572.5l0.1 0.5M873.1 569.1l0.6 0.6M794.8 615.5l0.1 0.2M682.3 410.6l0.1 0.7M632.8 697l-0.2 1.2M767.1 353.7l-0.4 0.3M771.6 648l-0.1 0.7M664.5 741.7l1.3 0.4M605.5 399.9l0.2 1.7M724.1 678.9l0 0.3M597.6 498.2l-0.2 0.2M581.9 624.3l0 0.5M819.6 496.4l-0.3 0.6M878.1 577.4l-0.2 0.3M695.3 428.8l0.1 0.3M776.3 330.5l0.1 0.8M861.4 433.3l-0.4 0.7M633.8 671l-0.6 1.3M791.1 679.2l-0.6 0.4M772.5 457.4l0 0.4M598.6 386.5l-0.2 0.4" fill="none" stroke="#444" stroke-width="0.85" stroke-linecap="round"/>
</g>
<path d="M633.2 200.1l1.6 -1.5M623.6 207.1l1.4 -1.3M623 212.6l0.2 -1.4M616.2 221.7l0.6 -0.8M656.8 187.3l0.6 0.2M616.5 213l0.8 -1.2M612.5 237.6l1 -1.5M611.3 233.3l0 -0.6M641.2 199.9l0.6 -0.9M613.6 228.3l-0.1 -1.5M610.7 237.7l-0.5 -2.2M651.7 192.6l2.2 -0.2M626.7 203l1.7 -0.7M617.9 227.2l0.1 -2.2M613.5 229.1l1.4 -1.6M618.7 210.7l1.1 -0.9M639.9 193.3l1.6 0.3M620.7 211l1.1 -0.4M632.9 199.6l0.5 -1.3M652.1 187.4l0.9 -0.1M616.4 230.9l-0.1 -1.7M613.1 224.5l0.7 -0.5M659.4 187.6l1.8 -0.8M633.1 204.9l0.6 -0.3M616 221.6l-0.1 -1.8M611.1 230l-0.7 -1.7M638.2 202.4l0.6 -1M634.2 201.5l1.3 -1.7M658.3 188.1l1.4 0.3M614 227.4l-0.3 -1M642.7 192l1.4 -0.4M631.7 198l1.8 -0.6M615.9 236.3l-0.1 -1.3M631.2 200.8l0.3 -0.6M661.4 186.2l1.7 -0.4M613.2 236.5l0 -1.7M650.3 191.9l0.9 -0.3M658.1 187.3l0.7 -0.1M611 234.5l0.4 -1.4M638.6 192.9l1.1 0M653.7 195.6l1.8 0.1M631 198.8l0.5 -0.5M614.9 220l-0.2 -0.9M614.1 238.4l0.4 -1.1M615 215.8l1.7 -1.2M619 226.1l-0.1 -2.3M621.5 206.6l1.4 -1.7M650.4 192.2l1.8 -0.2M661.6 187l1.7 0.6M618.5 209.4l0 -1.1M626 202.3l1.1 -1.8M610.7 228.1l-0.6 -1.5M652.5 192l1.2 0.4M633 201.5l1.8 -1.5M666.1 186.3l0.7 -0.1M611.8 237.7l0 -0.8M644.5 196.5l2.4 -0.2M664.8 187.5l1.6 0.1M618.1 228.8l1.1 -2.1M611.8 237.7l0.6 -0.9M632 196.4l1.6 -0.7M618.1 228.7l1.3 -1.5M635 197.3l1.3 0.1M615.7 228.5l0.5 -1.4M624.1 206.2l1.6 -0.7M644.5 190.9l1 -1.1M611.8 229l-0.5 -2.2M620.3 210.7l0.3 -2.4M630.8 203.4l0.2 -0.7M616.3 226.1l0.6 -0.5M629.5 198.4l0.8 -2.1M614.7 219.9l0.6 -1.3M620.4 209.6l1.1 -0.5M646 192l1.1 -0.6M623.1 203.8l0.7 -1.2M642.7 192l1.4 0.3M625.3 203.1l0.4 -0.7M626 212.7l0 -1M665.3 189.7l1.9 0M657.8 186.3l1.8 -0.6M611.9 227.1l0.4 -1.7M610.9 227l0 -1M630 203.8l1.9 -0.2M622.2 204.5l1.7 -0.9M617.1 215.7l1.1 -1.4M615.7 235.3l0.5 -2.3M642.6 191.8l1.6 -1.3M616.6 219.7l1 -1M621.6 212.8l0.1 -0.6M624.4 203.6l1.8 -1M663 188.4l2.2 0.9M621.5 210.4l2.2 -0.7M615.9 213.9l1.1 -0.8M640.8 192.9l1.7 0.3M649.1 194.5l1.3 -0.4M612.2 226.2l-0.4 -1.4M617.1 214.6l1.7 -0.8M633 198l1 -1.7M611.5 235.6l0 -1.2M622.1 209.6l1 -1.9M640.2 193.9l1 -1M639 193.7l1.3 -0.3M648 191.4l0.6 -0.9M651.9 190.3l1.8 -0.2M640 193.5l1 -0.3M619.5 213.6l1.2 -2M643.9 192.3l0.6 -0.7M664.5 186.5l1.5 -0.9M649.1 191.4l1 -1M665.5 186.7l1.8 -1M660 190.3l0.8 -0.2M654.2 194.2l2.3 -0.1M616.6 238.2l-1.1 -1.1M621.2 208.9l0.4 -1.5M617.3 217l1.6 -1.8M617.7 210.1l0.2 -2M655.3 190.6l2 0.2M627.1 203.6l1.6 -0.2M650.8 196.4l0.7 -0.3M649.2 191.8l2.3 0M632.7 201.1l1.3 -1.2M616.1 239l0.4 -0.6M652.4 188.4l1.1 -0.1M611 229l-0.6 -1.6M618.6 215.4l0.2 -1.4M613.7 225.5l0.2 -2.2M629.8 202.1l0.3 -0.8M618.6 227.3l-0.5 -2.2M620 209.2l0 -2M636.1 200.9l2.3 -0.5M615.5 239.1l-0.3 -1.6M642.4 194l2.1 -0.7M620.4 219.5l1.1 -1.8M633.2 200.1l0.9 -0.7M612.2 238.5l-0.8 -1M632.6 199.2l1.6 -0.1M632.8 199.5l0.6 -1.6M617.4 219.1l1.6 -1.6M612.7 228.2l0 -1.2M650.6 189.5l0.9 -0.1M613.7 223.7l-0.1 -1.6M624.5 206.7l0.8 -1.9M637.5 199.3l1.8 -0.4M612.7 229.1l-0.1 -1M664.7 191.2l1.3 -0.1M639.4 194.5l1.2 -1.8M632.9 199.6l0.7 -1.5M656.6 186.5l1.1 0.4M626.7 203l0.7 -0.6M661.6 187.2l1.3 -0.6" fill="none" stroke="#fff" stroke-width="0.9" stroke-linecap="round"/>
<path d="M629.2 251.3l0.7 -0.6M629.7 251.8l0.8 -2.3M636.9 240.7l1 -1.4M624.9 239.6l0.9 -2.4M638.7 241.6l0.1 -0.6M619.9 244.8l0.5 -0.8M623.1 252.1l1.7 -1.7M631.9 254.1l1.1 -0.9M618.3 245.8l1.9 -1.7M633.3 231.5l0.1 -1.8M634.6 242.3l0.2 -0.6M626.1 245.4l0 -2.5M634.2 238l0.3 -0.9M626.6 244.1l1.3 -1.7M638.4 241.5l1.9 -1M635.5 238.8l0.8 -1.5M633.4 228.3l1.7 -1.4M634.1 244.3l0.4 -0.7M623.4 238.7l0.3 -2.3M628.1 233.8l0.9 -0.5M634.3 245.6l0.9 -1.4M635.3 242l0.5 -2.3M626.2 243.5l0.7 -1.7M629.5 239.7l1.3 -0.8M636.3 243.7l1.3 -1.4M623.5 240.1l0.5 -2.5M626.9 233l0.9 -1.9M637.6 244.3l0.8 -0.8M637.6 242l1.1 -0.9M625.7 247l1.1 -1.4M626.5 234.8l1 -1M625.9 251.5l0 -0.6M631.3 239.4l-0.1 -1.4M629.4 236.8l0.1 -0.7M636.6 238l0.5 -0.3M634.2 246.5l1.2 -1.1M634.9 253.1l0.8 -0.8M635 238.9l0.4 -0.5M621.6 247.5l0 -2.2M622.5 238.8l1.4 -2M622.6 235.1l0.7 -0.6M622.8 238.1l0.4 -0.8M626.1 245.6l1.9 -1.6M627.1 243.7l0 -2.6M622.6 242.6l1.4 -1.8" fill="none" stroke="#fff" stroke-width="0.9" stroke-linecap="round"/>
<path d="M845.6 211.7l1 0.4M816.3 194.2l0.7 0.2M812.2 189l1.5 0.7M847.2 216.4l0.4 0.9M848.2 222.3l0.4 0.8M827.2 196.8l1.2 0M817.2 191.6l1 -0.3M836.2 205.4l0.9 0.9M849.4 224.1l0.8 0.9M815.2 190l1.1 -0.3M824.4 196.2l0.8 1.2M821.6 192.9l0.6 0.9M846.4 212.3l1.3 0.9M836.7 204.8l1.3 1.2M846.6 214.6l0.1 0.7M851.4 221.2l-0.3 0.9M852.3 225.9l-0.3 1.5M846.2 212.4l0.5 0.9M826 197l1.6 0.5M819.7 191.8l0.7 -0.1M845.5 211.7l1.2 1.1M842.4 211.6l0.4 2.3M811.3 189.1l1.7 1.4M850.7 219l0.6 1.2M848.2 216.8l1.3 0.8M816.9 192.5l1.5 0.8M820.7 192.4l1.3 1.9M810.8 190.5l0.8 0.1M851.3 223.5l0.2 1M816.2 190.8l0.6 0.5M850.3 219.1l1.8 1.5M839.8 207.4l0.7 0.7M847 217.6l0.4 1.3M832.2 200.3l0.8 0.2M831.3 198.2l1.7 -0.1M848.3 215.7l0.1 2.2M814.9 190.9l1.4 0.6M846.7 217.7l0.2 1.4M851.8 221l0.9 1.5M834.3 202.7l0.5 1.8M817.3 191.4l2 -0.4M823.4 194l1.3 0.2M826 195l1.1 1.7M817.2 191.7l1.1 1.8M849.7 218.2l1.1 1M834.1 201.1l0.5 0.3M850.1 220.5l0.1 1.9M849.1 220.8l0.5 0.7M813.4 191.6l1.9 -0.6M842.2 210.5l1.5 0.4M840.7 205l0.9 1.4M825 196.8l1.3 0.9M812.5 190.9l1.5 0.6M826.5 196.2l1 0.4M845.9 213.9l0 2.3M810.5 191.4l2.3 -0.6M824.4 194.1l1.2 -0.2M826.1 194.9l1.5 1.5M842.1 213.2l0.7 1.4M841.8 208.1l2.2 0.7" fill="none" stroke="#fff" stroke-width="0.9" stroke-linecap="round"/>
<path d="M833 239.7l1 1.8M834.9 237.8l1.9 1.6M835.1 239.8l0.6 0.8M831.5 238.8l1.2 0.7M833.7 241.5l0.7 0.8M832.5 233.9l0 2.3" fill="none" stroke="#fff" stroke-width="0.9" stroke-linecap="round"/>
<path d="M233 203.9l0.7 0.5M219 194.2l1.2 1M230.3 202.6l0.6 1.2M214.4 199.6l1.4 0.4M230.6 194.5l1.3 0.3M217 201.5l1.5 1.6M216.2 201.7l1.3 0.2M237.3 206.5l2 1M229.6 198.1l0.3 0.7M212 196.1l1.9 0.4M216.4 195.9l2.1 1.1M214.8 200.6l0.4 0.8M224.4 200.4l1.5 0.9M227.2 208.3l1.8 1.8M229.3 205.8l0.7 2M223.6 200.6l1.7 1.9M226.7 203.3l0.5 0.6M230.2 209.5l0.6 0.6M222.4 202.5l0.2 0.6M227.1 201.6l0.6 2M234.3 196.1l0.7 1M209.9 202.1l0.9 1.8M227.7 198.1l2 0.4M227.8 213.3l0.9 1.1" fill="none" stroke="#fff" stroke-width="0.9" stroke-linecap="round"/>
<path d="M336.8 230.1l0.4 -2.3M342.2 227.4l0 -0.8M345.3 232l1.9 -1.8M338.3 230.2l0.7 -1.9M350.6 231.1l0.2 -1.8M344 227.1l0.3 -2.5M332.7 214.8l0.3 -0.6M331 227.9l0.3 -0.9M342 227.9l1.6 -1.1M340.7 226.6l1.5 -1.3M339.5 221.6l1.5 -1.7M336.7 222l0.5 -0.9M344.1 217.2l1.1 -0.7M342.8 224.5l0.2 -0.9M350.3 226.9l1.1 -1.5M346.7 225.8l0.1 -1" fill="none" stroke="#fff" stroke-width="0.9" stroke-linecap="round"/>
<path d="M364.7 215.7l0.6 -1.4M364 213.8l0.3 -0.6M366.9 214.1l1 -0.5M363.5 214.3l2.1 -1.2M364.7 213.4l0.6 -1.5M366.5 213.9l1 -0.9" fill="none" stroke="#fff" stroke-width="1.0" stroke-linecap="round"/>
<path d="M279.9 209.8l2 -0.5M291.1 209.6l2 -0.8M304.9 209.4l0.8 0.1M287.4 211.8l2.1 -0.9M285.8 210.6l0.7 0" fill="none" stroke="#fff" stroke-width="0.9" stroke-linecap="round"/>
<path d="M266.6 236.7l0.9 1.5M263 246l0.7 1.6M264.2 240.4l0.7 1M263.8 237.8l2 1.4M275.7 237.7l0.3 0.7M258.5 240.4l1.5 0.1M261.9 233.7l0.8 0.2M251.6 239.6l1.1 0.1M260.6 241.5l0.6 1.1M264.1 243.9l2.1 0.5M265.4 242.5l1.2 1.4M261 238.4l1.2 0.2M256.7 238.2l1.6 1.3M258.8 238.5l1.7 0.1M271.6 245.8l0.9 0M261.2 236.9l0.9 0.8" fill="none" stroke="#fff" stroke-width="0.8" stroke-linecap="round"/>
<g id="dims">
<path d="M124 295L186.5 295" stroke="#000" stroke-width="2.2" fill="none"/>
<path d="M70 644L142.5 644" stroke="#000" stroke-width="2.2" fill="none"/>
<path d="M130.8 308.6L87.6 630.5" stroke="#c81824" stroke-width="1.9" fill="none"/><path d="M132.4 296.3L125.2 311 135.5 312.4Z" fill="#e2001a"/><path d="M86 642.8L82.9 626.7 93.2 628.1Z" fill="#e2001a"/>
<path d="M219.5 393.6L371.4 393.6" stroke="#c41c28" stroke-width="1.6" fill="none"/><path d="M208.7 393.6L222.2 396.6 222.2 390.6Z" fill="#e2001a"/><path d="M382.2 393.6L368.7 396.6 368.7 390.6Z" fill="#e2001a"/>
<path d="M230.1 486.6L368.9 486.6" stroke="#c41c28" stroke-width="1.6" fill="none"/><path d="M218.5 486.6L233 489.9 233 483.3Z" fill="#e2001a"/><path d="M380.5 486.6L366 489.9 366 483.3Z" fill="#e2001a"/>
<path d="M603.8 165.8L603.8 291.5" stroke="#000" stroke-width="2.0" fill="none"/>
<path d="M865.8 166L865.8 296.3" stroke="#000" stroke-width="2.2" fill="none"/>
<path d="M618.4 169L851.2 169" stroke="#c41826" stroke-width="2" fill="none"/><path d="M604.8 169L621.8 173.3 621.8 164.7Z" fill="#e2001a"/><path d="M864.8 169L847.8 173.3 847.8 164.7Z" fill="#e2001a"/>
<path d="M865 294.8L918.5 294.8" stroke="#000" stroke-width="3.0" fill="none"/>
<path d="M771 768.5L958.5 768.5" stroke="#000" stroke-width="2.2" fill="none"/>
<path d="M901.6 306.9L949.4 756.7" stroke="#c81824" stroke-width="1.9" fill="none"/><path d="M900.5 296.6L896.5 310.1 907.2 309Z" fill="#e2001a"/><path d="M950.5 767L943.8 754.6 954.5 753.5Z" fill="#e2001a"/>
<text transform="translate(242.3 389.5) scale(0.86 1)" font-size="39.8">A</text>
<text transform="translate(242.1 478.8) scale(0.815 1)" font-size="39.8">B</text>
<text transform="translate(43.7 484.3) scale(0.83 1)" font-size="39.8">C</text>
<text transform="translate(718.5 164) scale(0.975 1)" font-size="39.8">D</text>
<text transform="translate(988.8 484.2) scale(0.735 1)" font-size="39.8">E</text>
</g>
</svg>
<table>
<colgroup><col style="width:74px"><col style="width:443px"><col style="width:85px"><col style="width:84px"><col style="width:85px"><col style="width:85px"><col style="width:84px"><col style="width:85px"></colgroup>
<tr class="h"><td class="t" colspan="2">Die Maße sind die Außenmaße</td><td>XS</td><td>S</td><td>M</td><td>L</td><td>XL</td><td>XXL</td></tr>
<tr class="g x"><td class="l">A</td><td class="t">Brustweite</td><td>50,5</td><td>52,5</td><td>55,0</td><td>58,0</td><td>61,0</td><td>64,0</td></tr>
<tr class="w"><td class="l">B</td><td class="t">Taillenweite</td><td>46,5</td><td>48,5</td><td>51,0</td><td>54,0</td><td>57,0</td><td>60,0</td></tr>
<tr class="g x"><td class="l">C</td><td class="t">Ärmellänge</td><td>63,0</td><td>63,0</td><td>64,0</td><td>64,0</td><td>65,0</td><td>65,0</td></tr>
<tr class="w"><td class="l">D</td><td class="t">Schulterbreite</td><td>41,0</td><td>42,0</td><td>43,0</td><td>44,5</td><td>46,0</td><td>47,5</td></tr>
<tr class="g x"><td class="l">E</td><td class="t">Gesamtlänge</td><td>82,0</td><td>83,0</td><td>84,0</td><td>85,0</td><td>86,0</td><td>87,0</td></tr>
<tr class="h f"><td class="t" colspan="8">Alle Angaben sind ca. Werte in cm</td></tr>
</table>
</body>
</html>
